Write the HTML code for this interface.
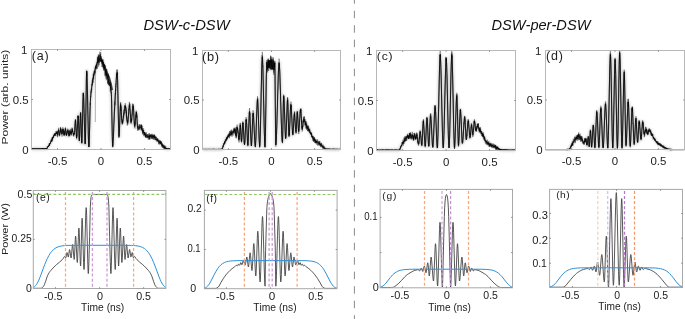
<!DOCTYPE html>
<html><head><meta charset="utf-8"><style>
html,body{margin:0;padding:0;background:#fff;}
svg{display:block;will-change:transform;}
text{font-family:"Liberation Sans",sans-serif;font-kerning:none;}
</style></head><body>
<svg width="685" height="319" viewBox="0 0 685 319">
<rect width="685" height="319" fill="#fff"/>
<line x1="354.4" y1="-3.8" x2="354.4" y2="319" stroke="#8a8a8a" stroke-width="1.0" stroke-dasharray="7.5 7" />
<text transform="translate(143.45,30.06) scale(1.0159,1)" font-size="14.548" style="font-style:italic;" fill="#111" >DSW-c-DSW</text>
<text transform="translate(491.45,30.08) scale(1.0034,1)" font-size="14.573" style="font-style:italic;" fill="#111" >DSW-per-DSW</text>
<text transform="translate(8.37,144.49) rotate(-90) scale(1.2882,1)" font-size="9.338" fill="#222">Power (arb. units)</text>
<text transform="translate(8.1,255) rotate(-90) scale(1.2637,1)" font-size="8.694" fill="#222">Power (W)</text>
<clipPath id="cla"><rect x="31.5" y="50.0" width="139.0" height="103.0"/></clipPath>
<clipPath id="clb"><rect x="202.5" y="51.0" width="138.0" height="102.0"/></clipPath>
<clipPath id="clc"><rect x="376.5" y="51.0" width="139.0" height="103.0"/></clipPath>
<clipPath id="cld"><rect x="545.5" y="51.0" width="139.0" height="102.0"/></clipPath>
<text transform="translate(47.69,164.58) scale(1.0400,1)" font-size="11.000" style="" fill="#222" >-0.5</text>
<text transform="translate(97.82,164.58) scale(1.0400,1)" font-size="11.000" style="" fill="#222" >0</text>
<text transform="translate(136.5,164.58) scale(1.0400,1)" font-size="11.000" style="" fill="#222" >0.5</text>
<text transform="translate(21.1,53.58) scale(1.0400,1)" font-size="11.000" style="" fill="#222" >1</text>
<text transform="translate(12.68,103.89) scale(1.0400,1)" font-size="11.000" style="" fill="#222" >0.5</text>
<text transform="translate(22.28,153.79) scale(1.0400,1)" font-size="11.000" style="" fill="#222" >0</text>
<text transform="translate(218.5,164.58) scale(1.0400,1)" font-size="11.000" style="" fill="#222" >-0.5</text>
<text transform="translate(268.32,164.58) scale(1.0400,1)" font-size="11.000" style="" fill="#222" >0</text>
<text transform="translate(306.69,164.58) scale(1.0400,1)" font-size="11.000" style="" fill="#222" >0.5</text>
<text transform="translate(192.1,54.58) scale(1.0400,1)" font-size="11.000" style="" fill="#222" >1</text>
<text transform="translate(183.68,104.39) scale(1.0400,1)" font-size="11.000" style="" fill="#222" >0.5</text>
<text transform="translate(193.28,153.79) scale(1.0400,1)" font-size="11.000" style="" fill="#222" >0</text>
<text transform="translate(392.79,165.58) scale(1.0400,1)" font-size="11.000" style="" fill="#222" >-0.5</text>
<text transform="translate(442.92,165.58) scale(1.0400,1)" font-size="11.000" style="" fill="#222" >0</text>
<text transform="translate(481.6,165.58) scale(1.0400,1)" font-size="11.000" style="" fill="#222" >0.5</text>
<text transform="translate(366.1,54.58) scale(1.0400,1)" font-size="11.000" style="" fill="#222" >1</text>
<text transform="translate(357.68,104.89) scale(1.0400,1)" font-size="11.000" style="" fill="#222" >0.5</text>
<text transform="translate(367.28,154.79) scale(1.0400,1)" font-size="11.000" style="" fill="#222" >0</text>
<text transform="translate(561.69,164.58) scale(1.0400,1)" font-size="11.000" style="" fill="#222" >-0.5</text>
<text transform="translate(611.82,164.58) scale(1.0400,1)" font-size="11.000" style="" fill="#222" >0</text>
<text transform="translate(650.5,164.58) scale(1.0400,1)" font-size="11.000" style="" fill="#222" >0.5</text>
<text transform="translate(535.1,54.58) scale(1.0400,1)" font-size="11.000" style="" fill="#222" >1</text>
<text transform="translate(526.68,104.39) scale(1.0400,1)" font-size="11.000" style="" fill="#222" >0.5</text>
<text transform="translate(536.28,153.79) scale(1.0400,1)" font-size="11.000" style="" fill="#222" >0</text>
<defs><filter id="bl" x="-5%" y="-5%" width="110%" height="110%"><feGaussianBlur stdDeviation="0.9"/></filter></defs>
<g clip-path="url(#cla)">
<path d="M31.5,148.9 L45.8,148.9 L46.3,148.72 L47.7,147.28 L48.8,145.68 L50,143.59 L53.6,136.41 L54.3,135.27 L55.6,133.53 L56.4,132.72 L57,132.5 L57.4,134.51 L57.5,134.75 L57.6,134.63 L58.3,130.79 L58.5,130.22 L58.6,130.27 L58.8,131.09 L59.3,134.51 L59.5,135.16 L59.6,135.1 L59.8,134.28 L60.4,129.85 L60.6,129.07 L60.7,129.03 L60.9,129.54 L61.5,133.03 L61.8,134.13 L61.9,134.16 L62.1,133.64 L62.7,130.06 L63,129.05 L63.1,129.11 L63.2,129.47 L63.8,134.11 L64,134.92 L64.1,134.91 L64.3,134.38 L65.1,129.85 L65.3,129.23 L65.4,129.15 L65.6,129.75 L66.2,134.42 L66.4,135.29 L66.5,135.34 L66.7,134.96 L67.5,130.98 L67.7,130.28 L67.9,130.06 L68.1,130.64 L68.7,134.87 L69,136.04 L69.1,135.97 L69.3,135.03 L69.9,130.81 L70,130.62 L70.2,130.92 L70.8,133.66 L71.1,134.39 L71.3,133.94 L71.9,130.13 L72.1,129.53 L72.2,129.56 L72.4,130.05 L73.3,134.23 L73.5,134.46 L73.9,134.33 L74.3,134 L74.5,132.85 L75.2,122.47 L75.4,120.66 L75.5,120.4 L75.6,120.8 L75.8,123.56 L76.4,136.19 L76.6,137.7 L76.8,136.75 L77,134.26 L77.9,117.73 L78.1,115.95 L78.2,115.7 L78.3,116.28 L78.5,120.28 L79.1,138.61 L79.3,140.8 L79.4,140.33 L79.6,136.99 L80.3,116.41 L80.5,113.07 L80.6,112.6 L80.7,113.2 L80.9,117.38 L81.5,138.42 L81.7,142.6 L81.8,143.2 L82,140.75 L82.2,134.36 L83,98.04 L83.2,93.44 L83.3,92.8 L83.5,94.38 L83.8,101.57 L84.8,138.15 L85,142.42 L85.2,144 L85.4,140.44 L85.6,131.16 L86.4,78.41 L86.6,71.73 L86.7,70.8 L86.9,72.57 L87.2,80.82 L88.4,136.98 L88.7,145.23 L88.9,147 L89.1,145.01 L89.3,139.77 L90.3,101.72 L90.9,94.16 L91.6,87.79 L92.3,82.99 L93.2,78.16 L94.3,72.96 L95.5,68.48 L97.1,63.2 L97.9,61.05 L99.3,58.94 L99.8,58.48 L100.3,58.3 L100.8,58.52 L101.4,59.23 L102.4,61 L102.8,62 L104.1,66.81 L104.9,69.42 L106.8,75.2 L108.9,81.14 L110.2,85.8 L110.9,89.56 L111.3,92.8 L111.5,97.16 L112.3,136.62 L112.5,143.76 L112.7,146.5 L112.9,145.58 L113.2,141.29 L114.3,113.89 L115.9,84.79 L116.6,75.5 L116.9,73.29 L117.1,72.59 L117.2,72.5 L117.4,74.69 L117.6,80.58 L118.6,128.42 L118.8,134.31 L119,136.5 L119.2,135.12 L119.4,131.48 L120.3,107.36 L120.5,104.76 L120.6,104.4 L120.8,105.21 L121,107.34 L121.9,121.47 L122.1,122.99 L122.2,123.2 L122.4,122.99 L122.6,122.41 L123,120.35 L124.6,108.23 L125,106.45 L125.3,106 L125.4,106.09 L125.6,106.8 L125.9,108.9 L127.1,121.11 L127.4,122.83 L127.6,123.2 L127.7,123.06 L128.1,120.12 L129.1,107.26 L129.3,105.76 L129.5,105.2 L129.7,105.94 L129.9,107.89 L130.8,120.81 L131,122.21 L131.1,122.4 L131.2,122.28 L131.6,119.84 L132.6,108.56 L132.9,106.46 L133.1,106 L133.3,106.87 L133.5,109.17 L134.4,124.43 L134.6,126.07 L134.7,126.3 L134.9,125.69 L135.1,124.1 L136,113.5 L136.2,112.36 L136.3,112.2 L136.5,113 L136.7,115.08 L137.5,126.89 L137.7,128.39 L137.8,128.6 L138.4,128.35 L139.8,127.12 L140.2,127 L140.5,127.09 L140.9,127.45 L141.3,128.03 L142.9,131.16 L143.7,132.36 L145.6,134.84 L147.5,136.8 L147.9,136.99 L148.5,136.94 L150.5,136.17 L151.3,136 L152,136.08 L152.8,136.41 L155.1,137.97 L156,138.72 L161.6,144.51 L164,146.86 L165.2,147.87 L166.3,148.56 L166.9,148.79 L170.3,148.9" fill="none" stroke="#000" stroke-opacity="0.16" stroke-width="3.2" stroke-linejoin="round" filter="url(#bl)"/>
<path d="M31.5,149.0 31.7,149.3 31.8,149.0 32.0,148.3 32.2,149.3 32.3,149.1 32.5,148.7 32.7,149.2 32.8,149.1 33.0,149.0 33.2,148.9 33.3,149.1 33.5,148.6 33.7,148.8 33.8,148.7 34.0,149.2 34.2,148.9 34.3,148.8 34.5,148.6 34.7,148.8 34.8,148.9 35.0,148.8 35.2,149.5 35.3,149.3 35.5,148.0 35.7,148.1 35.8,148.8 36.0,148.7 36.2,149.0 36.3,149.0 36.5,149.8 36.7,148.4 36.8,148.7 37.0,149.8 37.2,149.2 37.3,149.2 37.5,148.7 37.7,148.2 37.8,149.0 38.0,148.9 38.2,148.4 38.3,148.6 38.5,148.9 38.7,148.5 38.8,148.9 39.0,148.9 39.2,148.9 39.3,148.7 39.5,149.2 39.7,149.3 39.8,149.0 40.0,148.5 40.2,149.2 40.3,148.7 40.5,149.3 40.7,148.4 40.8,149.3 41.0,148.9 41.2,148.4 41.3,148.8 41.5,148.9 41.7,149.0 41.8,148.5 42.0,148.4 42.2,149.0 42.3,148.7 42.5,149.0 42.7,149.2 42.8,148.2 43.0,149.0 43.2,149.4 43.3,148.8 43.5,148.6 43.7,149.2 43.8,149.0 44.0,149.3 44.2,148.8 44.3,148.3 44.5,148.9 44.7,148.7 44.8,149.2 45.0,149.0 45.2,148.2 45.3,148.4 45.5,149.3 45.7,149.2 45.8,148.6 46.0,148.9 46.2,149.0 46.3,148.9 46.5,149.0 46.7,148.5 46.8,148.2 47.0,147.9 47.2,148.5 47.3,146.5 47.5,147.4 47.7,147.3 47.8,146.2 48.0,147.1 48.2,146.2 48.3,147.0 48.5,146.1 48.7,146.4 48.8,146.5 49.0,145.6 49.2,144.4 49.3,143.6 49.5,145.9 49.7,144.1 49.8,143.3 50.0,143.7 50.2,143.1 50.3,143.7 50.5,142.6 50.7,142.2 50.8,141.2 51.0,142.0 51.2,140.2 51.3,141.5 51.5,142.0 51.7,138.6 51.8,137.8 52.0,140.1 52.2,141.3 52.3,137.8 52.5,137.2 52.7,138.8 52.8,136.9 53.0,137.0 53.2,136.8 53.3,137.5 53.5,136.1 53.7,136.6 53.8,135.8 54.0,134.7 54.2,135.1 54.3,134.1 54.5,135.0 54.7,133.4 54.8,133.2 55.0,136.1 55.2,134.0 55.3,133.8 55.5,134.3 55.7,132.9 55.8,133.0 56.0,133.6 56.2,133.3 56.3,131.3 56.5,133.7 56.7,131.8 56.8,131.2 57.0,131.3 57.2,132.6 57.3,136.2 57.5,133.3 57.7,134.6 57.8,131.1 58.0,132.6 58.2,132.7 58.3,130.3 58.5,129.4 58.7,130.8 58.8,132.2 59.0,133.3 59.2,136.1 59.3,134.9 59.5,134.5 59.7,134.8 59.8,134.0 60.0,133.0 60.2,131.5 60.3,130.5 60.5,127.1 60.7,130.2 60.8,128.5 61.0,128.4 61.2,131.8 61.3,133.7 61.5,133.7 61.7,134.0 61.8,133.0 62.0,136.5 62.2,134.4 62.3,130.9 62.5,130.3 62.7,130.4 62.8,127.3 63.0,129.3 63.2,128.7 63.3,131.9 63.5,132.9 63.7,130.6 63.8,134.4 64.0,133.0 64.2,136.1 64.3,134.5 64.5,134.1 64.7,131.0 64.8,133.7 65.0,133.0 65.2,128.1 65.3,129.7 65.5,128.4 65.7,130.1 65.8,129.8 66.0,135.2 66.2,133.0 66.3,134.8 66.5,135.9 66.7,134.3 66.8,134.2 67.0,132.9 67.2,132.6 67.3,130.3 67.5,130.4 67.7,130.1 67.8,129.6 68.0,130.3 68.2,130.6 68.3,133.1 68.5,133.0 68.7,134.5 68.8,134.8 69.0,135.4 69.2,134.3 69.3,135.4 69.5,132.1 69.7,131.2 69.8,131.6 70.0,131.2 70.2,130.3 70.3,128.8 70.5,132.7 70.7,133.4 70.8,132.0 71.0,135.2 71.2,133.5 71.3,132.4 71.5,132.9 71.7,131.4 71.8,130.8 72.0,127.5 72.2,132.0 72.3,129.0 72.5,128.4 72.7,132.1 72.8,131.7 73.0,133.5 73.2,133.4 73.3,134.2 73.5,134.8 73.7,133.5 73.8,135.2 74.0,133.7 74.2,133.1 74.3,134.0 74.5,133.4 74.7,130.5 74.8,127.0 75.0,126.3 75.2,120.2 75.3,119.5 75.5,120.5 75.7,119.3 75.8,124.2 76.0,127.8 76.2,132.9 76.3,134.0 76.5,136.6 76.7,138.0 76.8,134.1 77.0,136.7 77.2,130.5 77.3,127.0 77.5,125.9 77.7,121.3 77.8,115.7 78.0,117.7 78.2,117.2 78.3,116.0 78.5,119.8 78.7,126.1 78.8,129.9 79.0,136.7 79.2,140.0 79.3,140.1 79.5,137.5 79.7,135.1 79.8,129.3 80.0,126.6 80.2,120.1 80.3,117.0 80.5,113.3 80.7,113.3 80.8,114.3 81.0,121.6 81.2,129.2 81.3,132.5 81.5,137.8 81.7,142.0 81.8,142.7 82.0,140.1 82.2,135.8 82.3,128.2 82.5,122.8 82.7,112.2 82.8,105.0 83.0,100.0 83.2,93.3 83.3,95.9 83.5,93.1 83.7,96.2 83.8,101.9 84.0,108.3 84.2,112.7 84.3,121.7 84.5,125.9 84.7,135.9 84.8,138.9 85.0,141.8 85.2,143.2 85.3,142.0 85.5,136.1 85.7,125.7 85.8,114.3 86.0,103.4 86.2,90.9 86.3,83.9 86.5,77.1 86.7,70.9 86.8,72.7 87.0,71.5 87.2,81.1 87.3,86.0 87.5,94.7 87.7,105.1 87.8,107.1 88.0,119.6 88.2,125.7 88.3,135.2 88.5,139.0 88.7,144.2 88.8,146.9 89.0,146.9 89.2,143.6 89.3,137.8 89.5,131.6 89.7,126.5 89.8,117.9 90.0,108.0 90.2,106.8 90.3,101.9 90.5,100.5 90.7,96.0 90.8,96.6 91.0,90.9 91.2,92.7 91.3,88.9 91.5,90.1 91.7,89.5 91.8,84.4 92.0,84.8 92.2,83.9 92.3,85.5 92.5,83.4 92.7,78.1 92.8,81.1 93.0,80.9 93.2,83.0 93.3,73.6 93.5,75.4 93.7,79.0 93.8,71.8 94.0,71.4 94.2,74.8 94.3,75.3 94.5,70.5 94.7,72.8 94.8,71.1 95.0,73.9 95.2,69.6 95.3,71.5 95.5,66.3 95.7,67.5 95.8,67.1 96.0,69.6 96.2,67.7 96.3,63.9 96.5,66.9 96.7,66.5 96.8,63.8 97.0,62.7 97.2,62.3 97.3,56.8 97.5,62.7 97.7,62.4 97.8,58.3 98.0,63.3 98.2,55.9 98.3,58.4 98.5,58.4 98.7,66.5 98.8,54.2 99.0,61.2 99.2,62.3 99.3,60.2 99.5,62.7 99.7,55.2 99.8,51.7 100.0,61.0 100.2,54.3 100.3,57.2 100.5,54.3 100.7,62.0 100.8,61.5 101.0,56.3 101.2,62.0 101.3,59.5 101.5,58.9 101.7,59.9 101.8,59.3 102.0,62.3 102.2,61.6 102.3,59.7 102.5,64.6 102.7,59.6 102.8,63.1 103.0,64.0 103.2,68.2 103.3,62.2 103.5,70.3 103.7,65.7 103.8,65.2 104.0,64.2 104.2,69.0 104.3,67.8 104.5,64.5 104.7,65.0 104.8,67.4 105.0,67.5 105.2,73.8 105.3,75.2 105.5,74.1 105.7,72.9 105.8,70.9 106.0,73.0 106.2,76.1 106.3,80.2 106.5,77.2 106.7,73.9 106.8,75.4 107.0,74.2 107.2,73.8 107.3,76.1 107.5,77.7 107.7,83.3 107.8,78.2 108.0,82.7 108.2,84.4 108.3,79.6 108.5,84.9 108.7,82.6 108.8,79.6 109.0,82.3 109.2,82.1 109.3,82.0 109.5,82.7 109.7,84.3 109.8,85.7 110.0,82.3 110.2,85.6 110.3,81.8 110.5,88.0 110.7,89.9 110.8,89.6 111.0,90.9 111.2,92.9 111.3,91.8 111.5,96.7 111.7,104.8 111.8,113.9 112.0,121.9 112.2,132.9 112.3,137.9 112.5,144.6 112.7,147.3 112.8,146.0 113.0,143.8 113.2,140.8 113.3,138.7 113.5,135.9 113.7,130.6 113.8,126.0 114.0,120.6 114.2,117.9 114.3,109.7 114.5,110.4 114.7,107.2 114.8,101.5 115.0,105.0 115.2,95.2 115.3,92.6 115.5,89.2 115.7,91.2 115.8,83.9 116.0,84.7 116.2,82.0 116.3,79.1 116.5,73.4 116.7,73.5 116.8,77.7 117.0,69.8 117.2,70.5 117.3,73.1 117.5,79.1 117.7,83.7 117.8,92.3 118.0,97.1 118.2,109.8 118.3,117.6 118.5,122.0 118.7,132.8 118.8,137.4 119.0,135.6 119.2,135.6 119.3,134.7 119.5,127.0 119.7,121.5 119.8,117.4 120.0,113.6 120.2,109.1 120.3,107.9 120.5,105.3 120.7,102.1 120.8,106.6 121.0,110.8 121.2,112.0 121.3,114.4 121.5,115.6 121.7,119.9 121.8,119.2 122.0,123.6 122.2,123.0 122.3,124.8 122.5,123.5 122.7,120.5 122.8,121.5 123.0,122.3 123.2,117.4 123.3,117.1 123.5,115.4 123.7,112.8 123.8,115.6 124.0,114.8 124.2,112.6 124.3,110.4 124.5,108.8 124.7,108.3 124.8,105.7 125.0,108.1 125.2,108.1 125.3,107.8 125.5,105.4 125.7,107.3 125.8,108.0 126.0,113.0 126.2,111.8 126.3,110.0 126.5,115.8 126.7,120.1 126.8,119.9 127.0,121.7 127.2,121.7 127.3,119.5 127.5,120.3 127.7,121.2 127.8,122.3 128.0,121.6 128.2,120.5 128.3,116.7 128.5,116.5 128.7,112.1 128.8,109.0 129.0,109.8 129.2,105.0 129.3,101.8 129.5,103.2 129.7,105.9 129.8,103.4 130.0,108.5 130.2,111.1 130.3,111.9 130.5,114.5 130.7,118.6 130.8,120.3 131.0,124.2 131.2,122.9 131.3,119.3 131.5,119.3 131.7,120.3 131.8,120.5 132.0,116.1 132.2,113.9 132.3,114.7 132.5,109.5 132.7,107.4 132.8,104.2 133.0,105.2 133.2,109.9 133.3,104.5 133.5,109.2 133.7,109.3 133.8,115.1 134.0,119.5 134.2,120.7 134.3,124.7 134.5,126.5 134.7,126.9 134.8,128.5 135.0,126.2 135.2,122.9 135.3,120.4 135.5,117.9 135.7,117.9 135.8,114.5 136.0,117.0 136.2,115.7 136.3,111.8 136.5,112.4 136.7,117.6 136.8,113.8 137.0,118.9 137.2,123.8 137.3,123.5 137.5,126.2 137.7,127.7 137.8,129.5 138.0,128.8 138.2,129.3 138.3,129.5 138.5,128.3 138.7,130.2 138.8,126.6 139.0,125.1 139.2,124.2 139.3,124.4 139.5,126.3 139.7,129.2 139.8,127.4 140.0,125.9 140.2,124.9 140.3,126.0 140.5,126.3 140.7,126.1 140.8,124.6 141.0,126.7 141.2,129.8 141.3,124.3 141.5,127.9 141.7,124.9 141.8,129.4 142.0,128.0 142.2,126.0 142.3,130.2 142.5,133.7 142.7,130.9 142.8,133.2 143.0,131.2 143.2,128.0 143.3,132.7 143.5,131.3 143.7,129.7 143.8,133.9 144.0,133.3 144.2,132.1 144.3,134.8 144.5,131.9 144.7,134.8 144.8,132.3 145.0,135.0 145.2,132.4 145.3,137.1 145.5,135.2 145.7,137.4 145.8,133.7 146.0,134.5 146.2,136.9 146.3,132.3 146.5,134.0 146.7,137.7 146.8,136.9 147.0,138.0 147.2,136.0 147.3,137.6 147.5,135.6 147.7,134.7 147.8,134.2 148.0,136.1 148.2,136.1 148.3,135.9 148.5,133.7 148.7,133.6 148.8,136.0 149.0,137.3 149.2,135.8 149.3,135.2 149.5,133.3 149.7,139.8 149.8,134.6 150.0,139.2 150.2,138.9 150.3,136.7 150.5,135.2 150.7,136.3 150.8,134.1 151.0,136.5 151.2,136.0 151.3,136.9 151.5,137.6 151.7,138.9 151.8,135.4 152.0,137.8 152.2,134.8 152.3,134.7 152.5,135.2 152.7,134.7 152.8,138.1 153.0,138.0 153.2,138.7 153.3,136.7 153.5,137.3 153.7,136.0 153.8,135.2 154.0,137.9 154.2,137.7 154.3,135.6 154.5,138.5 154.7,134.9 154.8,137.5 155.0,136.9 155.2,137.2 155.3,136.4 155.5,139.8 155.7,139.3 155.8,140.4 156.0,138.9 156.2,136.8 156.3,138.4 156.5,137.3 156.7,140.1 156.8,141.4 157.0,140.2 157.2,139.0 157.3,139.5 157.5,140.5 157.7,138.2 157.8,140.8 158.0,141.1 158.2,140.1 158.3,140.5 158.5,141.5 158.7,140.2 158.8,140.4 159.0,142.9 159.2,142.3 159.3,144.5 159.5,140.9 159.7,139.9 159.8,144.0 160.0,144.2 160.2,142.0 160.3,141.1 160.5,143.3 160.7,141.1 160.8,143.2 161.0,141.2 161.2,143.7 161.3,141.6 161.5,144.1 161.7,146.5 161.8,144.3 162.0,145.9 162.2,144.2 162.3,144.0 162.5,143.4 162.7,146.8 162.8,145.6 163.0,147.8 163.2,144.6 163.3,145.9 163.5,146.4 163.7,148.2 163.8,148.8 164.0,146.1 164.2,145.7 164.3,145.1 164.5,148.8 164.7,147.3 164.8,146.8 165.0,147.6 165.2,145.7 165.3,146.1 165.5,149.0 165.7,148.5 165.8,148.4 166.0,147.8 166.2,148.8 166.3,149.4 166.5,148.0 166.7,148.7 166.8,148.6 167.0,148.9 167.2,148.8 167.3,148.7 167.5,148.4 167.7,148.8 167.8,148.6 168.0,148.8 168.2,148.8 168.3,149.1 168.5,148.6 168.7,148.7 168.8,149.3 169.0,148.8 169.2,148.8 169.3,149.2 169.5,149.0 169.7,148.9 169.8,149.0 170.0,148.3 170.2,149.1" fill="none" stroke="#000" stroke-opacity="0.7" stroke-width="0.45"/>
<path d="M31.5,149.4 31.7,149.1 31.8,148.2 32.0,149.0 32.2,148.5 32.3,148.8 32.5,148.9 32.7,148.4 32.8,149.5 33.0,148.9 33.2,149.2 33.3,149.2 33.5,149.5 33.7,149.4 33.8,148.2 34.0,148.9 34.2,148.0 34.3,148.7 34.5,149.2 34.7,149.3 34.8,149.4 35.0,148.7 35.2,149.0 35.3,148.9 35.5,149.4 35.7,149.6 35.8,148.7 36.0,149.8 36.2,148.9 36.3,148.7 36.5,149.1 36.7,149.2 36.8,149.1 37.0,148.6 37.2,149.5 37.3,148.9 37.5,149.6 37.7,149.5 37.8,148.3 38.0,148.5 38.2,148.5 38.3,149.0 38.5,148.9 38.7,149.0 38.8,148.5 39.0,149.1 39.2,149.5 39.3,148.3 39.5,148.8 39.7,149.0 39.8,148.8 40.0,148.8 40.2,149.7 40.3,149.4 40.5,149.3 40.7,148.6 40.8,149.8 41.0,149.0 41.2,148.6 41.3,148.7 41.5,148.7 41.7,149.8 41.8,149.0 42.0,148.9 42.2,148.0 42.3,149.2 42.5,148.4 42.7,148.4 42.8,149.2 43.0,148.5 43.2,149.3 43.3,149.4 43.5,148.1 43.7,148.8 43.8,148.2 44.0,148.9 44.2,149.3 44.3,148.3 44.5,149.7 44.7,148.8 44.8,148.4 45.0,148.8 45.2,149.2 45.3,148.3 45.5,148.9 45.7,148.3 45.8,149.4 46.0,148.9 46.2,148.6 46.3,149.2 46.5,147.9 46.7,148.2 46.8,149.2 47.0,148.0 47.2,148.6 47.3,147.8 47.5,147.1 47.7,147.1 47.8,147.1 48.0,146.6 48.2,146.1 48.3,145.9 48.5,145.1 48.7,146.0 48.8,145.9 49.0,145.9 49.2,143.6 49.3,145.4 49.5,144.5 49.7,143.0 49.8,144.0 50.0,144.3 50.2,143.7 50.3,143.6 50.5,143.4 50.7,143.0 50.8,141.8 51.0,139.6 51.2,140.4 51.3,141.2 51.5,140.0 51.7,140.8 51.8,140.6 52.0,139.5 52.2,141.2 52.3,137.8 52.5,139.5 52.7,137.7 52.8,137.0 53.0,138.2 53.2,136.5 53.3,137.9 53.5,135.2 53.7,136.3 53.8,135.0 54.0,135.4 54.2,135.0 54.3,133.8 54.5,135.8 54.7,133.3 54.8,133.3 55.0,135.4 55.2,135.3 55.3,134.7 55.5,134.1 55.7,136.0 55.8,131.7 56.0,132.1 56.2,131.6 56.3,133.9 56.5,133.0 56.7,134.0 56.8,133.7 57.0,132.2 57.2,132.0 57.3,132.9 57.5,137.2 57.7,135.6 57.8,134.4 58.0,132.1 58.2,131.2 58.3,130.2 58.5,129.8 58.7,127.8 58.8,131.2 59.0,132.0 59.2,134.0 59.3,134.9 59.5,136.2 59.7,134.9 59.8,135.0 60.0,130.3 60.2,130.1 60.3,132.6 60.5,127.7 60.7,128.6 60.8,130.2 61.0,128.8 61.2,131.9 61.3,130.2 61.5,130.6 61.7,132.1 61.8,132.1 62.0,133.9 62.2,132.9 62.3,132.8 62.5,129.9 62.7,132.9 62.8,129.3 63.0,129.0 63.2,129.9 63.3,130.0 63.5,130.8 63.7,133.2 63.8,135.4 64.0,135.7 64.2,135.9 64.3,133.5 64.5,132.4 64.7,134.9 64.8,131.0 65.0,131.0 65.2,130.6 65.3,131.1 65.5,127.4 65.7,129.5 65.8,130.8 66.0,132.5 66.2,131.7 66.3,135.0 66.5,133.0 66.7,135.4 66.8,135.1 67.0,134.4 67.2,131.2 67.3,133.0 67.5,129.8 67.7,128.7 67.8,128.7 68.0,129.1 68.2,131.2 68.3,133.2 68.5,130.9 68.7,134.0 68.8,136.7 69.0,136.3 69.2,136.3 69.3,133.0 69.5,134.7 69.7,130.1 69.8,131.3 70.0,132.4 70.2,133.3 70.3,132.1 70.5,133.3 70.7,132.3 70.8,133.2 71.0,135.7 71.2,134.3 71.3,133.6 71.5,131.0 71.7,131.8 71.8,131.4 72.0,128.6 72.2,128.8 72.3,132.0 72.5,130.7 72.7,130.9 72.8,130.7 73.0,132.3 73.2,133.5 73.3,136.0 73.5,133.7 73.7,136.6 73.8,133.2 74.0,133.8 74.2,135.2 74.3,133.6 74.5,131.8 74.7,130.6 74.8,128.8 75.0,122.9 75.2,122.5 75.3,120.9 75.5,119.8 75.7,122.6 75.8,123.4 76.0,127.4 76.2,131.8 76.3,136.0 76.5,137.0 76.7,139.3 76.8,135.4 77.0,135.8 77.2,130.2 77.3,127.8 77.5,125.2 77.7,124.5 77.8,120.1 78.0,116.0 78.2,117.9 78.3,116.4 78.5,119.0 78.7,126.1 78.8,131.2 79.0,137.3 79.2,139.2 79.3,141.1 79.5,139.7 79.7,135.7 79.8,130.4 80.0,124.0 80.2,121.4 80.3,115.9 80.5,113.9 80.7,112.3 80.8,115.6 81.0,118.9 81.2,126.7 81.3,133.9 81.5,138.5 81.7,143.0 81.8,143.4 82.0,142.1 82.2,135.4 82.3,126.3 82.5,121.2 82.7,111.9 82.8,102.5 83.0,99.4 83.2,94.5 83.3,93.8 83.5,93.7 83.7,98.2 83.8,103.1 84.0,111.8 84.2,113.9 84.3,121.7 84.5,128.8 84.7,132.0 84.8,137.3 85.0,144.3 85.2,142.5 85.3,142.9 85.5,135.4 85.7,126.1 85.8,112.5 86.0,102.0 86.2,93.6 86.3,78.6 86.5,75.8 86.7,71.7 86.8,76.4 87.0,73.5 87.2,82.5 87.3,88.1 87.5,93.1 87.7,98.8 87.8,113.3 88.0,117.0 88.2,126.6 88.3,135.5 88.5,141.5 88.7,143.9 88.8,146.8 89.0,146.3 89.2,144.6 89.3,140.8 89.5,130.0 89.7,126.5 89.8,114.6 90.0,111.0 90.2,103.1 90.3,105.0 90.5,99.1 90.7,95.2 90.8,93.8 91.0,91.9 91.2,91.9 91.3,89.7 91.5,90.0 91.7,90.6 91.8,87.6 92.0,82.2 92.2,80.2 92.3,81.1 92.5,84.2 92.7,80.1 92.8,78.5 93.0,79.5 93.2,75.0 93.3,74.8 93.5,77.9 93.7,75.2 93.8,74.0 94.0,75.0 94.2,72.1 94.3,71.2 94.5,71.0 94.7,72.9 94.8,71.0 95.0,67.3 95.2,68.9 95.3,70.6 95.5,73.1 95.7,65.1 95.8,68.2 96.0,66.2 96.2,68.3 96.3,66.8 96.5,68.8 96.7,65.9 96.8,62.7 97.0,61.7 97.2,64.3 97.3,63.8 97.5,68.7 97.7,67.2 97.8,57.3 98.0,62.0 98.2,56.1 98.3,54.7 98.5,62.5 98.7,61.6 98.8,56.0 99.0,64.9 99.2,55.8 99.3,55.0 99.5,60.9 99.7,59.3 99.8,57.9 100.0,58.1 100.2,59.1 100.3,57.8 100.5,57.8 100.7,52.0 100.8,54.0 101.0,60.8 101.2,56.5 101.3,61.0 101.5,63.6 101.7,58.5 101.8,60.9 102.0,67.0 102.2,62.9 102.3,67.1 102.5,66.3 102.7,64.1 102.8,61.7 103.0,59.8 103.2,59.5 103.3,65.5 103.5,66.1 103.7,64.6 103.8,68.6 104.0,64.5 104.2,70.7 104.3,67.7 104.5,68.0 104.7,68.7 104.8,68.9 105.0,76.2 105.2,65.0 105.3,71.3 105.5,75.3 105.7,74.1 105.8,71.3 106.0,78.4 106.2,69.9 106.3,69.6 106.5,76.1 106.7,70.2 106.8,69.0 107.0,78.6 107.2,78.6 107.3,79.0 107.5,75.6 107.7,78.1 107.8,75.0 108.0,83.9 108.2,81.4 108.3,81.7 108.5,73.8 108.7,82.9 108.8,85.5 109.0,85.2 109.2,84.5 109.3,82.7 109.5,82.2 109.7,85.7 109.8,85.6 110.0,85.7 110.2,84.7 110.3,91.4 110.5,83.7 110.7,88.0 110.8,87.4 111.0,92.5 111.2,94.6 111.3,95.8 111.5,98.7 111.7,101.1 111.8,115.7 112.0,122.1 112.2,130.1 112.3,138.1 112.5,143.5 112.7,146.7 112.8,146.3 113.0,144.2 113.2,140.0 113.3,138.5 113.5,135.2 113.7,130.9 113.8,125.5 114.0,121.9 114.2,118.7 114.3,112.4 114.5,112.6 114.7,103.5 114.8,101.7 115.0,99.3 115.2,93.9 115.3,92.8 115.5,94.4 115.7,91.5 115.8,86.1 116.0,87.1 116.2,81.2 116.3,77.3 116.5,77.1 116.7,74.6 116.8,75.4 117.0,69.3 117.2,74.9 117.3,72.4 117.5,79.2 117.7,79.7 117.8,89.8 118.0,99.3 118.2,109.7 118.3,114.6 118.5,126.9 118.7,131.4 118.8,134.3 119.0,137.9 119.2,135.6 119.3,134.4 119.5,131.8 119.7,125.6 119.8,118.6 120.0,113.8 120.2,111.2 120.3,107.3 120.5,103.2 120.7,103.2 120.8,106.7 121.0,111.0 121.2,106.2 121.3,113.9 121.5,115.2 121.7,119.6 121.8,122.1 122.0,122.5 122.2,121.6 122.3,121.0 122.5,119.9 122.7,124.0 122.8,121.0 123.0,119.5 123.2,118.8 123.3,115.8 123.5,117.2 123.7,117.5 123.8,115.9 124.0,109.8 124.2,113.6 124.3,108.6 124.5,105.4 124.7,105.6 124.8,105.3 125.0,106.4 125.2,104.2 125.3,103.2 125.5,105.9 125.7,110.7 125.8,107.1 126.0,110.6 126.2,111.6 126.3,116.8 126.5,111.9 126.7,118.8 126.8,116.7 127.0,119.4 127.2,121.4 127.3,125.6 127.5,121.9 127.7,120.3 127.8,124.5 128.0,119.8 128.2,119.0 128.3,117.2 128.5,115.1 128.7,112.3 128.8,110.8 129.0,109.0 129.2,108.3 129.3,104.8 129.5,103.8 129.7,103.7 129.8,108.2 130.0,109.1 130.2,112.6 130.3,115.3 130.5,119.8 130.7,119.6 130.8,122.3 131.0,120.3 131.2,120.7 131.3,121.3 131.5,118.8 131.7,120.3 131.8,115.2 132.0,115.5 132.2,109.9 132.3,109.4 132.5,108.9 132.7,107.5 132.8,103.5 133.0,106.3 133.2,107.9 133.3,108.4 133.5,108.0 133.7,110.8 133.8,112.9 134.0,119.1 134.2,123.3 134.3,122.8 134.5,122.9 134.7,126.6 134.8,127.1 135.0,122.0 135.2,123.6 135.3,124.6 135.5,120.6 135.7,118.0 135.8,115.8 136.0,115.3 136.2,110.8 136.3,110.7 136.5,113.7 136.7,113.5 136.8,117.4 137.0,116.5 137.2,123.5 137.3,126.1 137.5,127.0 137.7,128.5 137.8,130.9 138.0,126.5 138.2,126.8 138.3,126.3 138.5,127.5 138.7,126.2 138.8,128.0 139.0,126.6 139.2,124.9 139.3,124.5 139.5,129.7 139.7,127.1 139.8,126.7 140.0,127.1 140.2,126.8 140.3,128.5 140.5,128.2 140.7,126.1 140.8,125.8 141.0,125.5 141.2,125.4 141.3,130.8 141.5,126.6 141.7,124.9 141.8,127.4 142.0,127.9 142.2,130.3 142.3,128.4 142.5,131.4 142.7,131.4 142.8,133.3 143.0,135.0 143.2,135.2 143.3,134.3 143.5,130.0 143.7,131.6 143.8,133.0 144.0,136.3 144.2,134.2 144.3,135.3 144.5,133.1 144.7,134.7 144.8,135.1 145.0,133.3 145.2,135.7 145.3,136.4 145.5,134.5 145.7,136.7 145.8,137.9 146.0,135.4 146.2,135.5 146.3,135.1 146.5,134.8 146.7,136.2 146.8,135.5 147.0,135.8 147.2,135.2 147.3,134.1 147.5,135.3 147.7,137.4 147.8,135.0 148.0,135.9 148.2,139.7 148.3,138.8 148.5,135.8 148.7,137.9 148.8,135.8 149.0,139.5 149.2,135.8 149.3,136.8 149.5,138.9 149.7,135.1 149.8,138.6 150.0,135.0 150.2,136.7 150.3,135.7 150.5,136.0 150.7,136.4 150.8,135.9 151.0,134.3 151.2,137.5 151.3,137.2 151.5,138.2 151.7,138.3 151.8,133.8 152.0,138.2 152.2,138.3 152.3,135.3 152.5,138.0 152.7,138.8 152.8,135.5 153.0,134.2 153.2,136.0 153.3,140.0 153.5,137.2 153.7,135.0 153.8,136.7 154.0,135.6 154.2,136.7 154.3,137.6 154.5,134.3 154.7,138.2 154.8,140.1 155.0,137.6 155.2,137.4 155.3,139.9 155.5,136.3 155.7,136.4 155.8,136.4 156.0,138.5 156.2,139.5 156.3,138.9 156.5,140.1 156.7,140.7 156.8,140.3 157.0,138.5 157.2,139.5 157.3,142.0 157.5,138.7 157.7,140.0 157.8,140.0 158.0,140.5 158.2,139.4 158.3,139.1 158.5,144.2 158.7,142.9 158.8,140.6 159.0,141.7 159.2,143.0 159.3,141.7 159.5,143.2 159.7,141.6 159.8,142.2 160.0,142.7 160.2,142.4 160.3,140.4 160.5,143.4 160.7,143.9 160.8,144.4 161.0,142.6 161.2,144.5 161.3,144.5 161.5,142.1 161.7,141.9 161.8,145.4 162.0,143.7 162.2,146.4 162.3,147.8 162.5,144.6 162.7,144.7 162.8,145.7 163.0,146.7 163.2,144.7 163.3,147.7 163.5,147.6 163.7,147.3 163.8,146.1 164.0,147.9 164.2,148.0 164.3,145.8 164.5,149.6 164.7,147.1 164.8,148.0 165.0,147.2 165.2,148.3 165.3,149.2 165.5,147.2 165.7,146.5 165.8,147.8 166.0,147.7 166.2,148.1 166.3,148.5 166.5,148.6 166.7,149.3 166.8,148.3 167.0,149.0 167.2,148.6 167.3,149.4 167.5,149.7 167.7,149.0 167.8,149.6 168.0,148.6 168.2,148.2 168.3,148.3 168.5,148.2 168.7,148.5 168.8,148.8 169.0,149.4 169.2,149.2 169.3,149.1 169.5,148.7 169.7,148.6 169.8,148.9 170.0,149.0 170.2,149.0" fill="none" stroke="#000" stroke-opacity="0.7" stroke-width="0.45"/>
<path d="M31.5,148.9 L45.8,148.9 L46.3,148.72 L47.7,147.28 L48.8,145.68 L50,143.59 L53.6,136.41 L54.3,135.27 L55.6,133.53 L56.4,132.72 L57,132.5 L57.4,134.51 L57.5,134.75 L57.6,134.63 L58.3,130.79 L58.5,130.22 L58.6,130.27 L58.8,131.09 L59.3,134.51 L59.5,135.16 L59.6,135.1 L59.8,134.28 L60.4,129.85 L60.6,129.07 L60.7,129.03 L60.9,129.54 L61.5,133.03 L61.8,134.13 L61.9,134.16 L62.1,133.64 L62.7,130.06 L63,129.05 L63.1,129.11 L63.2,129.47 L63.8,134.11 L64,134.92 L64.1,134.91 L64.3,134.38 L65.1,129.85 L65.3,129.23 L65.4,129.15 L65.6,129.75 L66.2,134.42 L66.4,135.29 L66.5,135.34 L66.7,134.96 L67.5,130.98 L67.7,130.28 L67.9,130.06 L68.1,130.64 L68.7,134.87 L69,136.04 L69.1,135.97 L69.3,135.03 L69.9,130.81 L70,130.62 L70.2,130.92 L70.8,133.66 L71.1,134.39 L71.3,133.94 L71.9,130.13 L72.1,129.53 L72.2,129.56 L72.4,130.05 L73.3,134.23 L73.5,134.46 L73.9,134.33 L74.3,134 L74.5,132.85 L75.2,122.47 L75.4,120.66 L75.5,120.4 L75.6,120.8 L75.8,123.56 L76.4,136.19 L76.6,137.7 L76.8,136.75 L77,134.26 L77.9,117.73 L78.1,115.95 L78.2,115.7 L78.3,116.28 L78.5,120.28 L79.1,138.61 L79.3,140.8 L79.4,140.33 L79.6,136.99 L80.3,116.41 L80.5,113.07 L80.6,112.6 L80.7,113.2 L80.9,117.38 L81.5,138.42 L81.7,142.6 L81.8,143.2 L82,140.75 L82.2,134.36 L83,98.04 L83.2,93.44 L83.3,92.8 L83.5,94.38 L83.8,101.57 L84.8,138.15 L85,142.42 L85.2,144 L85.4,140.44 L85.6,131.16 L86.4,78.41 L86.6,71.73 L86.7,70.8 L86.9,72.57 L87.2,80.82 L88.4,136.98 L88.7,145.23 L88.9,147 L89.1,145.01 L89.3,139.77 L90.3,101.72 L90.9,94.16 L91.6,87.79 L92.3,82.99 L93.2,78.16 L94.3,72.96 L95.5,68.48 L97.1,63.2 L97.9,61.05 L99.3,58.94 L99.8,58.48 L100.3,58.3 L100.8,58.52 L101.4,59.23 L102.4,61 L102.8,62 L104.1,66.81 L104.9,69.42 L106.8,75.2 L108.9,81.14 L110.2,85.8 L110.9,89.56 L111.3,92.8 L111.5,97.16 L112.3,136.62 L112.5,143.76 L112.7,146.5 L112.9,145.58 L113.2,141.29 L114.3,113.89 L115.9,84.79 L116.6,75.5 L116.9,73.29 L117.1,72.59 L117.2,72.5 L117.4,74.69 L117.6,80.58 L118.6,128.42 L118.8,134.31 L119,136.5 L119.2,135.12 L119.4,131.48 L120.3,107.36 L120.5,104.76 L120.6,104.4 L120.8,105.21 L121,107.34 L121.9,121.47 L122.1,122.99 L122.2,123.2 L122.4,122.99 L122.6,122.41 L123,120.35 L124.6,108.23 L125,106.45 L125.3,106 L125.4,106.09 L125.6,106.8 L125.9,108.9 L127.1,121.11 L127.4,122.83 L127.6,123.2 L127.7,123.06 L128.1,120.12 L129.1,107.26 L129.3,105.76 L129.5,105.2 L129.7,105.94 L129.9,107.89 L130.8,120.81 L131,122.21 L131.1,122.4 L131.2,122.28 L131.6,119.84 L132.6,108.56 L132.9,106.46 L133.1,106 L133.3,106.87 L133.5,109.17 L134.4,124.43 L134.6,126.07 L134.7,126.3 L134.9,125.69 L135.1,124.1 L136,113.5 L136.2,112.36 L136.3,112.2 L136.5,113 L136.7,115.08 L137.5,126.89 L137.7,128.39 L137.8,128.6 L138.4,128.35 L139.8,127.12 L140.2,127 L140.5,127.09 L140.9,127.45 L141.3,128.03 L142.9,131.16 L143.7,132.36 L145.6,134.84 L147.5,136.8 L147.9,136.99 L148.5,136.94 L150.5,136.17 L151.3,136 L152,136.08 L152.8,136.41 L155.1,137.97 L156,138.72 L161.6,144.51 L164,146.86 L165.2,147.87 L166.3,148.56 L166.9,148.79 L170.3,148.9" fill="none" stroke="#000" stroke-opacity="0.85" stroke-width="0.9" stroke-linejoin="round"/>
</g>
<line x1="95.3" y1="69" x2="95.3" y2="122" stroke="#777" stroke-width="0.6"/>
<path d="M99.2,59.5 C101,58.8 102.5,62 104,66 C105.5,70 107,73.5 108.3,76.5 C109.5,80 110.5,84 111.2,89" fill="none" stroke="#000" stroke-opacity="0.75" stroke-width="1.8" transform="translate(0.9,1.2)"/>
<g clip-path="url(#clb)">
<path d="M202.3,149.4 L221.6,149.4 L221.8,149.32 L222.1,148.95 L222.5,148.08 L223.9,144.03 L225.9,139.89 L228,136.5 L228.8,135.5 L229.9,134.35 L231,133.5 L232.7,132.87 L233.3,132.51 L234.5,130.23 L234.9,129.9 L235.2,130.82 L235.8,134.88 L236.1,135.8 L236.2,135.64 L236.4,134.5 L237,128.8 L237.2,127.66 L237.3,127.5 L237.5,127.91 L237.7,129 L238.7,137.9 L238.9,138.99 L239.1,139.4 L239.2,139.12 L239.4,137.17 L240,127.33 L240.2,125.38 L240.3,125.1 L240.4,125.43 L240.6,127.71 L241.2,139.19 L241.4,141.47 L241.5,141.8 L241.6,141.52 L241.8,139.54 L242.6,124.96 L242.8,122.98 L242.9,122.7 L243,122.95 L243.2,124.73 L244.1,141.26 L244.3,143.75 L244.5,144.7 L244.7,143.72 L244.9,141.12 L245.8,122.68 L246,120.08 L246.2,119.1 L246.4,120.1 L246.6,122.77 L247.5,141.63 L247.7,144.3 L247.9,145.3 L248,144.92 L248.2,142.18 L249.1,116.78 L249.3,112.95 L249.5,111.5 L249.7,112.56 L249.9,115.43 L250.9,140.01 L251.3,145.62 L251.4,145.9 L251.5,145.57 L251.7,143.19 L252.7,117.61 L252.9,114.26 L253.1,113 L253.3,113.78 L253.6,117.4 L254.8,142.1 L255.1,145.72 L255.3,146.5 L255.5,145.41 L255.8,140.35 L257,105.85 L257.3,100.79 L257.5,99.7 L257.7,100.79 L258,105.85 L259.2,140.35 L259.5,145.41 L259.7,146.5 L259.8,146.11 L260,143.2 L260.3,134.4 L261.7,69.1 L262,60.3 L262.2,57.39 L262.3,57 L262.4,57.36 L262.6,60.08 L262.9,68.33 L264.3,131.82 L264.7,143.72 L264.9,146.44 L265,146.8 L265.2,143.89 L265.4,136.1 L266.3,77.99 L266.7,62.76 L266.8,62 L266.9,62.41 L267.3,67.88 L267.5,69.33 L268.1,60.13 L268.2,60.62 L268.6,67.73 L268.7,67.8 L269.2,60.48 L269.3,60.74 L269.4,61.93 L269.7,67.28 L269.8,68.36 L269.9,68.46 L270.5,59.94 L270.6,60.26 L270.7,61.82 L271.1,69.64 L271.2,69.4 L271.3,68.15 L271.8,59.44 L271.9,59.68 L272,60.94 L272.3,67 L272.5,69.06 L272.7,67.55 L273.2,60.65 L273.3,60.77 L273.4,62.14 L273.8,70.02 L273.9,70.08 L274,69.63 L274.6,63.8 L274.8,63 L275,71.53 L275.6,136.47 L275.8,145 L275.9,144.78 L276.1,143.09 L276.5,135.5 L278.3,75.12 L278.7,66.32 L278.9,63.87 L279.1,63 L279.2,63.21 L279.4,64.85 L279.8,72.2 L281.6,130.66 L282,139.18 L282.2,141.56 L282.4,142.4 L282.5,141.62 L282.7,136.1 L283.4,102.1 L283.6,96.58 L283.7,95.8 L283.9,97 L284.1,100.24 L285.2,131.83 L285.5,137.3 L285.7,138.5 L285.9,137.3 L286.1,134.07 L287.1,106.35 L287.4,100.9 L287.6,99.7 L287.7,100.24 L287.9,104.06 L288.7,132.24 L288.9,136.06 L289,136.6 L289.2,135.61 L289.4,132.94 L290.4,110.08 L290.7,105.59 L290.9,104.6 L291.1,105.44 L291.3,107.73 L292.4,130 L292.7,133.86 L292.9,134.7 L293,134.43 L293.2,132.47 L294,117.05 L294.3,113.57 L294.4,113.3 L294.5,113.52 L294.7,115.09 L295.6,129.67 L295.8,131.87 L296,132.7 L296.1,132.34 L296.3,129.82 L297.1,112.76 L297.3,111.4 L297.4,111.7 L297.7,115.42 L298.4,129.3 L298.6,131.4 L298.7,131.7 L298.9,131.01 L299.1,129.15 L300.1,113.22 L300.4,110.09 L300.6,109.4 L300.7,109.62 L300.9,111.19 L301.8,125.77 L302,127.97 L302.2,128.8 L302.4,128.33 L302.6,127.1 L303.4,120.11 L303.6,119.22 L303.7,119.1 L303.8,119.12 L304.1,119.45 L304.4,120.1 L306,125 L307.1,127.03 L310.1,131.89 L312.5,137.31 L313.5,139.12 L314.1,139.81 L315,140.59 L317.5,142.25 L321.6,145.3 L322.3,146.02 L323.9,148.01 L324.6,148.7 L325.3,149.07 L326.3,149.14 L332.8,149.34 L340.5,149.4" fill="none" stroke="#000" stroke-opacity="0.16" stroke-width="3.2" stroke-linejoin="round" filter="url(#bl)"/>
<path d="M202.3,149.5 202.5,149.2 202.6,149.3 202.8,148.8 203.0,149.9 203.1,149.7 203.3,149.3 203.5,149.6 203.6,149.5 203.8,149.2 204.0,149.7 204.1,149.3 204.3,149.3 204.5,149.2 204.6,149.5 204.8,149.4 205.0,149.6 205.1,149.2 205.3,149.4 205.5,149.1 205.6,149.7 205.8,149.5 206.0,149.5 206.1,149.5 206.3,149.1 206.5,149.6 206.6,150.0 206.8,148.9 207.0,148.9 207.1,148.9 207.3,149.7 207.5,149.4 207.6,149.7 207.8,149.6 208.0,149.5 208.1,149.5 208.3,149.3 208.5,149.7 208.6,149.1 208.8,149.3 209.0,149.5 209.1,149.9 209.3,149.2 209.5,149.1 209.6,149.2 209.8,149.7 210.0,149.3 210.1,149.8 210.3,148.8 210.5,149.7 210.6,149.7 210.8,149.0 211.0,149.4 211.1,149.8 211.3,149.4 211.5,149.7 211.6,150.0 211.8,149.5 212.0,149.3 212.1,149.2 212.3,149.6 212.5,149.3 212.6,149.3 212.8,149.4 213.0,149.6 213.1,149.1 213.3,148.9 213.5,148.8 213.6,149.8 213.8,149.4 214.0,149.9 214.1,149.4 214.3,149.2 214.5,149.5 214.6,149.4 214.8,149.0 215.0,149.1 215.1,149.9 215.3,149.5 215.5,149.5 215.6,149.3 215.8,149.2 216.0,149.7 216.1,149.4 216.3,149.2 216.5,149.4 216.6,149.1 216.8,149.5 217.0,149.7 217.1,149.1 217.3,149.8 217.5,149.2 217.6,149.4 217.8,149.1 218.0,149.3 218.1,149.4 218.3,149.3 218.5,149.2 218.6,149.2 218.8,149.2 219.0,148.9 219.1,149.3 219.3,149.5 219.5,149.7 219.6,149.6 219.8,150.0 220.0,149.5 220.1,149.3 220.3,150.0 220.5,149.1 220.6,149.7 220.8,149.1 221.0,149.5 221.1,148.8 221.3,149.7 221.5,149.4 221.6,149.1 221.8,149.9 222.0,149.5 222.1,148.9 222.3,148.2 222.5,148.1 222.6,147.6 222.8,147.7 223.0,147.3 223.1,145.7 223.3,145.3 223.5,144.8 223.6,143.6 223.8,143.8 224.0,143.8 224.1,144.1 224.3,144.3 224.5,142.1 224.6,143.0 224.8,141.7 225.0,143.7 225.1,141.3 225.3,141.6 225.5,139.8 225.6,139.6 225.8,140.3 226.0,139.4 226.1,139.8 226.3,137.5 226.5,139.6 226.6,137.6 226.8,140.2 227.0,137.7 227.1,139.0 227.3,136.0 227.5,137.8 227.6,136.0 227.8,136.2 228.0,136.6 228.1,135.8 228.3,136.6 228.5,137.2 228.6,136.9 228.8,135.3 229.0,132.9 229.1,133.7 229.3,134.6 229.5,131.1 229.6,136.0 229.8,134.0 230.0,133.8 230.1,135.9 230.3,135.2 230.5,134.3 230.6,131.9 230.8,134.2 231.0,134.2 231.1,131.8 231.3,135.3 231.5,134.2 231.6,129.6 231.8,133.4 232.0,130.8 232.1,135.2 232.3,134.5 232.5,130.9 232.6,131.2 232.8,133.0 233.0,132.3 233.1,135.5 233.3,133.9 233.5,131.8 233.6,133.1 233.8,127.8 234.0,131.9 234.1,132.6 234.3,130.2 234.5,128.9 234.6,131.2 234.8,133.8 235.0,130.4 235.1,128.3 235.3,134.2 235.5,129.1 235.6,134.7 235.8,133.8 236.0,137.3 236.1,134.3 236.3,137.6 236.5,134.5 236.6,129.1 236.8,126.8 237.0,128.4 237.1,130.5 237.3,127.8 237.5,127.9 237.6,128.1 237.8,131.2 238.0,131.9 238.1,133.3 238.3,132.6 238.5,138.1 238.6,139.8 238.8,136.3 239.0,142.5 239.1,140.6 239.3,137.5 239.5,132.8 239.6,134.7 239.8,131.6 240.0,126.6 240.1,123.2 240.3,126.8 240.5,125.1 240.6,127.6 240.8,134.0 241.0,137.3 241.1,139.1 241.3,140.1 241.5,142.4 241.6,139.3 241.8,139.7 242.0,136.0 242.1,132.0 242.3,128.1 242.5,127.8 242.6,124.6 242.8,123.2 243.0,124.1 243.1,122.7 243.3,124.3 243.5,126.6 243.6,131.9 243.8,136.7 244.0,138.8 244.1,142.4 244.3,142.7 244.5,144.3 244.6,143.6 244.8,141.4 245.0,141.9 245.1,137.7 245.3,132.1 245.5,128.2 245.6,125.7 245.8,120.5 246.0,121.1 246.1,117.1 246.3,118.8 246.5,119.2 246.6,122.6 246.8,124.7 247.0,128.2 247.1,132.9 247.3,137.1 247.5,140.8 247.6,143.6 247.8,146.3 248.0,145.8 248.1,143.1 248.3,140.8 248.5,134.8 248.6,132.5 248.8,126.1 249.0,118.1 249.1,117.3 249.3,114.4 249.5,108.0 249.6,110.7 249.8,113.0 250.0,113.5 250.1,118.7 250.3,123.2 250.5,129.9 250.6,134.0 250.8,140.0 251.0,141.0 251.1,145.0 251.3,145.7 251.5,146.0 251.6,143.2 251.8,139.4 252.0,136.5 252.1,133.8 252.3,130.2 252.5,124.2 252.6,119.9 252.8,114.3 253.0,116.2 253.1,115.4 253.3,112.9 253.5,115.4 253.6,116.3 253.8,123.3 254.0,125.1 254.1,128.1 254.3,132.6 254.5,136.2 254.6,138.7 254.8,140.9 255.0,143.4 255.1,144.7 255.3,146.8 255.5,147.3 255.6,142.1 255.8,140.5 256.0,136.7 256.1,130.1 256.3,126.6 256.5,119.2 256.6,117.8 256.8,109.8 257.0,106.8 257.1,104.5 257.3,99.9 257.5,96.2 257.6,99.1 257.8,103.6 258.0,105.0 258.1,109.5 258.3,111.9 258.5,119.1 258.6,125.3 258.8,129.5 259.0,136.7 259.1,138.6 259.3,141.4 259.5,143.7 259.6,147.2 259.8,146.1 260.0,144.7 260.1,140.3 260.3,136.4 260.5,129.5 260.6,119.6 260.8,112.5 261.0,105.6 261.1,92.3 261.3,89.7 261.5,81.5 261.6,74.0 261.8,65.2 262.0,61.8 262.1,55.2 262.3,57.2 262.5,56.5 262.6,61.0 262.8,63.9 263.0,71.4 263.1,80.1 263.3,81.9 263.5,94.8 263.6,97.1 263.8,105.7 264.0,117.2 264.1,125.0 264.3,132.4 264.5,135.8 264.6,142.2 264.8,145.5 265.0,147.6 265.1,145.4 265.3,141.1 265.5,131.4 265.6,122.4 265.8,110.6 266.0,101.1 266.1,86.1 266.3,76.1 266.5,71.1 266.6,68.6 266.8,63.0 267.0,63.8 267.1,64.5 267.3,70.6 267.5,70.6 267.6,72.5 267.8,65.7 268.0,59.1 268.1,58.7 268.3,59.7 268.5,62.6 268.6,71.0 268.8,68.7 269.0,60.5 269.1,65.5 269.3,61.4 269.5,60.6 269.6,67.2 269.8,68.2 270.0,66.0 270.1,60.5 270.3,62.3 270.5,60.9 270.6,55.5 270.8,65.5 271.0,69.5 271.1,68.6 271.3,68.4 271.5,64.1 271.6,59.2 271.8,58.5 272.0,63.9 272.1,59.9 272.3,67.6 272.5,69.4 272.6,66.6 272.8,64.9 273.0,59.7 273.1,58.9 273.3,60.8 273.5,64.3 273.6,65.2 273.8,74.9 274.0,68.4 274.1,68.9 274.3,66.2 274.5,64.0 274.6,66.9 274.8,61.8 275.0,72.3 275.1,86.8 275.3,102.0 275.5,125.3 275.6,138.2 275.8,146.6 276.0,144.1 276.1,141.8 276.3,137.9 276.5,134.8 276.6,131.2 276.8,125.5 277.0,119.6 277.1,114.5 277.3,109.2 277.5,106.2 277.6,93.7 277.8,90.0 278.0,83.3 278.1,76.5 278.3,72.1 278.5,68.7 278.6,69.2 278.8,64.4 279.0,62.0 279.1,64.6 279.3,64.5 279.5,65.2 279.6,69.5 279.8,70.2 280.0,78.0 280.1,82.5 280.3,86.0 280.5,90.0 280.6,101.6 280.8,104.7 281.0,114.1 281.1,115.2 281.3,123.1 281.5,126.3 281.6,131.9 281.8,136.5 282.0,137.8 282.1,140.8 282.3,142.3 282.5,142.2 282.6,139.1 282.8,133.2 283.0,124.8 283.1,115.1 283.3,105.7 283.5,97.5 283.6,94.6 283.8,95.0 284.0,99.3 284.1,100.2 284.3,102.7 284.5,110.9 284.6,113.6 284.8,119.1 285.0,125.2 285.1,130.8 285.3,131.6 285.5,135.6 285.6,138.6 285.8,137.8 286.0,135.4 286.1,132.7 286.3,131.2 286.5,124.0 286.6,120.8 286.8,115.9 287.0,108.9 287.1,106.4 287.3,101.4 287.5,99.0 287.6,97.5 287.8,103.5 288.0,105.2 288.1,110.7 288.3,116.3 288.5,127.3 288.6,131.3 288.8,134.4 289.0,135.7 289.1,134.4 289.3,134.8 289.5,132.1 289.6,126.3 289.8,126.1 290.0,121.4 290.1,114.4 290.3,111.2 290.5,108.1 290.6,106.6 290.8,104.6 291.0,101.6 291.1,108.5 291.3,108.3 291.5,112.7 291.6,115.9 291.8,117.1 292.0,121.7 292.1,125.9 292.3,129.3 292.5,130.9 292.6,132.5 292.8,134.5 293.0,133.6 293.1,132.6 293.3,128.3 293.5,128.0 293.6,122.8 293.8,120.0 294.0,117.5 294.1,115.6 294.3,116.9 294.5,113.8 294.6,112.0 294.8,116.6 295.0,117.9 295.1,122.4 295.3,123.8 295.5,126.7 295.6,129.4 295.8,131.0 296.0,130.3 296.1,131.2 296.3,129.8 296.5,128.2 296.6,122.0 296.8,117.8 297.0,115.9 297.1,113.3 297.3,114.2 297.5,113.2 297.6,114.3 297.8,119.5 298.0,123.2 298.1,123.7 298.3,127.9 298.5,127.9 298.6,131.1 298.8,130.4 299.0,130.2 299.1,128.1 299.3,126.2 299.5,123.6 299.6,121.6 299.8,118.3 300.0,114.2 300.1,110.5 300.3,113.1 300.5,112.3 300.6,108.6 300.8,111.2 301.0,109.3 301.1,111.7 301.3,116.8 301.5,122.7 301.6,121.6 301.8,124.5 302.0,130.0 302.1,126.1 302.3,129.6 302.5,128.7 302.6,126.5 302.8,125.7 303.0,126.8 303.1,120.5 303.3,120.3 303.5,119.3 303.6,118.0 303.8,116.9 304.0,121.8 304.1,120.0 304.3,116.2 304.5,118.8 304.6,121.6 304.8,122.1 305.0,118.9 305.1,122.2 305.3,123.5 305.5,124.3 305.6,124.9 305.8,120.9 306.0,128.6 306.1,125.7 306.3,129.2 306.5,129.8 306.6,125.9 306.8,124.1 307.0,128.5 307.1,126.7 307.3,126.5 307.5,125.6 307.6,131.1 307.8,127.3 308.0,125.7 308.1,127.8 308.3,126.7 308.5,129.5 308.6,128.6 308.8,127.7 309.0,131.1 309.1,129.0 309.3,131.8 309.5,133.1 309.6,130.4 309.8,130.2 310.0,132.0 310.1,133.6 310.3,132.3 310.5,132.9 310.6,132.9 310.8,133.9 311.0,134.8 311.1,132.9 311.3,133.7 311.5,135.0 311.6,134.2 311.8,136.0 312.0,137.0 312.1,136.5 312.3,135.9 312.5,136.0 312.6,140.4 312.8,139.3 313.0,136.5 313.1,137.2 313.3,141.8 313.5,141.5 313.6,139.5 313.8,141.3 314.0,137.4 314.1,139.8 314.3,141.1 314.5,137.3 314.6,139.1 314.8,141.6 315.0,142.3 315.1,139.8 315.3,141.3 315.5,143.3 315.6,140.5 315.8,139.2 316.0,141.2 316.1,140.8 316.3,143.4 316.5,141.8 316.6,140.5 316.8,144.7 317.0,141.2 317.1,142.7 317.3,143.1 317.5,143.4 317.6,142.6 317.8,143.3 318.0,142.5 318.1,140.7 318.3,142.5 318.5,142.7 318.6,142.8 318.8,143.4 319.0,142.4 319.1,145.3 319.3,145.7 319.5,140.9 319.6,143.8 319.8,142.9 320.0,141.3 320.1,144.7 320.3,143.4 320.5,143.9 320.6,143.7 320.8,146.1 321.0,146.4 321.1,145.3 321.3,146.0 321.5,145.0 321.6,145.5 321.8,144.5 322.0,145.7 322.1,144.9 322.3,146.5 322.5,147.2 322.6,146.8 322.8,148.1 323.0,149.2 323.1,144.7 323.3,147.3 323.5,146.8 323.6,147.2 323.8,146.4 324.0,148.1 324.1,148.0 324.3,147.8 324.5,148.3 324.6,148.1 324.8,146.9 325.0,150.0 325.1,148.9 325.3,148.7 325.5,149.2 325.6,148.8 325.8,148.3 326.0,149.5 326.1,148.4 326.3,149.0 326.5,149.2 326.6,149.7 326.8,149.7 327.0,149.2 327.1,148.9 327.3,149.0 327.5,149.6 327.6,149.9 327.8,149.4 328.0,148.9 328.1,149.6 328.3,149.1 328.5,149.1 328.6,149.1 328.8,149.5 329.0,149.3 329.1,149.6 329.3,149.8 329.5,149.5 329.6,148.5 329.8,148.6 330.0,149.3 330.1,149.3 330.3,150.0 330.5,149.3 330.6,149.2 330.8,149.7 331.0,149.7 331.1,149.2 331.3,149.5 331.5,148.9 331.6,149.0 331.8,149.8 332.0,148.8 332.1,149.7 332.3,149.6 332.5,149.6 332.6,149.7 332.8,149.5 333.0,148.6 333.1,149.0 333.3,149.1 333.5,149.7 333.6,149.0 333.8,149.1 334.0,149.2 334.1,149.8 334.3,148.9 334.5,148.9 334.6,149.6 334.8,148.7 335.0,149.5 335.1,149.2 335.3,148.8 335.5,149.2 335.6,149.0 335.8,149.4 336.0,149.5 336.1,149.9 336.3,149.4 336.5,149.4 336.6,149.2 336.8,149.4 337.0,149.7 337.1,148.8 337.3,149.6 337.5,149.2 337.6,149.4 337.8,149.5 338.0,149.7 338.1,149.5 338.3,149.3 338.5,149.5 338.6,149.4 338.8,149.3 339.0,149.5 339.1,149.7 339.3,149.4 339.5,149.4 339.6,149.0 339.8,149.4 340.0,148.8 340.1,149.6 340.3,149.1 340.5,149.8" fill="none" stroke="#000" stroke-opacity="0.7" stroke-width="0.45"/>
<path d="M202.3,150.0 202.5,149.3 202.6,149.8 202.8,149.5 203.0,149.2 203.1,149.1 203.3,149.6 203.5,149.8 203.6,149.5 203.8,148.9 204.0,149.1 204.1,149.3 204.3,149.8 204.5,149.5 204.6,149.5 204.8,149.8 205.0,149.3 205.1,149.4 205.3,149.3 205.5,148.9 205.6,149.5 205.8,149.5 206.0,149.7 206.1,149.0 206.3,149.2 206.5,149.7 206.6,149.5 206.8,149.8 207.0,149.1 207.1,149.5 207.3,149.2 207.5,149.5 207.6,149.3 207.8,149.6 208.0,149.7 208.1,149.6 208.3,148.9 208.5,149.7 208.6,149.5 208.8,149.1 209.0,149.1 209.1,149.4 209.3,149.6 209.5,149.3 209.6,148.9 209.8,149.5 210.0,149.5 210.1,150.0 210.3,149.0 210.5,150.0 210.6,149.9 210.8,149.5 211.0,149.9 211.1,149.4 211.3,149.7 211.5,149.2 211.6,149.4 211.8,149.1 212.0,148.9 212.1,149.3 212.3,149.2 212.5,149.6 212.6,149.8 212.8,149.3 213.0,149.4 213.1,149.5 213.3,148.9 213.5,149.5 213.6,149.4 213.8,149.4 214.0,149.1 214.1,148.8 214.3,149.3 214.5,149.5 214.6,149.8 214.8,149.7 215.0,149.8 215.1,149.5 215.3,149.7 215.5,149.3 215.6,149.6 215.8,149.7 216.0,150.0 216.1,149.5 216.3,149.0 216.5,149.8 216.6,149.2 216.8,149.4 217.0,149.3 217.1,149.1 217.3,149.8 217.5,149.6 217.6,149.2 217.8,149.4 218.0,149.3 218.1,149.6 218.3,149.3 218.5,149.2 218.6,149.2 218.8,149.3 219.0,149.5 219.1,149.1 219.3,149.4 219.5,149.5 219.6,150.0 219.8,149.7 220.0,148.8 220.1,149.2 220.3,149.3 220.5,149.5 220.6,149.9 220.8,149.6 221.0,148.8 221.1,149.5 221.3,149.4 221.5,149.5 221.6,149.8 221.8,148.9 222.0,149.6 222.1,148.1 222.3,148.6 222.5,148.4 222.6,148.9 222.8,146.8 223.0,145.6 223.1,146.7 223.3,145.2 223.5,146.4 223.6,144.1 223.8,143.5 224.0,144.9 224.1,143.6 224.3,144.1 224.5,141.5 224.6,144.0 224.8,141.5 225.0,142.5 225.1,140.4 225.3,139.5 225.5,140.5 225.6,140.6 225.8,141.7 226.0,140.1 226.1,140.2 226.3,139.9 226.5,141.0 226.6,137.7 226.8,139.7 227.0,137.9 227.1,138.1 227.3,136.9 227.5,138.6 227.6,135.6 227.8,135.3 228.0,136.3 228.1,134.3 228.3,137.4 228.5,137.5 228.6,134.3 228.8,136.9 229.0,134.1 229.1,135.1 229.3,135.0 229.5,138.2 229.6,134.6 229.8,132.8 230.0,132.6 230.1,136.3 230.3,130.9 230.5,133.0 230.6,133.0 230.8,129.9 231.0,132.6 231.1,135.3 231.3,133.8 231.5,131.6 231.6,134.5 231.8,134.1 232.0,136.9 232.1,131.7 232.3,132.3 232.5,133.0 232.6,132.6 232.8,133.0 233.0,132.5 233.1,131.3 233.3,129.5 233.5,131.2 233.6,129.4 233.8,129.7 234.0,130.2 234.1,131.9 234.3,132.2 234.5,128.2 234.6,130.6 234.8,131.5 235.0,129.8 235.1,127.3 235.3,127.6 235.5,134.1 235.6,135.5 235.8,135.3 236.0,133.7 236.1,138.3 236.3,137.3 236.5,133.8 236.6,131.9 236.8,126.8 237.0,130.5 237.1,124.6 237.3,128.8 237.5,129.2 237.6,128.7 237.8,132.8 238.0,130.5 238.1,133.8 238.3,135.8 238.5,136.4 238.6,136.6 238.8,140.6 239.0,139.9 239.1,139.0 239.3,138.0 239.5,136.4 239.6,137.2 239.8,130.6 240.0,127.3 240.1,124.3 240.3,123.3 240.5,123.2 240.6,128.5 240.8,131.4 241.0,133.6 241.1,136.4 241.3,140.2 241.5,141.2 241.6,140.0 241.8,139.8 242.0,137.0 242.1,133.5 242.3,131.2 242.5,126.1 242.6,126.5 242.8,121.4 243.0,123.6 243.1,124.9 243.3,125.7 243.5,129.5 243.6,130.6 243.8,133.9 244.0,138.7 244.1,141.0 244.3,144.2 244.5,144.7 244.6,144.7 244.8,142.9 245.0,140.2 245.1,136.8 245.3,132.5 245.5,128.6 245.6,128.7 245.8,119.9 246.0,120.1 246.1,120.8 246.3,120.0 246.5,123.0 246.6,124.1 246.8,124.7 247.0,129.8 247.1,132.3 247.3,138.9 247.5,142.5 247.6,143.1 247.8,145.4 248.0,144.8 248.1,142.0 248.3,139.5 248.5,133.6 248.6,129.7 248.8,125.5 249.0,121.4 249.1,118.1 249.3,112.3 249.5,111.9 249.6,112.7 249.8,114.7 250.0,113.4 250.1,119.1 250.3,125.8 250.5,127.5 250.6,133.9 250.8,138.7 251.0,139.4 251.1,143.9 251.3,145.8 251.5,145.7 251.6,142.9 251.8,141.6 252.0,136.7 252.1,133.8 252.3,128.5 252.5,122.4 252.6,119.3 252.8,114.4 253.0,112.3 253.1,110.2 253.3,113.3 253.5,116.7 253.6,118.0 253.8,120.9 254.0,123.4 254.1,127.4 254.3,132.9 254.5,133.8 254.6,141.2 254.8,142.0 255.0,146.1 255.1,146.8 255.3,146.1 255.5,146.2 255.6,143.7 255.8,140.7 256.0,137.0 256.1,130.6 256.3,125.2 256.5,120.1 256.6,113.3 256.8,110.2 257.0,106.8 257.1,103.4 257.3,100.9 257.5,98.7 257.6,101.5 257.8,98.2 258.0,104.1 258.1,108.3 258.3,115.1 258.5,119.7 258.6,125.2 258.8,129.3 259.0,135.4 259.1,137.6 259.3,142.4 259.5,143.4 259.6,147.5 259.8,147.2 260.0,143.2 260.1,138.8 260.3,131.9 260.5,125.4 260.6,120.1 260.8,111.5 261.0,100.3 261.1,93.5 261.3,84.7 261.5,79.4 261.6,73.0 261.8,64.7 262.0,61.0 262.1,57.7 262.3,51.8 262.5,58.1 262.6,60.2 262.8,66.6 263.0,65.9 263.1,78.8 263.3,83.1 263.5,93.1 263.6,103.2 263.8,106.4 264.0,115.0 264.1,126.2 264.3,130.1 264.5,136.4 264.6,142.7 264.8,145.1 265.0,147.2 265.1,145.6 265.3,140.3 265.5,133.7 265.6,125.8 265.8,111.0 266.0,102.4 266.1,90.4 266.3,77.9 266.5,70.4 266.6,61.3 266.8,60.1 267.0,63.4 267.1,64.9 267.3,70.8 267.5,65.8 267.6,67.2 267.8,63.0 268.0,60.8 268.1,62.8 268.3,58.8 268.5,67.5 268.6,66.1 268.8,65.6 269.0,65.8 269.1,59.9 269.3,62.1 269.5,63.0 269.6,65.4 269.8,67.2 270.0,63.4 270.1,63.2 270.3,62.3 270.5,60.3 270.6,56.5 270.8,66.3 271.0,69.1 271.1,66.2 271.3,65.3 271.5,65.8 271.6,56.6 271.8,57.2 272.0,60.0 272.1,62.9 272.3,66.6 272.5,69.7 272.6,66.1 272.8,64.5 273.0,68.1 273.1,57.2 273.3,59.3 273.5,63.5 273.6,65.6 273.8,72.7 274.0,69.7 274.1,70.2 274.3,61.8 274.5,67.7 274.6,66.2 274.8,60.8 275.0,72.0 275.1,84.6 275.3,105.6 275.5,126.3 275.6,138.9 275.8,144.1 276.0,144.3 276.1,141.4 276.3,139.0 276.5,135.3 276.6,130.9 276.8,128.5 277.0,122.7 277.1,114.0 277.3,111.5 277.5,100.0 277.6,95.7 277.8,90.7 278.0,87.8 278.1,81.5 278.3,76.0 278.5,73.9 278.6,69.0 278.8,68.1 279.0,61.2 279.1,58.6 279.3,62.6 279.5,67.6 279.6,69.0 279.8,74.2 280.0,78.1 280.1,82.5 280.3,88.5 280.5,90.9 280.6,100.6 280.8,102.5 281.0,110.2 281.1,113.8 281.3,122.5 281.5,124.6 281.6,133.3 281.8,133.8 282.0,138.9 282.1,140.7 282.3,141.3 282.5,143.2 282.6,137.9 282.8,133.7 283.0,121.9 283.1,113.2 283.3,102.6 283.5,100.7 283.6,97.9 283.8,96.4 284.0,97.4 284.1,99.0 284.3,108.8 284.5,111.0 284.6,111.8 284.8,119.7 285.0,122.5 285.1,132.2 285.3,136.4 285.5,138.5 285.6,138.2 285.8,137.5 286.0,134.7 286.1,134.0 286.3,128.2 286.5,124.0 286.6,118.5 286.8,113.9 287.0,111.3 287.1,108.7 287.3,102.5 287.5,100.2 287.6,97.4 287.8,99.2 288.0,103.9 288.1,113.2 288.3,118.5 288.5,126.0 288.6,130.8 288.8,134.0 289.0,135.0 289.1,135.7 289.3,132.6 289.5,134.3 289.6,128.6 289.8,123.7 290.0,123.3 290.1,115.3 290.3,113.1 290.5,108.4 290.6,106.9 290.8,104.1 291.0,105.6 291.1,108.3 291.3,105.3 291.5,106.9 291.6,116.0 291.8,117.6 292.0,122.5 292.1,124.3 292.3,130.3 292.5,133.5 292.6,131.7 292.8,135.3 293.0,133.8 293.1,131.2 293.3,130.5 293.5,128.6 293.6,122.2 293.8,118.7 294.0,119.6 294.1,115.0 294.3,114.2 294.5,111.3 294.6,113.2 294.8,116.4 295.0,119.1 295.1,121.9 295.3,127.1 295.5,127.8 295.6,127.9 295.8,130.6 296.0,132.5 296.1,133.6 296.3,128.7 296.5,125.7 296.6,122.3 296.8,117.1 297.0,113.3 297.1,111.7 297.3,113.0 297.5,112.9 297.6,113.6 297.8,117.8 298.0,118.6 298.1,125.7 298.3,128.6 298.5,130.4 298.6,129.2 298.8,134.1 299.0,127.8 299.1,127.2 299.3,124.9 299.5,124.6 299.6,118.2 299.8,118.1 300.0,114.7 300.1,112.0 300.3,112.2 300.5,112.1 300.6,109.9 300.8,109.5 301.0,108.5 301.1,116.8 301.3,116.6 301.5,117.1 301.6,123.3 301.8,127.7 302.0,127.3 302.1,126.9 302.3,131.5 302.5,128.7 302.6,127.2 302.8,126.7 303.0,120.8 303.1,121.9 303.3,120.4 303.5,122.9 303.6,118.1 303.8,118.0 304.0,116.8 304.1,117.5 304.3,119.2 304.5,120.6 304.6,120.1 304.8,125.3 305.0,122.7 305.1,123.5 305.3,125.6 305.5,124.6 305.6,122.8 305.8,121.2 306.0,125.5 306.1,123.4 306.3,128.0 306.5,124.2 306.6,122.3 306.8,126.4 307.0,128.7 307.1,126.5 307.3,127.5 307.5,127.7 307.6,131.0 307.8,128.5 308.0,128.1 308.1,127.3 308.3,125.6 308.5,131.7 308.6,131.4 308.8,127.7 309.0,130.9 309.1,130.6 309.3,129.6 309.5,130.0 309.6,132.3 309.8,128.9 310.0,130.5 310.1,131.6 310.3,132.1 310.5,132.1 310.6,133.2 310.8,134.1 311.0,132.0 311.1,134.1 311.3,133.4 311.5,137.4 311.6,132.7 311.8,135.1 312.0,137.1 312.1,135.8 312.3,136.2 312.5,136.2 312.6,137.9 312.8,135.9 313.0,138.0 313.1,138.2 313.3,136.3 313.5,139.4 313.6,138.4 313.8,139.8 314.0,140.9 314.1,140.3 314.3,138.0 314.5,140.5 314.6,137.7 314.8,139.1 315.0,143.0 315.1,140.6 315.3,143.1 315.5,140.5 315.6,141.0 315.8,139.4 316.0,142.6 316.1,141.0 316.3,142.3 316.5,142.1 316.6,142.4 316.8,142.2 317.0,141.8 317.1,141.9 317.3,141.0 317.5,139.3 317.6,143.0 317.8,145.3 318.0,144.1 318.1,145.6 318.3,143.5 318.5,141.5 318.6,141.6 318.8,144.2 319.0,143.8 319.1,143.2 319.3,144.6 319.5,142.4 319.6,144.5 319.8,143.5 320.0,144.2 320.1,145.8 320.3,144.1 320.5,146.3 320.6,146.3 320.8,143.6 321.0,147.4 321.1,143.3 321.3,144.9 321.5,146.2 321.6,142.8 321.8,146.8 322.0,147.1 322.1,145.7 322.3,146.4 322.5,146.5 322.6,146.2 322.8,147.9 323.0,146.4 323.1,147.0 323.3,147.7 323.5,148.5 323.6,148.9 323.8,146.3 324.0,145.9 324.1,148.1 324.3,148.4 324.5,147.5 324.6,149.0 324.8,149.5 325.0,149.3 325.1,149.8 325.3,148.6 325.5,149.1 325.6,150.0 325.8,149.4 326.0,148.6 326.1,149.2 326.3,149.6 326.5,150.0 326.6,149.4 326.8,149.7 327.0,148.7 327.1,149.1 327.3,149.7 327.5,148.8 327.6,149.2 327.8,148.4 328.0,149.8 328.1,149.2 328.3,149.4 328.5,148.6 328.6,148.7 328.8,150.0 329.0,149.1 329.1,149.0 329.3,149.5 329.5,149.5 329.6,148.5 329.8,148.9 330.0,149.3 330.1,149.3 330.3,149.4 330.5,149.1 330.6,149.2 330.8,149.4 331.0,149.0 331.1,149.0 331.3,149.1 331.5,149.3 331.6,149.3 331.8,149.1 332.0,149.2 332.1,149.3 332.3,149.4 332.5,149.5 332.6,148.9 332.8,149.7 333.0,148.8 333.1,149.5 333.3,149.1 333.5,149.6 333.6,149.7 333.8,148.7 334.0,149.6 334.1,149.5 334.3,149.2 334.5,149.5 334.6,149.2 334.8,149.4 335.0,149.0 335.1,149.6 335.3,149.6 335.5,149.6 335.6,149.2 335.8,150.0 336.0,150.0 336.1,149.3 336.3,149.2 336.5,149.2 336.6,149.6 336.8,149.7 337.0,149.1 337.1,148.7 337.3,149.5 337.5,149.4 337.6,149.4 337.8,149.6 338.0,149.0 338.1,149.4 338.3,149.3 338.5,149.5 338.6,149.8 338.8,149.4 339.0,149.1 339.1,149.8 339.3,149.6 339.5,149.3 339.6,148.8 339.8,149.1 340.0,149.4 340.1,149.6 340.3,149.2 340.5,149.5" fill="none" stroke="#000" stroke-opacity="0.7" stroke-width="0.45"/>
<path d="M202.3,149.4 L221.6,149.4 L221.8,149.32 L222.1,148.95 L222.5,148.08 L223.9,144.03 L225.9,139.89 L228,136.5 L228.8,135.5 L229.9,134.35 L231,133.5 L232.7,132.87 L233.3,132.51 L234.5,130.23 L234.9,129.9 L235.2,130.82 L235.8,134.88 L236.1,135.8 L236.2,135.64 L236.4,134.5 L237,128.8 L237.2,127.66 L237.3,127.5 L237.5,127.91 L237.7,129 L238.7,137.9 L238.9,138.99 L239.1,139.4 L239.2,139.12 L239.4,137.17 L240,127.33 L240.2,125.38 L240.3,125.1 L240.4,125.43 L240.6,127.71 L241.2,139.19 L241.4,141.47 L241.5,141.8 L241.6,141.52 L241.8,139.54 L242.6,124.96 L242.8,122.98 L242.9,122.7 L243,122.95 L243.2,124.73 L244.1,141.26 L244.3,143.75 L244.5,144.7 L244.7,143.72 L244.9,141.12 L245.8,122.68 L246,120.08 L246.2,119.1 L246.4,120.1 L246.6,122.77 L247.5,141.63 L247.7,144.3 L247.9,145.3 L248,144.92 L248.2,142.18 L249.1,116.78 L249.3,112.95 L249.5,111.5 L249.7,112.56 L249.9,115.43 L250.9,140.01 L251.3,145.62 L251.4,145.9 L251.5,145.57 L251.7,143.19 L252.7,117.61 L252.9,114.26 L253.1,113 L253.3,113.78 L253.6,117.4 L254.8,142.1 L255.1,145.72 L255.3,146.5 L255.5,145.41 L255.8,140.35 L257,105.85 L257.3,100.79 L257.5,99.7 L257.7,100.79 L258,105.85 L259.2,140.35 L259.5,145.41 L259.7,146.5 L259.8,146.11 L260,143.2 L260.3,134.4 L261.7,69.1 L262,60.3 L262.2,57.39 L262.3,57 L262.4,57.36 L262.6,60.08 L262.9,68.33 L264.3,131.82 L264.7,143.72 L264.9,146.44 L265,146.8 L265.2,143.89 L265.4,136.1 L266.3,77.99 L266.7,62.76 L266.8,62 L266.9,62.41 L267.3,67.88 L267.5,69.33 L268.1,60.13 L268.2,60.62 L268.6,67.73 L268.7,67.8 L269.2,60.48 L269.3,60.74 L269.4,61.93 L269.7,67.28 L269.8,68.36 L269.9,68.46 L270.5,59.94 L270.6,60.26 L270.7,61.82 L271.1,69.64 L271.2,69.4 L271.3,68.15 L271.8,59.44 L271.9,59.68 L272,60.94 L272.3,67 L272.5,69.06 L272.7,67.55 L273.2,60.65 L273.3,60.77 L273.4,62.14 L273.8,70.02 L273.9,70.08 L274,69.63 L274.6,63.8 L274.8,63 L275,71.53 L275.6,136.47 L275.8,145 L275.9,144.78 L276.1,143.09 L276.5,135.5 L278.3,75.12 L278.7,66.32 L278.9,63.87 L279.1,63 L279.2,63.21 L279.4,64.85 L279.8,72.2 L281.6,130.66 L282,139.18 L282.2,141.56 L282.4,142.4 L282.5,141.62 L282.7,136.1 L283.4,102.1 L283.6,96.58 L283.7,95.8 L283.9,97 L284.1,100.24 L285.2,131.83 L285.5,137.3 L285.7,138.5 L285.9,137.3 L286.1,134.07 L287.1,106.35 L287.4,100.9 L287.6,99.7 L287.7,100.24 L287.9,104.06 L288.7,132.24 L288.9,136.06 L289,136.6 L289.2,135.61 L289.4,132.94 L290.4,110.08 L290.7,105.59 L290.9,104.6 L291.1,105.44 L291.3,107.73 L292.4,130 L292.7,133.86 L292.9,134.7 L293,134.43 L293.2,132.47 L294,117.05 L294.3,113.57 L294.4,113.3 L294.5,113.52 L294.7,115.09 L295.6,129.67 L295.8,131.87 L296,132.7 L296.1,132.34 L296.3,129.82 L297.1,112.76 L297.3,111.4 L297.4,111.7 L297.7,115.42 L298.4,129.3 L298.6,131.4 L298.7,131.7 L298.9,131.01 L299.1,129.15 L300.1,113.22 L300.4,110.09 L300.6,109.4 L300.7,109.62 L300.9,111.19 L301.8,125.77 L302,127.97 L302.2,128.8 L302.4,128.33 L302.6,127.1 L303.4,120.11 L303.6,119.22 L303.7,119.1 L303.8,119.12 L304.1,119.45 L304.4,120.1 L306,125 L307.1,127.03 L310.1,131.89 L312.5,137.31 L313.5,139.12 L314.1,139.81 L315,140.59 L317.5,142.25 L321.6,145.3 L322.3,146.02 L323.9,148.01 L324.6,148.7 L325.3,149.07 L326.3,149.14 L332.8,149.34 L340.5,149.4" fill="none" stroke="#000" stroke-opacity="0.85" stroke-width="0.9" stroke-linejoin="round"/>
</g>
<g clip-path="url(#clc)">
<path d="M376.5,150.1 L399,150.1 L399.2,150.04 L399.8,149.25 L401.2,145.99 L402.4,143.85 L405.5,138.63 L407.2,136.33 L407.8,135.84 L408,135.8 L408.1,135.92 L408.6,138.11 L408.8,138.54 L408.9,138.44 L409.2,137.28 L409.7,134.42 L410,133.61 L410.2,133.93 L410.8,136.97 L411.1,137.78 L411.4,137.32 L412.1,135.02 L412.3,134.83 L412.4,134.97 L413.1,138.58 L413.4,139.45 L413.6,139.03 L414.2,135.32 L414.4,134.7 L414.5,134.73 L414.7,135.27 L415.3,138.25 L415.5,138.81 L415.6,138.85 L415.9,138.01 L416.4,135.52 L416.6,135.01 L416.7,134.99 L416.9,135.37 L417.2,136.71 L418.2,143.01 L418.4,143.73 L418.6,144 L418.8,143.46 L419,142.03 L419.9,132.56 L420.1,131.54 L420.2,131.4 L420.4,132.01 L420.6,133.6 L421.5,144.2 L421.7,145.34 L421.8,145.5 L422,144.32 L422.2,141.24 L423,123.73 L423.2,121.51 L423.3,121.2 L423.5,121.97 L423.8,125.45 L424.8,143.17 L425,145.23 L425.2,146 L425.4,145.05 L425.6,142.5 L426.6,121.8 L426.8,119.25 L427,118.3 L427.2,119.26 L427.4,121.83 L428.4,142.77 L428.6,145.34 L428.8,146.3 L429,145.24 L429.2,142.41 L430.2,119.39 L430.4,116.56 L430.6,115.5 L430.8,116.24 L431.1,119.65 L432.3,142.95 L432.6,146.36 L432.8,147.1 L432.9,146.88 L433.1,145.2 L433.4,140.22 L434.6,111.25 L434.9,107.17 L435.1,106.3 L435.3,107.27 L435.6,111.77 L436.8,142.43 L437.1,146.93 L437.3,147.9 L437.4,147.57 L437.6,145.11 L438,134.2 L439.6,64.84 L439.9,57.29 L440.1,54.83 L440.2,54.5 L440.3,54.8 L440.5,57.12 L440.9,67.4 L442.6,138.28 L442.9,145.38 L443.1,147.7 L443.2,148 L443.3,147.71 L443.5,145.49 L443.9,135.63 L445.6,67.63 L445.9,60.81 L446.1,58.59 L446.2,58.3 L446.3,58.64 L446.5,61.17 L446.9,72.32 L448.1,126.16 L448.5,140.44 L448.9,147.66 L449,148 L449.2,146.64 L449.5,140.12 L449.8,129.46 L451.2,65.54 L451.5,57.49 L451.7,54.85 L451.8,54.5 L451.9,54.87 L452.1,57.69 L452.5,70.01 L453.9,135.76 L454.2,144.31 L454.4,147.13 L454.5,147.5 L454.6,147.21 L454.8,145.08 L455.1,138.73 L456.3,101.8 L456.6,96.61 L456.8,95.5 L457,97.41 L457.2,102.47 L458.1,138.33 L458.3,143.39 L458.5,145.3 L458.7,144.19 L459,139.17 L460,113.59 L460.2,110.61 L460.4,109.5 L460.6,110.45 L460.9,114.8 L462,139.87 L462.2,142.45 L462.4,143.4 L462.5,143.26 L462.7,142.18 L463,138.98 L464.2,120.38 L464.5,117.76 L464.7,117.2 L464.9,118.16 L465.1,120.68 L466,137.44 L466.2,139.25 L466.3,139.5 L466.5,138.93 L466.7,137.39 L467.7,124.17 L468.1,121.15 L468.2,121 L468.3,121.13 L468.6,122.9 L469.6,134.76 L469.9,137.09 L470.1,137.6 L470.2,137.42 L470.4,136.11 L471.2,126.49 L471.4,125.18 L471.5,125 L471.6,125.14 L471.8,126.15 L472.6,133.55 L472.8,134.56 L472.9,134.7 L473,134.53 L473.3,132.3 L474.1,122.42 L474.3,121.17 L474.4,121 L474.6,121.42 L474.8,122.53 L475.5,128.53 L475.9,130.69 L476,130.8 L476.1,130.72 L476.3,130.14 L477.1,126.21 L477.3,125.9 L477.8,126.17 L478.5,127.24 L480.1,130.63 L483.3,135.79 L485.6,140.94 L486.4,141.92 L487.7,143 L491.2,145.05 L499.8,149.27 L500.9,149.69 L501.6,149.8 L506.3,149.98 L515.3,150.1" fill="none" stroke="#000" stroke-opacity="0.16" stroke-width="3.2" stroke-linejoin="round" filter="url(#bl)"/>
<path d="M376.5,150.7 376.7,149.5 376.8,150.2 377.0,149.9 377.2,150.0 377.3,150.0 377.5,149.5 377.7,150.0 377.8,149.8 378.0,150.7 378.2,150.2 378.3,150.0 378.5,150.0 378.7,149.9 378.8,149.8 379.0,150.0 379.2,150.2 379.3,150.0 379.5,150.4 379.7,150.0 379.8,150.1 380.0,150.6 380.2,150.3 380.3,149.9 380.5,150.0 380.7,150.3 380.8,150.7 381.0,150.0 381.2,150.0 381.3,150.4 381.5,149.8 381.7,150.0 381.8,150.4 382.0,150.3 382.2,150.1 382.3,150.3 382.5,149.5 382.7,150.4 382.8,149.8 383.0,149.6 383.2,150.2 383.3,150.3 383.5,150.0 383.7,149.8 383.8,150.1 384.0,150.1 384.2,150.5 384.3,150.3 384.5,150.2 384.7,150.4 384.8,150.0 385.0,149.8 385.2,150.3 385.3,150.3 385.5,150.0 385.7,149.9 385.8,150.2 386.0,149.5 386.2,150.3 386.3,150.2 386.5,149.6 386.7,150.1 386.8,149.8 387.0,150.3 387.2,149.5 387.3,149.8 387.5,150.3 387.7,150.4 387.8,149.5 388.0,150.0 388.2,150.2 388.3,149.9 388.5,150.6 388.7,149.7 388.8,150.2 389.0,149.8 389.2,150.5 389.3,150.1 389.5,150.0 389.7,149.6 389.8,150.6 390.0,150.3 390.2,150.3 390.3,150.4 390.5,150.2 390.7,149.9 390.8,149.9 391.0,149.9 391.2,150.5 391.3,149.7 391.5,149.9 391.7,150.0 391.8,150.2 392.0,150.3 392.2,149.7 392.3,149.6 392.5,150.1 392.7,150.5 392.8,150.3 393.0,150.2 393.2,150.0 393.3,150.2 393.5,150.0 393.7,150.3 393.8,149.9 394.0,150.1 394.2,150.1 394.3,150.3 394.5,150.2 394.7,150.7 394.8,150.5 395.0,150.5 395.2,149.5 395.3,150.0 395.5,149.9 395.7,150.3 395.8,149.5 396.0,150.5 396.2,150.4 396.3,149.7 396.5,149.8 396.7,149.9 396.8,150.1 397.0,150.3 397.2,150.7 397.3,150.0 397.5,150.3 397.7,150.1 397.8,150.6 398.0,150.3 398.2,150.5 398.3,149.8 398.5,150.0 398.7,149.9 398.8,150.6 399.0,150.3 399.2,150.0 399.3,149.8 399.5,149.9 399.7,149.2 399.8,148.7 400.0,149.1 400.2,149.7 400.3,147.9 400.5,147.3 400.7,146.4 400.8,145.9 401.0,146.8 401.2,146.7 401.3,145.7 401.5,145.7 401.7,145.2 401.8,145.0 402.0,142.3 402.2,143.6 402.3,144.1 402.5,142.5 402.7,142.7 402.8,141.9 403.0,142.3 403.2,143.9 403.3,141.6 403.5,141.8 403.7,143.0 403.8,142.5 404.0,143.9 404.2,137.6 404.3,142.0 404.5,139.5 404.7,140.2 404.8,141.1 405.0,141.3 405.2,140.9 405.3,139.2 405.5,141.4 405.7,137.9 405.8,137.9 406.0,139.3 406.2,136.7 406.3,141.0 406.5,139.0 406.7,140.6 406.8,136.8 407.0,135.9 407.2,136.7 407.3,137.5 407.5,135.0 407.7,136.6 407.8,135.8 408.0,138.7 408.2,134.9 408.3,138.7 408.5,136.5 408.7,136.7 408.8,137.3 409.0,136.1 409.2,137.7 409.3,138.4 409.5,135.8 409.7,135.7 409.8,136.9 410.0,134.1 410.2,134.2 410.3,134.0 410.5,132.4 410.7,137.6 410.8,134.0 411.0,138.8 411.2,137.7 411.3,139.5 411.5,136.9 411.7,134.9 411.8,136.4 412.0,134.2 412.2,134.6 412.3,134.9 412.5,135.0 412.7,135.7 412.8,135.6 413.0,137.7 413.2,135.5 413.3,139.1 413.5,137.3 413.7,140.6 413.8,139.9 414.0,133.1 414.2,135.8 414.3,134.6 414.5,132.8 414.7,136.1 414.8,135.0 415.0,133.6 415.2,137.2 415.3,138.1 415.5,139.0 415.7,136.7 415.8,139.4 416.0,138.8 416.2,134.6 416.3,134.6 416.5,135.0 416.7,133.9 416.8,138.4 417.0,136.1 417.2,134.7 417.3,136.1 417.5,138.5 417.7,143.1 417.8,140.6 418.0,142.1 418.2,143.3 418.3,143.5 418.5,145.7 418.7,143.5 418.8,144.0 419.0,142.2 419.2,141.0 419.3,137.2 419.5,138.6 419.7,134.5 419.8,133.1 420.0,130.7 420.2,130.4 420.3,132.4 420.5,134.0 420.7,135.2 420.8,137.7 421.0,139.2 421.2,140.7 421.3,143.4 421.5,144.7 421.7,145.1 421.8,146.1 422.0,145.4 422.2,142.1 422.3,138.1 422.5,135.5 422.7,133.1 422.8,126.5 423.0,123.6 423.2,121.5 423.3,123.2 423.5,119.1 423.7,124.2 423.8,127.7 424.0,127.7 424.2,133.9 424.3,135.9 424.5,137.8 424.7,141.4 424.8,142.2 425.0,144.8 425.2,147.4 425.3,144.8 425.5,145.6 425.7,141.3 425.8,139.2 426.0,134.5 426.2,127.9 426.3,126.1 426.5,123.8 426.7,119.0 426.8,116.8 427.0,118.9 427.2,117.9 427.3,118.1 427.5,122.5 427.7,128.2 427.8,130.1 428.0,135.8 428.2,140.0 428.3,141.7 428.5,143.2 428.7,144.8 428.8,146.2 429.0,146.0 429.2,143.2 429.3,140.4 429.5,135.4 429.7,132.2 429.8,126.8 430.0,123.0 430.2,117.9 430.3,114.7 430.5,115.0 430.7,113.7 430.8,114.9 431.0,119.4 431.2,120.5 431.3,126.8 431.5,128.4 431.7,129.7 431.8,135.1 432.0,138.0 432.2,140.0 432.3,144.4 432.5,144.9 432.7,145.3 432.8,147.6 433.0,145.8 433.2,145.6 433.3,140.9 433.5,136.7 433.7,136.0 433.8,128.3 434.0,125.7 434.2,123.3 434.3,117.1 434.5,113.0 434.7,110.3 434.8,109.4 435.0,105.0 435.2,107.6 435.3,108.7 435.5,113.6 435.7,112.6 435.8,115.6 436.0,122.7 436.2,125.6 436.3,131.3 436.5,135.6 436.7,140.8 436.8,142.5 437.0,145.7 437.2,146.1 437.3,147.3 437.5,147.8 437.7,143.2 437.8,138.8 438.0,132.7 438.2,128.7 438.3,121.1 438.5,111.1 438.7,106.5 438.8,97.7 439.0,90.9 439.2,80.2 439.3,78.7 439.5,69.2 439.7,62.5 439.8,57.3 440.0,55.1 440.2,56.8 440.3,54.3 440.5,59.9 440.7,62.1 440.8,68.6 441.0,72.9 441.2,77.2 441.3,80.2 441.5,92.6 441.7,101.3 441.8,107.8 442.0,116.0 442.2,121.6 442.3,128.6 442.5,133.9 442.7,141.6 442.8,144.3 443.0,146.4 443.2,147.1 443.3,147.4 443.5,146.7 443.7,142.6 443.8,136.9 444.0,134.1 444.2,128.2 444.3,120.9 444.5,113.5 444.7,106.9 444.8,98.3 445.0,91.5 445.2,81.1 445.3,80.0 445.5,71.2 445.7,70.8 445.8,56.9 446.0,61.3 446.2,60.9 446.3,58.0 446.5,62.3 446.7,66.8 446.8,71.4 447.0,74.8 447.2,82.7 447.3,92.7 447.5,100.9 447.7,106.5 447.8,114.4 448.0,122.2 448.2,130.3 448.3,133.9 448.5,139.1 448.7,144.6 448.8,146.3 449.0,147.6 449.2,147.1 449.3,144.8 449.5,139.0 449.7,135.6 449.8,125.6 450.0,121.6 450.2,110.0 450.3,102.1 450.5,97.6 450.7,87.2 450.8,78.4 451.0,72.0 451.2,67.8 451.3,61.3 451.5,57.4 451.7,57.9 451.8,52.6 452.0,54.7 452.2,57.8 452.3,66.9 452.5,72.4 452.7,80.1 452.8,84.9 453.0,93.0 453.2,103.5 453.3,109.7 453.5,120.0 453.7,127.5 453.8,132.4 454.0,139.0 454.2,143.5 454.3,147.8 454.5,148.9 454.7,146.6 454.8,144.6 455.0,139.2 455.2,137.2 455.3,132.0 455.5,125.0 455.7,122.2 455.8,112.7 456.0,109.6 456.2,105.4 456.3,98.6 456.5,99.7 456.7,98.2 456.8,92.7 457.0,94.5 457.2,102.6 457.3,107.1 457.5,111.8 457.7,120.7 457.8,128.2 458.0,134.7 458.2,141.2 458.3,144.3 458.5,146.8 458.7,145.7 458.8,143.0 459.0,140.3 459.2,136.8 459.3,131.6 459.5,124.2 459.7,122.7 459.8,117.3 460.0,116.4 460.2,111.2 460.3,110.6 460.5,110.3 460.7,114.2 460.8,113.9 461.0,116.4 461.2,121.1 461.3,124.1 461.5,129.2 461.7,133.1 461.8,137.1 462.0,141.9 462.2,141.7 462.3,143.3 462.5,143.1 462.7,143.1 462.8,139.8 463.0,138.2 463.2,136.6 463.3,134.6 463.5,131.1 463.7,127.6 463.8,124.3 464.0,123.8 464.2,123.1 464.3,119.5 464.5,118.1 464.7,118.0 464.8,116.1 465.0,118.7 465.2,121.4 465.3,125.4 465.5,128.3 465.7,130.2 465.8,136.3 466.0,139.4 466.2,138.8 466.3,139.9 466.5,139.2 466.7,138.6 466.8,134.2 467.0,135.9 467.2,130.8 467.3,130.8 467.5,126.8 467.7,124.0 467.8,122.6 468.0,123.0 468.2,119.6 468.3,120.6 468.5,121.4 468.7,120.9 468.8,127.2 469.0,128.2 469.2,129.5 469.3,133.2 469.5,132.5 469.7,135.3 469.8,138.7 470.0,138.6 470.2,135.2 470.3,134.3 470.5,133.8 470.7,134.4 470.8,130.2 471.0,128.4 471.2,127.7 471.3,124.2 471.5,125.3 471.7,126.6 471.8,127.1 472.0,128.4 472.2,128.7 472.3,131.9 472.5,132.2 472.7,135.6 472.8,137.1 473.0,133.6 473.2,131.0 473.3,131.4 473.5,130.4 473.7,129.1 473.8,127.0 474.0,122.2 474.2,120.6 474.3,123.1 474.5,119.4 474.7,123.4 474.8,122.4 475.0,125.3 475.2,126.6 475.3,128.2 475.5,129.7 475.7,128.3 475.8,130.9 476.0,130.8 476.2,131.0 476.3,131.7 476.5,128.8 476.7,127.2 476.8,126.3 477.0,126.1 477.2,127.2 477.3,124.7 477.5,127.7 477.7,126.5 477.8,125.9 478.0,123.8 478.2,127.1 478.3,128.3 478.5,123.8 478.7,129.9 478.8,131.1 479.0,128.9 479.2,129.6 479.3,132.8 479.5,131.7 479.7,128.1 479.8,130.1 480.0,130.2 480.2,130.5 480.3,127.3 480.5,132.7 480.7,130.4 480.8,132.1 481.0,131.8 481.2,133.9 481.3,132.0 481.5,131.4 481.7,134.0 481.8,135.8 482.0,133.0 482.2,136.3 482.3,134.6 482.5,133.5 482.7,137.3 482.8,133.5 483.0,137.0 483.2,134.7 483.3,136.6 483.5,134.1 483.7,135.1 483.8,138.7 484.0,137.6 484.2,137.8 484.3,137.4 484.5,139.3 484.7,136.7 484.8,137.6 485.0,139.5 485.2,138.8 485.3,139.4 485.5,140.7 485.7,140.8 485.8,141.0 486.0,144.0 486.2,143.2 486.3,143.7 486.5,142.0 486.7,141.4 486.8,140.2 487.0,142.0 487.2,139.7 487.3,141.9 487.5,144.0 487.7,145.3 487.8,144.5 488.0,142.0 488.2,144.0 488.3,142.3 488.5,144.7 488.7,143.5 488.8,144.9 489.0,146.6 489.2,145.2 489.3,146.8 489.5,144.4 489.7,143.8 489.8,146.1 490.0,146.8 490.2,143.7 490.3,144.7 490.5,142.7 490.7,144.5 490.8,146.1 491.0,144.8 491.2,144.3 491.3,143.2 491.5,145.7 491.7,146.3 491.8,146.1 492.0,145.8 492.2,143.9 492.3,147.9 492.5,145.6 492.7,145.6 492.8,146.8 493.0,143.3 493.2,145.9 493.3,145.9 493.5,146.6 493.7,147.9 493.8,146.9 494.0,144.1 494.2,146.1 494.3,146.8 494.5,146.8 494.7,145.2 494.8,144.8 495.0,147.6 495.2,147.4 495.3,147.0 495.5,145.1 495.7,149.4 495.8,144.9 496.0,147.0 496.2,149.8 496.3,147.4 496.5,147.9 496.7,146.4 496.8,149.4 497.0,146.4 497.2,148.2 497.3,148.2 497.5,146.9 497.7,149.2 497.8,146.7 498.0,147.6 498.2,148.4 498.3,148.1 498.5,149.1 498.7,149.7 498.8,148.5 499.0,148.3 499.2,148.4 499.3,148.7 499.5,149.9 499.7,149.0 499.8,149.7 500.0,149.3 500.2,149.0 500.3,149.9 500.5,149.1 500.7,149.6 500.8,150.3 501.0,149.2 501.2,149.7 501.3,149.1 501.5,149.6 501.7,149.2 501.8,149.7 502.0,149.6 502.2,149.9 502.3,150.5 502.5,150.0 502.7,150.1 502.8,149.8 503.0,149.8 503.2,149.6 503.3,149.2 503.5,149.9 503.7,150.5 503.8,150.1 504.0,149.7 504.2,150.5 504.3,149.8 504.5,149.7 504.7,149.5 504.8,149.6 505.0,149.9 505.2,150.7 505.3,149.9 505.5,149.6 505.7,149.8 505.8,149.9 506.0,149.4 506.2,150.0 506.3,150.2 506.5,150.1 506.7,150.2 506.8,149.6 507.0,149.5 507.2,150.4 507.3,150.3 507.5,149.6 507.7,150.1 507.8,150.0 508.0,150.2 508.2,150.1 508.3,149.9 508.5,150.1 508.7,150.1 508.8,150.0 509.0,149.5 509.2,149.4 509.3,149.8 509.5,149.6 509.7,150.1 509.8,150.3 510.0,150.1 510.2,150.0 510.3,150.1 510.5,150.4 510.7,149.9 510.8,150.4 511.0,150.3 511.2,150.2 511.3,150.5 511.5,149.9 511.7,150.4 511.8,149.8 512.0,149.9 512.2,149.8 512.3,150.2 512.5,149.8 512.7,150.1 512.8,149.8 513.0,150.4 513.2,150.6 513.3,150.2 513.5,150.6 513.7,150.3 513.8,150.7 514.0,150.1 514.2,149.6 514.3,150.5 514.5,150.1 514.7,149.8 514.8,149.9 515.0,149.6 515.2,150.0" fill="none" stroke="#000" stroke-opacity="0.7" stroke-width="0.45"/>
<path d="M376.5,149.8 376.7,150.5 376.8,150.3 377.0,149.6 377.2,149.6 377.3,149.9 377.5,149.5 377.7,150.1 377.8,150.1 378.0,149.9 378.2,149.9 378.3,150.2 378.5,150.5 378.7,150.5 378.8,150.1 379.0,150.4 379.2,149.9 379.3,150.2 379.5,149.8 379.7,150.3 379.8,149.7 380.0,149.8 380.2,150.1 380.3,150.3 380.5,149.7 380.7,149.9 380.8,150.1 381.0,150.2 381.2,149.8 381.3,150.1 381.5,150.0 381.7,150.5 381.8,150.3 382.0,149.7 382.2,149.5 382.3,150.1 382.5,150.5 382.7,150.2 382.8,150.4 383.0,150.0 383.2,149.7 383.3,150.3 383.5,150.1 383.7,150.3 383.8,149.7 384.0,150.2 384.2,149.9 384.3,150.3 384.5,149.9 384.7,149.9 384.8,149.9 385.0,150.5 385.2,150.1 385.3,149.9 385.5,149.8 385.7,149.8 385.8,150.5 386.0,149.6 386.2,149.8 386.3,150.3 386.5,150.5 386.7,150.1 386.8,150.3 387.0,150.3 387.2,150.4 387.3,150.1 387.5,150.6 387.7,150.2 387.8,150.6 388.0,149.8 388.2,150.4 388.3,149.7 388.5,149.7 388.7,150.3 388.8,149.9 389.0,150.2 389.2,149.8 389.3,150.6 389.5,150.1 389.7,149.8 389.8,150.2 390.0,150.4 390.2,149.9 390.3,150.3 390.5,150.7 390.7,150.4 390.8,150.1 391.0,149.9 391.2,150.3 391.3,149.7 391.5,149.5 391.7,149.9 391.8,149.8 392.0,150.6 392.2,150.2 392.3,149.8 392.5,149.8 392.7,150.3 392.8,149.9 393.0,149.9 393.2,150.1 393.3,150.1 393.5,150.1 393.7,150.2 393.8,150.5 394.0,150.6 394.2,149.6 394.3,150.7 394.5,150.2 394.7,150.5 394.8,149.9 395.0,150.2 395.2,150.2 395.3,150.2 395.5,150.4 395.7,150.3 395.8,149.8 396.0,150.1 396.2,150.3 396.3,150.3 396.5,150.0 396.7,150.0 396.8,150.1 397.0,149.8 397.2,149.7 397.3,150.6 397.5,150.0 397.7,150.2 397.8,149.9 398.0,150.5 398.2,150.6 398.3,150.1 398.5,150.3 398.7,149.9 398.8,150.7 399.0,150.4 399.2,149.8 399.3,150.4 399.5,149.9 399.7,149.7 399.8,149.4 400.0,148.5 400.2,148.2 400.3,148.5 400.5,147.7 400.7,146.6 400.8,148.3 401.0,146.3 401.2,145.7 401.3,145.2 401.5,146.0 401.7,146.0 401.8,145.1 402.0,145.9 402.2,142.1 402.3,143.5 402.5,143.1 402.7,143.5 402.8,144.0 403.0,139.8 403.2,145.7 403.3,141.0 403.5,142.6 403.7,143.1 403.8,142.9 404.0,141.7 404.2,137.6 404.3,138.9 404.5,141.6 404.7,138.6 404.8,138.1 405.0,136.1 405.2,141.3 405.3,139.8 405.5,137.2 405.7,138.2 405.8,138.0 406.0,136.0 406.2,137.3 406.3,138.0 406.5,138.3 406.7,139.3 406.8,136.9 407.0,135.8 407.2,137.1 407.3,135.1 407.5,133.8 407.7,138.0 407.8,135.2 408.0,136.1 408.2,137.3 408.3,134.9 408.5,138.8 408.7,139.1 408.8,138.4 409.0,138.9 409.2,136.2 409.3,133.0 409.5,135.0 409.7,132.9 409.8,135.5 410.0,134.1 410.2,132.9 410.3,134.6 410.5,137.8 410.7,138.4 410.8,137.8 411.0,138.4 411.2,137.3 411.3,137.3 411.5,138.1 411.7,136.2 411.8,136.4 412.0,133.3 412.2,131.9 412.3,131.8 412.5,134.5 412.7,138.5 412.8,139.2 413.0,136.3 413.2,136.3 413.3,140.7 413.5,140.2 413.7,136.4 413.8,139.6 414.0,136.9 414.2,137.9 414.3,135.5 414.5,136.4 414.7,135.8 414.8,134.2 415.0,136.4 415.2,136.5 415.3,139.8 415.5,137.1 415.7,136.2 415.8,139.5 416.0,139.6 416.2,139.2 416.3,137.8 416.5,132.5 416.7,133.7 416.8,134.2 417.0,135.7 417.2,133.0 417.3,137.5 417.5,139.1 417.7,138.2 417.8,141.1 418.0,143.1 418.2,142.9 418.3,144.5 418.5,144.8 418.7,144.3 418.8,143.6 419.0,141.7 419.2,141.7 419.3,138.0 419.5,135.7 419.7,135.6 419.8,132.2 420.0,132.5 420.2,132.8 420.3,131.8 420.5,132.9 420.7,135.5 420.8,137.2 421.0,136.7 421.2,139.3 421.3,143.9 421.5,144.6 421.7,143.6 421.8,144.4 422.0,144.4 422.2,140.9 422.3,139.0 422.5,134.7 422.7,131.2 422.8,125.1 423.0,124.7 423.2,124.9 423.3,120.0 423.5,124.1 423.7,125.2 423.8,126.9 424.0,128.8 424.2,130.5 424.3,134.2 424.5,139.3 424.7,142.2 424.8,144.7 425.0,146.0 425.2,146.7 425.3,145.2 425.5,142.9 425.7,141.6 425.8,138.7 426.0,134.6 426.2,128.6 426.3,126.2 426.5,121.3 426.7,121.1 426.8,117.3 427.0,118.1 427.2,119.5 427.3,121.1 427.5,125.7 427.7,125.4 427.8,128.0 428.0,135.8 428.2,139.9 428.3,143.1 428.5,144.5 428.7,146.3 428.8,146.4 429.0,144.2 429.2,142.5 429.3,140.4 429.5,135.3 429.7,134.3 429.8,125.3 430.0,122.9 430.2,121.8 430.3,116.4 430.5,113.9 430.7,113.3 430.8,115.3 431.0,120.8 431.2,121.4 431.3,124.5 431.5,126.3 431.7,131.8 431.8,134.3 432.0,136.6 432.2,140.3 432.3,143.7 432.5,146.5 432.7,146.7 432.8,147.5 433.0,147.8 433.2,143.7 433.3,140.3 433.5,139.2 433.7,134.7 433.8,129.7 434.0,125.8 434.2,120.5 434.3,117.8 434.5,112.7 434.7,111.6 434.8,105.7 435.0,105.1 435.2,106.7 435.3,106.8 435.5,111.3 435.7,113.1 435.8,116.2 436.0,121.9 436.2,125.4 436.3,128.8 436.5,134.1 436.7,138.7 436.8,142.7 437.0,145.9 437.2,148.1 437.3,148.2 437.5,148.0 437.7,145.0 437.8,139.4 438.0,136.3 438.2,129.6 438.3,120.1 438.5,113.8 438.7,107.4 438.8,97.8 439.0,91.5 439.2,82.6 439.3,76.3 439.5,67.5 439.7,63.9 439.8,57.8 440.0,57.7 440.2,50.2 440.3,56.0 440.5,60.5 440.7,62.2 440.8,65.3 441.0,72.3 441.2,75.5 441.3,82.7 441.5,91.3 441.7,99.5 441.8,109.4 442.0,113.6 442.2,124.0 442.3,127.0 442.5,134.2 442.7,140.2 442.8,145.2 443.0,146.4 443.2,146.7 443.3,147.8 443.5,145.5 443.7,141.2 443.8,136.6 444.0,131.4 444.2,126.3 444.3,120.4 444.5,109.5 444.7,108.5 444.8,97.2 445.0,89.2 445.2,84.5 445.3,76.8 445.5,75.5 445.7,68.7 445.8,61.2 446.0,58.6 446.2,57.2 446.3,58.1 446.5,63.0 446.7,63.4 446.8,74.0 447.0,76.0 447.2,82.8 447.3,92.6 447.5,94.4 447.7,104.7 447.8,115.4 448.0,121.9 448.2,128.9 448.3,135.7 448.5,139.9 448.7,144.4 448.8,146.1 449.0,146.8 449.2,148.0 449.3,143.6 449.5,139.4 449.7,136.4 449.8,129.7 450.0,120.0 450.2,112.0 450.3,104.5 450.5,94.4 450.7,89.3 450.8,80.7 451.0,73.4 451.2,68.7 451.3,63.4 451.5,62.4 451.7,59.2 451.8,50.1 452.0,58.4 452.2,56.4 452.3,60.4 452.5,71.8 452.7,75.5 452.8,84.3 453.0,95.6 453.2,100.6 453.3,108.9 453.5,119.3 453.7,128.2 453.8,134.0 454.0,137.5 454.2,143.0 454.3,146.4 454.5,148.8 454.7,147.4 454.8,145.3 455.0,142.5 455.2,136.6 455.3,132.7 455.5,127.3 455.7,119.4 455.8,115.4 456.0,111.1 456.2,103.2 456.3,102.7 456.5,99.5 456.7,98.2 456.8,94.0 457.0,97.7 457.2,104.4 457.3,108.7 457.5,112.6 457.7,121.6 457.8,130.4 458.0,134.9 458.2,140.7 458.3,145.7 458.5,145.3 458.7,144.5 458.8,141.4 459.0,138.5 459.2,137.0 459.3,130.5 459.5,124.3 459.7,120.0 459.8,117.2 460.0,115.0 460.2,109.7 460.3,111.0 460.5,108.9 460.7,111.8 460.8,114.5 461.0,117.9 461.2,120.0 461.3,124.5 461.5,129.7 461.7,131.4 461.8,137.0 462.0,140.4 462.2,143.2 462.3,143.3 462.5,143.1 462.7,142.6 462.8,140.2 463.0,138.8 463.2,137.1 463.3,134.3 463.5,129.8 463.7,127.9 463.8,122.6 464.0,124.2 464.2,119.9 464.3,119.4 464.5,115.9 464.7,117.1 464.8,118.4 465.0,120.8 465.2,119.6 465.3,126.2 465.5,128.1 465.7,130.7 465.8,135.5 466.0,137.1 466.2,138.7 466.3,138.7 466.5,139.2 466.7,137.7 466.8,135.7 467.0,132.6 467.2,130.8 467.3,129.6 467.5,128.5 467.7,124.5 467.8,125.0 468.0,121.5 468.2,119.3 468.3,122.2 468.5,120.6 468.7,124.1 468.8,126.9 469.0,126.9 469.2,129.4 469.3,134.3 469.5,134.0 469.7,135.7 469.8,137.6 470.0,137.3 470.2,137.4 470.3,137.1 470.5,132.6 470.7,134.9 470.8,129.4 471.0,127.1 471.2,127.6 471.3,125.5 471.5,123.1 471.7,125.7 471.8,124.7 472.0,126.8 472.2,127.4 472.3,130.1 472.5,133.3 472.7,134.1 472.8,135.0 473.0,135.6 473.2,133.5 473.3,131.0 473.5,129.5 473.7,130.0 473.8,125.4 474.0,123.9 474.2,121.7 474.3,121.4 474.5,121.8 474.7,121.7 474.8,122.5 475.0,122.9 475.2,124.3 475.3,127.7 475.5,129.6 475.7,130.9 475.8,130.6 476.0,129.7 476.2,131.4 476.3,130.8 476.5,127.1 476.7,129.4 476.8,128.2 477.0,129.0 477.2,124.4 477.3,124.0 477.5,127.1 477.7,123.4 477.8,125.1 478.0,124.2 478.2,124.6 478.3,123.2 478.5,126.8 478.7,129.4 478.8,128.8 479.0,129.1 479.2,128.0 479.3,131.8 479.5,130.4 479.7,131.7 479.8,127.2 480.0,131.1 480.2,128.6 480.3,131.6 480.5,131.6 480.7,129.5 480.8,132.1 481.0,134.2 481.2,133.2 481.3,133.6 481.5,131.3 481.7,131.9 481.8,131.4 482.0,133.8 482.2,135.9 482.3,134.9 482.5,134.4 482.7,132.7 482.8,135.7 483.0,134.8 483.2,132.3 483.3,132.9 483.5,135.6 483.7,135.1 483.8,139.7 484.0,137.4 484.2,136.0 484.3,137.4 484.5,141.1 484.7,137.5 484.8,140.6 485.0,140.4 485.2,142.4 485.3,141.3 485.5,140.2 485.7,141.8 485.8,141.4 486.0,143.0 486.2,141.6 486.3,144.8 486.5,141.9 486.7,142.8 486.8,141.4 487.0,142.7 487.2,142.7 487.3,143.0 487.5,144.2 487.7,142.2 487.8,141.9 488.0,144.8 488.2,142.9 488.3,142.5 488.5,145.2 488.7,144.7 488.8,140.9 489.0,143.3 489.2,145.0 489.3,145.2 489.5,143.4 489.7,146.4 489.8,143.2 490.0,144.1 490.2,144.7 490.3,144.6 490.5,145.8 490.7,146.2 490.8,144.8 491.0,146.8 491.2,144.2 491.3,144.9 491.5,147.5 491.7,145.4 491.8,146.8 492.0,144.9 492.2,145.2 492.3,145.5 492.5,145.9 492.7,145.4 492.8,145.9 493.0,146.8 493.2,147.6 493.3,146.3 493.5,147.0 493.7,147.4 493.8,145.0 494.0,144.5 494.2,148.5 494.3,148.2 494.5,146.8 494.7,147.2 494.8,145.7 495.0,145.3 495.2,147.4 495.3,145.3 495.5,148.3 495.7,146.5 495.8,147.7 496.0,149.7 496.2,149.7 496.3,147.3 496.5,148.9 496.7,146.6 496.8,147.2 497.0,148.3 497.2,149.6 497.3,147.4 497.5,148.8 497.7,148.3 497.8,146.9 498.0,148.2 498.2,150.1 498.3,148.4 498.5,149.2 498.7,149.6 498.8,148.0 499.0,150.2 499.2,150.5 499.3,150.7 499.5,150.5 499.7,148.8 499.8,148.7 500.0,149.0 500.2,149.0 500.3,149.1 500.5,150.0 500.7,150.3 500.8,149.4 501.0,150.1 501.2,149.2 501.3,149.6 501.5,149.4 501.7,149.2 501.8,149.8 502.0,149.9 502.2,149.7 502.3,149.6 502.5,149.5 502.7,149.8 502.8,149.6 503.0,150.0 503.2,149.4 503.3,150.0 503.5,150.1 503.7,150.4 503.8,150.3 504.0,150.0 504.2,149.7 504.3,149.2 504.5,149.9 504.7,150.4 504.8,150.5 505.0,149.2 505.2,149.7 505.3,149.8 505.5,149.6 505.7,150.0 505.8,150.0 506.0,149.8 506.2,150.0 506.3,149.5 506.5,149.7 506.7,149.7 506.8,150.3 507.0,149.5 507.2,149.9 507.3,150.2 507.5,150.0 507.7,150.3 507.8,149.8 508.0,150.2 508.2,150.3 508.3,150.6 508.5,150.3 508.7,150.5 508.8,150.0 509.0,150.1 509.2,150.5 509.3,150.2 509.5,150.5 509.7,150.3 509.8,150.7 510.0,150.7 510.2,149.8 510.3,150.6 510.5,150.2 510.7,150.2 510.8,150.0 511.0,150.3 511.2,149.8 511.3,149.9 511.5,149.9 511.7,150.2 511.8,150.4 512.0,150.3 512.2,150.2 512.3,149.9 512.5,149.6 512.7,150.2 512.8,150.1 513.0,150.2 513.2,150.5 513.3,150.0 513.5,150.0 513.7,149.5 513.8,150.3 514.0,150.1 514.2,149.9 514.3,150.2 514.5,149.8 514.7,149.9 514.8,150.7 515.0,150.3 515.2,150.4" fill="none" stroke="#000" stroke-opacity="0.7" stroke-width="0.45"/>
<path d="M376.5,150.1 L399,150.1 L399.2,150.04 L399.8,149.25 L401.2,145.99 L402.4,143.85 L405.5,138.63 L407.2,136.33 L407.8,135.84 L408,135.8 L408.1,135.92 L408.6,138.11 L408.8,138.54 L408.9,138.44 L409.2,137.28 L409.7,134.42 L410,133.61 L410.2,133.93 L410.8,136.97 L411.1,137.78 L411.4,137.32 L412.1,135.02 L412.3,134.83 L412.4,134.97 L413.1,138.58 L413.4,139.45 L413.6,139.03 L414.2,135.32 L414.4,134.7 L414.5,134.73 L414.7,135.27 L415.3,138.25 L415.5,138.81 L415.6,138.85 L415.9,138.01 L416.4,135.52 L416.6,135.01 L416.7,134.99 L416.9,135.37 L417.2,136.71 L418.2,143.01 L418.4,143.73 L418.6,144 L418.8,143.46 L419,142.03 L419.9,132.56 L420.1,131.54 L420.2,131.4 L420.4,132.01 L420.6,133.6 L421.5,144.2 L421.7,145.34 L421.8,145.5 L422,144.32 L422.2,141.24 L423,123.73 L423.2,121.51 L423.3,121.2 L423.5,121.97 L423.8,125.45 L424.8,143.17 L425,145.23 L425.2,146 L425.4,145.05 L425.6,142.5 L426.6,121.8 L426.8,119.25 L427,118.3 L427.2,119.26 L427.4,121.83 L428.4,142.77 L428.6,145.34 L428.8,146.3 L429,145.24 L429.2,142.41 L430.2,119.39 L430.4,116.56 L430.6,115.5 L430.8,116.24 L431.1,119.65 L432.3,142.95 L432.6,146.36 L432.8,147.1 L432.9,146.88 L433.1,145.2 L433.4,140.22 L434.6,111.25 L434.9,107.17 L435.1,106.3 L435.3,107.27 L435.6,111.77 L436.8,142.43 L437.1,146.93 L437.3,147.9 L437.4,147.57 L437.6,145.11 L438,134.2 L439.6,64.84 L439.9,57.29 L440.1,54.83 L440.2,54.5 L440.3,54.8 L440.5,57.12 L440.9,67.4 L442.6,138.28 L442.9,145.38 L443.1,147.7 L443.2,148 L443.3,147.71 L443.5,145.49 L443.9,135.63 L445.6,67.63 L445.9,60.81 L446.1,58.59 L446.2,58.3 L446.3,58.64 L446.5,61.17 L446.9,72.32 L448.1,126.16 L448.5,140.44 L448.9,147.66 L449,148 L449.2,146.64 L449.5,140.12 L449.8,129.46 L451.2,65.54 L451.5,57.49 L451.7,54.85 L451.8,54.5 L451.9,54.87 L452.1,57.69 L452.5,70.01 L453.9,135.76 L454.2,144.31 L454.4,147.13 L454.5,147.5 L454.6,147.21 L454.8,145.08 L455.1,138.73 L456.3,101.8 L456.6,96.61 L456.8,95.5 L457,97.41 L457.2,102.47 L458.1,138.33 L458.3,143.39 L458.5,145.3 L458.7,144.19 L459,139.17 L460,113.59 L460.2,110.61 L460.4,109.5 L460.6,110.45 L460.9,114.8 L462,139.87 L462.2,142.45 L462.4,143.4 L462.5,143.26 L462.7,142.18 L463,138.98 L464.2,120.38 L464.5,117.76 L464.7,117.2 L464.9,118.16 L465.1,120.68 L466,137.44 L466.2,139.25 L466.3,139.5 L466.5,138.93 L466.7,137.39 L467.7,124.17 L468.1,121.15 L468.2,121 L468.3,121.13 L468.6,122.9 L469.6,134.76 L469.9,137.09 L470.1,137.6 L470.2,137.42 L470.4,136.11 L471.2,126.49 L471.4,125.18 L471.5,125 L471.6,125.14 L471.8,126.15 L472.6,133.55 L472.8,134.56 L472.9,134.7 L473,134.53 L473.3,132.3 L474.1,122.42 L474.3,121.17 L474.4,121 L474.6,121.42 L474.8,122.53 L475.5,128.53 L475.9,130.69 L476,130.8 L476.1,130.72 L476.3,130.14 L477.1,126.21 L477.3,125.9 L477.8,126.17 L478.5,127.24 L480.1,130.63 L483.3,135.79 L485.6,140.94 L486.4,141.92 L487.7,143 L491.2,145.05 L499.8,149.27 L500.9,149.69 L501.6,149.8 L506.3,149.98 L515.3,150.1" fill="none" stroke="#000" stroke-opacity="0.85" stroke-width="0.9" stroke-linejoin="round"/>
</g>
<g clip-path="url(#cld)">
<path d="M567,149.5 L569,149.5 L569.5,149.2 L570.1,148.25 L571.3,145.77 L575.5,138.73 L576.1,137.99 L577.2,137.04 L578,136.51 L578.6,136.31 L579,136.33 L579.3,136.45 L580.1,137.19 L581.8,139.42 L583.3,142.08 L583.6,142.42 L583.9,142.59 L584.1,142.57 L584.4,142.18 L585.4,139.53 L585.7,139.01 L585.9,138.9 L586.1,139.53 L586.7,144.37 L586.9,145 L587,144.88 L587.2,144 L588,137.5 L588.2,136.62 L588.3,136.5 L588.5,137.75 L589,145.15 L589.2,146.4 L589.3,146.13 L589.5,144.24 L590.2,132.56 L590.4,130.67 L590.5,130.4 L590.6,130.79 L590.8,133.43 L591.4,145.55 L591.6,147 L591.8,146.17 L592,143.95 L592.9,128.25 L593.1,126.03 L593.3,125.2 L593.5,126.16 L593.7,128.68 L594.6,145.44 L594.8,147.25 L594.9,147.5 L595.1,146.4 L595.4,141.38 L596.4,115.88 L596.6,112.9 L596.8,111.8 L597,112.7 L597.3,116.88 L598.5,143.93 L598.7,146.4 L598.9,147.3 L599.1,146.1 L599.4,140.67 L600.4,113.02 L600.6,109.8 L600.8,108.6 L600.9,108.82 L601.1,110.43 L601.4,115.23 L602.6,143.14 L602.9,147.06 L603.1,147.9 L603.2,147.68 L603.4,146.01 L603.7,141.02 L605,108.83 L605.3,104.77 L605.5,103.9 L605.6,104.14 L605.8,105.96 L606.1,111.34 L607.3,142.65 L607.6,147.06 L607.8,148 L607.9,147.6 L608.1,144.55 L608.4,135.36 L609.8,67.14 L610.1,57.95 L610.3,54.9 L610.4,54.5 L610.6,56.34 L610.9,64.98 L612.2,133.39 L612.5,143.98 L612.7,147.53 L612.8,148 L613,146.11 L613.3,137.26 L614.5,74.34 L614.8,63.53 L615,59.89 L615.1,59.4 L615.2,59.89 L615.4,63.53 L615.7,74.34 L616.9,137.26 L617.2,146.11 L617.4,148 L617.5,147.48 L617.7,143.57 L618,131.96 L619.2,64.43 L619.5,54.93 L619.7,52.9 L619.8,53.42 L620,57.32 L620.3,68.91 L621.5,136.3 L621.8,145.77 L622,147.8 L622.2,146.03 L622.5,137.79 L623.7,81.71 L624,73.47 L624.2,71.7 L624.4,74.22 L624.6,80.99 L625.6,136.01 L625.8,142.78 L626,145.3 L626.2,144.29 L626.5,139.61 L627.7,107.69 L628,103.01 L628.2,102 L628.4,103.24 L628.7,108.92 L629.8,141.69 L630,145.06 L630.2,146.3 L630.4,145.23 L630.7,140.32 L631.8,111.98 L632,109.07 L632.2,108 L632.4,109.02 L632.7,113.69 L633.8,140.61 L634,143.38 L634.2,144.4 L634.4,143.41 L634.6,140.77 L635.5,122.13 L635.7,119.49 L635.9,118.5 L636.1,119.41 L636.3,121.85 L637.2,139.05 L637.4,141.49 L637.6,142.4 L637.8,141.5 L638,139.13 L638.7,126.35 L639.1,121.73 L639.2,121.5 L639.3,121.66 L639.5,122.83 L640.6,137.23 L640.8,138.88 L641,139.5 L641.2,138.83 L641.4,137.05 L642.3,124.45 L642.5,122.67 L642.7,122 L642.9,122.55 L643.1,123.98 L644,133.53 L644.2,134.56 L644.3,134.7 L644.5,134.47 L644.7,133.86 L645.5,129.95 L645.9,128.76 L646.1,128.76 L646.3,129.16 L647.2,132.92 L647.4,133.49 L647.6,133.7 L647.8,133.51 L648,133.02 L648.8,130.21 L649,129.85 L649.3,129.86 L649.6,130.13 L650,130.76 L654,138.5 L655.9,141.27 L656.7,142.2 L657.5,142.95 L659.1,144.18 L662.3,146.26 L664,147.24 L666.8,148.66 L668.4,149.18 L670.4,149.43 L672,149.5" fill="none" stroke="#000" stroke-opacity="0.16" stroke-width="3.2" stroke-linejoin="round" filter="url(#bl)"/>
<path d="M567.0,149.2 567.2,149.4 567.3,150.2 567.5,149.8 567.7,148.8 567.8,149.5 568.0,149.2 568.2,149.6 568.3,148.8 568.5,149.6 568.7,149.6 568.8,150.1 569.0,149.6 569.2,149.7 569.3,148.7 569.5,150.1 569.7,148.0 569.8,149.3 570.0,148.2 570.2,147.6 570.3,147.4 570.5,147.0 570.7,147.3 570.8,146.6 571.0,147.4 571.2,144.6 571.3,145.7 571.5,144.7 571.7,145.8 571.8,143.2 572.0,144.3 572.2,144.6 572.3,141.5 572.5,145.4 572.7,143.7 572.8,144.8 573.0,144.5 573.2,140.8 573.3,140.9 573.5,141.6 573.7,143.0 573.8,143.0 574.0,139.9 574.2,139.8 574.3,139.2 574.5,139.3 574.7,139.6 574.8,139.5 575.0,143.2 575.2,138.3 575.3,138.4 575.5,139.6 575.7,136.7 575.8,137.6 576.0,138.1 576.2,139.4 576.3,135.2 576.5,140.3 576.7,136.8 576.8,137.7 577.0,138.9 577.2,138.4 577.3,139.0 577.5,137.2 577.7,136.7 577.8,137.2 578.0,134.6 578.2,138.8 578.3,134.8 578.5,133.8 578.7,140.3 578.8,136.0 579.0,134.0 579.2,140.0 579.3,135.8 579.5,138.7 579.7,135.1 579.8,136.4 580.0,133.8 580.2,133.6 580.3,135.6 580.5,137.5 580.7,139.5 580.8,142.0 581.0,136.4 581.2,140.5 581.3,137.7 581.5,138.7 581.7,136.4 581.8,136.7 582.0,138.3 582.2,137.9 582.3,140.4 582.5,139.4 582.7,143.3 582.8,141.6 583.0,141.9 583.2,143.9 583.3,143.0 583.5,142.3 583.7,142.3 583.8,142.4 584.0,144.5 584.2,143.9 584.3,142.9 584.5,143.4 584.7,140.6 584.8,142.0 585.0,138.0 585.2,142.6 585.3,139.9 585.5,139.7 585.7,140.2 585.8,138.9 586.0,138.6 586.2,141.2 586.3,141.5 586.5,142.0 586.7,144.5 586.8,143.5 587.0,146.2 587.2,144.0 587.3,143.1 587.5,143.6 587.7,142.2 587.8,138.8 588.0,138.2 588.2,138.0 588.3,138.5 588.5,137.6 588.7,140.2 588.8,143.9 589.0,145.4 589.2,146.9 589.3,146.4 589.5,143.3 589.7,140.9 589.8,136.5 590.0,135.4 590.2,134.7 590.3,129.6 590.5,132.1 590.7,132.8 590.8,134.0 591.0,137.6 591.2,141.4 591.3,143.8 591.5,146.4 591.7,146.9 591.8,146.4 592.0,144.6 592.2,140.6 592.3,139.2 592.5,134.2 592.7,131.8 592.8,129.7 593.0,127.0 593.2,125.4 593.3,125.6 593.5,125.3 593.7,127.3 593.8,130.7 594.0,135.5 594.2,137.6 594.3,143.0 594.5,144.2 594.7,144.7 594.8,147.1 595.0,148.3 595.2,145.6 595.3,142.4 595.5,138.1 595.7,136.4 595.8,131.5 596.0,126.5 596.2,121.7 596.3,119.6 596.5,115.6 596.7,110.1 596.8,113.2 597.0,113.0 597.2,114.5 597.3,118.8 597.5,121.0 597.7,122.0 597.8,131.3 598.0,134.6 598.2,137.2 598.3,140.6 598.5,144.1 598.7,145.1 598.8,147.4 599.0,146.8 599.2,144.9 599.3,141.3 599.5,137.4 599.7,134.9 599.8,130.3 600.0,124.2 600.2,118.6 600.3,112.9 600.5,112.5 600.7,112.1 600.8,105.7 601.0,111.6 601.2,107.7 601.3,113.4 601.5,117.9 601.7,119.0 601.8,123.0 602.0,129.8 602.2,134.8 602.3,137.2 602.5,142.6 602.7,143.6 602.8,147.7 603.0,147.8 603.2,147.9 603.3,147.2 603.5,144.9 603.7,143.5 603.8,140.3 604.0,134.7 604.2,129.3 604.3,123.2 604.5,119.2 604.7,116.1 604.8,112.0 605.0,108.8 605.2,106.2 605.3,105.5 605.5,101.3 605.7,102.6 605.8,108.5 606.0,110.8 606.2,111.9 606.3,119.2 606.5,120.6 606.7,126.1 606.8,128.7 607.0,136.7 607.2,139.8 607.3,144.3 607.5,146.5 607.7,147.6 607.8,148.1 608.0,147.3 608.2,142.8 608.3,137.7 608.5,131.4 608.7,125.0 608.8,117.0 609.0,110.3 609.2,97.5 609.3,91.6 609.5,78.9 609.7,74.1 609.8,66.3 610.0,65.0 610.2,58.3 610.3,53.6 610.5,56.6 610.7,58.7 610.8,61.9 611.0,68.5 611.2,74.9 611.3,90.4 611.5,95.8 611.7,107.1 611.8,112.8 612.0,122.2 612.2,131.8 612.3,138.7 612.5,144.7 612.7,146.5 612.8,148.3 613.0,147.3 613.2,141.1 613.3,137.1 613.5,127.1 613.7,120.4 613.8,111.2 614.0,104.4 614.2,90.0 614.3,82.9 614.5,77.0 614.7,64.9 614.8,62.8 615.0,57.8 615.2,57.9 615.3,63.8 615.5,68.4 615.7,77.7 615.8,84.0 616.0,92.4 616.2,98.7 616.3,108.0 616.5,118.2 616.7,123.8 616.8,136.6 617.0,140.3 617.2,144.6 617.3,147.5 617.5,148.1 617.7,145.6 617.8,138.8 618.0,132.6 618.2,123.3 618.3,112.1 618.5,103.9 618.7,93.4 618.8,79.8 619.0,76.7 619.2,62.0 619.3,60.1 619.5,52.2 619.7,50.9 619.8,52.0 620.0,59.2 620.2,59.9 620.3,70.1 620.5,83.0 620.7,87.6 620.8,99.3 621.0,110.8 621.2,118.5 621.3,129.2 621.5,135.5 621.7,143.1 621.8,146.4 622.0,147.2 622.2,147.6 622.3,143.0 622.5,137.5 622.7,129.9 622.8,122.6 623.0,114.8 623.2,106.6 623.3,100.1 623.5,87.1 623.7,82.2 623.8,80.2 624.0,73.9 624.2,72.8 624.3,76.7 624.5,78.0 624.7,85.1 624.8,92.6 625.0,105.9 625.2,114.5 625.3,121.4 625.5,132.2 625.7,137.4 625.8,144.5 626.0,145.8 626.2,144.5 626.3,142.3 626.5,137.7 626.7,136.7 626.8,131.2 627.0,126.1 627.2,122.8 627.3,115.8 627.5,111.3 627.7,107.1 627.8,102.6 628.0,106.9 628.2,101.6 628.3,101.9 628.5,106.4 628.7,104.4 628.8,112.5 629.0,117.6 629.2,121.5 629.3,129.2 629.5,131.3 629.7,138.5 629.8,143.2 630.0,143.4 630.2,145.2 630.3,145.6 630.5,143.9 630.7,140.3 630.8,137.5 631.0,133.0 631.2,126.0 631.3,123.0 631.5,116.5 631.7,111.3 631.8,107.8 632.0,110.7 632.2,107.5 632.3,111.8 632.5,107.3 632.7,112.1 632.8,116.9 633.0,120.3 633.2,125.8 633.3,129.8 633.5,133.2 633.7,135.8 633.8,140.1 634.0,144.8 634.2,144.9 634.3,145.0 634.5,141.6 634.7,139.3 634.8,135.1 635.0,132.9 635.2,128.7 635.3,125.7 635.5,124.7 635.7,118.3 635.8,119.6 636.0,116.2 636.2,121.7 636.3,121.5 636.5,125.0 636.7,128.7 636.8,134.2 637.0,135.4 637.2,137.9 637.3,139.5 637.5,142.3 637.7,141.4 637.8,140.6 638.0,139.0 638.2,137.0 638.3,132.2 638.5,130.8 638.7,129.3 638.8,121.9 639.0,124.3 639.2,124.7 639.3,120.7 639.5,123.6 639.7,122.3 639.8,126.9 640.0,128.4 640.2,131.7 640.3,132.6 640.5,135.0 640.7,137.2 640.8,138.2 641.0,138.7 641.2,138.7 641.3,136.3 641.5,135.5 641.7,134.0 641.8,128.3 642.0,128.5 642.2,124.8 642.3,122.2 642.5,120.4 642.7,120.4 642.8,120.8 643.0,123.5 643.2,122.5 643.3,127.7 643.5,127.0 643.7,131.0 643.8,133.3 644.0,131.8 644.2,135.6 644.3,137.2 644.5,133.8 644.7,134.6 644.8,133.0 645.0,132.5 645.2,131.2 645.3,130.0 645.5,130.8 645.7,130.4 645.8,128.8 646.0,130.8 646.2,130.3 646.3,130.2 646.5,128.8 646.7,133.1 646.8,133.1 647.0,129.5 647.2,131.3 647.3,132.7 647.5,134.8 647.7,135.2 647.8,133.1 648.0,133.3 648.2,133.3 648.3,130.1 648.5,132.0 648.7,130.2 648.8,130.4 649.0,129.8 649.2,128.2 649.3,128.5 649.5,130.1 649.7,130.4 649.8,130.1 650.0,132.2 650.2,130.6 650.3,129.8 650.5,131.3 650.7,131.9 650.8,132.2 651.0,134.2 651.2,133.6 651.3,134.6 651.5,134.4 651.7,133.7 651.8,135.6 652.0,134.3 652.2,135.3 652.3,134.1 652.5,135.8 652.7,135.6 652.8,136.8 653.0,138.8 653.2,139.3 653.3,138.5 653.5,137.6 653.7,138.9 653.8,138.5 654.0,137.8 654.2,138.7 654.3,138.8 654.5,138.6 654.7,141.0 654.8,139.2 655.0,139.5 655.2,141.0 655.3,139.8 655.5,139.6 655.7,140.1 655.8,141.7 656.0,141.8 656.2,141.9 656.3,141.4 656.5,141.1 656.7,143.0 656.8,141.0 657.0,142.3 657.2,141.4 657.3,142.4 657.5,142.8 657.7,144.2 657.8,141.4 658.0,144.6 658.2,142.7 658.3,143.9 658.5,144.5 658.7,143.2 658.8,143.9 659.0,144.6 659.2,144.1 659.3,143.7 659.5,144.6 659.7,144.7 659.8,143.4 660.0,145.9 660.2,145.1 660.3,143.4 660.5,144.5 660.7,146.6 660.8,146.6 661.0,145.7 661.2,144.2 661.3,145.5 661.5,146.6 661.7,146.2 661.8,145.7 662.0,145.5 662.2,146.8 662.3,146.1 662.5,146.6 662.7,146.9 662.8,147.8 663.0,146.8 663.2,147.0 663.3,145.6 663.5,147.8 663.7,147.7 663.8,147.2 664.0,145.9 664.2,147.0 664.3,147.5 664.5,148.8 664.7,148.0 664.8,148.2 665.0,148.3 665.2,148.7 665.3,147.2 665.5,147.5 665.7,147.4 665.8,148.0 666.0,148.1 666.2,148.4 666.3,147.9 666.5,148.6 666.7,148.1 666.8,149.8 667.0,148.5 667.2,149.9 667.3,149.7 667.5,148.4 667.7,149.5 667.8,149.4 668.0,148.4 668.2,149.4 668.3,149.1 668.5,149.4 668.7,148.8 668.8,149.2 669.0,149.5 669.2,149.2 669.3,149.1 669.5,149.3 669.7,148.9 669.8,149.5 670.0,148.5 670.2,150.1 670.3,149.5 670.5,149.6 670.7,149.8 670.8,148.9 671.0,150.3 671.2,149.0 671.3,149.7 671.5,149.6 671.7,150.0 671.8,149.5 672.0,148.9" fill="none" stroke="#000" stroke-opacity="0.7" stroke-width="0.45"/>
<path d="M567.0,149.6 567.2,148.7 567.3,149.4 567.5,149.3 567.7,150.1 567.8,149.4 568.0,149.3 568.2,149.2 568.3,149.2 568.5,149.3 568.7,149.8 568.8,149.0 569.0,149.4 569.2,148.9 569.3,149.3 569.5,149.3 569.7,148.4 569.8,148.4 570.0,148.5 570.2,148.6 570.3,148.4 570.5,147.3 570.7,146.4 570.8,145.5 571.0,146.9 571.2,147.1 571.3,146.0 571.5,146.7 571.7,144.8 571.8,144.5 572.0,145.9 572.2,142.6 572.3,145.0 572.5,144.4 572.7,143.7 572.8,146.1 573.0,141.3 573.2,141.8 573.3,138.8 573.5,140.1 573.7,140.8 573.8,140.7 574.0,140.8 574.2,141.4 574.3,139.4 574.5,136.7 574.7,140.3 574.8,140.6 575.0,137.3 575.2,137.7 575.3,142.3 575.5,140.7 575.7,140.6 575.8,139.6 576.0,138.4 576.2,136.9 576.3,138.9 576.5,137.2 576.7,136.6 576.8,137.3 577.0,137.0 577.2,138.8 577.3,135.0 577.5,140.7 577.7,134.7 577.8,135.8 578.0,138.4 578.2,134.8 578.3,135.4 578.5,136.4 578.7,132.3 578.8,135.3 579.0,134.4 579.2,135.9 579.3,137.5 579.5,137.9 579.7,139.7 579.8,139.7 580.0,139.1 580.2,137.2 580.3,139.5 580.5,135.8 580.7,137.7 580.8,140.9 581.0,139.9 581.2,135.9 581.3,137.7 581.5,140.7 581.7,140.4 581.8,141.5 582.0,136.5 582.2,137.7 582.3,139.9 582.5,138.9 582.7,141.0 582.8,141.4 583.0,142.3 583.2,141.7 583.3,143.1 583.5,143.7 583.7,142.8 583.8,140.5 584.0,144.9 584.2,142.9 584.3,143.1 584.5,142.3 584.7,138.7 584.8,142.2 585.0,139.4 585.2,137.9 585.3,142.1 585.5,138.8 585.7,139.6 585.8,140.6 586.0,142.2 586.2,138.1 586.3,140.6 586.5,143.5 586.7,143.6 586.8,143.3 587.0,145.0 587.2,144.4 587.3,143.8 587.5,141.9 587.7,139.7 587.8,139.0 588.0,137.5 588.2,136.1 588.3,136.9 588.5,138.2 588.7,139.0 588.8,143.8 589.0,145.8 589.2,147.0 589.3,144.4 589.5,144.4 589.7,141.6 589.8,137.6 590.0,136.4 590.2,131.1 590.3,132.8 590.5,130.9 590.7,130.8 590.8,135.9 591.0,138.1 591.2,141.7 591.3,143.5 591.5,147.0 591.7,147.9 591.8,146.7 592.0,142.8 592.2,142.8 592.3,140.1 592.5,136.2 592.7,131.5 592.8,127.1 593.0,125.7 593.2,124.7 593.3,125.6 593.5,127.0 593.7,127.1 593.8,128.8 594.0,133.7 594.2,136.2 594.3,142.4 594.5,142.9 594.7,146.6 594.8,147.9 595.0,146.5 595.2,146.4 595.3,142.6 595.5,138.2 595.7,133.5 595.8,130.2 596.0,127.0 596.2,118.0 596.3,118.2 596.5,113.8 596.7,110.9 596.8,111.6 597.0,112.6 597.2,114.5 597.3,118.8 597.5,119.5 597.7,127.8 597.8,130.3 598.0,132.5 598.2,135.1 598.3,140.9 598.5,143.5 598.7,146.6 598.8,147.7 599.0,148.3 599.2,145.1 599.3,142.9 599.5,137.7 599.7,133.0 599.8,130.6 600.0,123.2 600.2,118.4 600.3,113.8 600.5,111.8 600.7,110.2 600.8,108.4 601.0,107.3 601.2,111.9 601.3,112.5 601.5,116.7 601.7,121.5 601.8,125.6 602.0,126.8 602.2,135.9 602.3,138.6 602.5,143.2 602.7,146.0 602.8,145.7 603.0,147.3 603.2,148.0 603.3,147.4 603.5,144.2 603.7,141.4 603.8,139.3 604.0,132.8 604.2,129.8 604.3,126.6 604.5,120.0 604.7,117.4 604.8,111.9 605.0,105.8 605.2,105.1 605.3,104.0 605.5,103.2 605.7,104.5 605.8,107.1 606.0,109.7 606.2,113.1 606.3,116.2 606.5,121.2 606.7,125.8 606.8,130.3 607.0,137.3 607.2,137.7 607.3,143.4 607.5,144.6 607.7,147.1 607.8,148.4 608.0,146.1 608.2,144.1 608.3,136.6 608.5,130.7 608.7,122.6 608.8,115.2 609.0,105.7 609.2,96.6 609.3,88.6 609.5,82.5 609.7,72.6 609.8,65.6 610.0,59.2 610.2,54.2 610.3,50.3 610.5,51.6 610.7,57.2 610.8,57.5 611.0,70.2 611.2,75.5 611.3,83.3 611.5,93.8 611.7,105.9 611.8,114.9 612.0,123.8 612.2,133.9 612.3,141.0 612.5,142.7 612.7,147.6 612.8,147.4 613.0,144.9 613.2,141.3 613.3,137.0 613.5,127.8 613.7,118.8 613.8,112.8 614.0,101.7 614.2,91.0 614.3,86.4 614.5,75.4 614.7,65.8 614.8,59.9 615.0,58.8 615.2,60.0 615.3,64.3 615.5,68.6 615.7,73.2 615.8,78.0 616.0,91.5 616.2,99.1 616.3,106.5 616.5,115.9 616.7,127.0 616.8,134.9 617.0,141.7 617.2,144.5 617.3,149.0 617.5,146.3 617.7,144.4 617.8,140.6 618.0,133.3 618.2,121.8 618.3,114.8 618.5,105.9 618.7,94.7 618.8,80.9 619.0,77.9 619.2,61.7 619.3,59.4 619.5,52.0 619.7,51.7 619.8,52.8 620.0,58.5 620.2,59.7 620.3,70.9 620.5,82.2 620.7,89.1 620.8,100.3 621.0,110.3 621.2,118.1 621.3,127.9 621.5,136.3 621.7,142.8 621.8,147.8 622.0,148.8 622.2,146.2 622.3,142.6 622.5,136.6 622.7,128.4 622.8,125.2 623.0,115.7 623.2,102.5 623.3,97.7 623.5,94.2 623.7,83.9 623.8,78.4 624.0,73.8 624.2,69.7 624.3,69.9 624.5,75.0 624.7,84.2 624.8,92.0 625.0,103.7 625.2,115.6 625.3,123.3 625.5,132.5 625.7,138.2 625.8,142.3 626.0,146.9 626.2,145.2 626.3,143.7 626.5,139.2 626.7,133.7 626.8,133.1 627.0,123.7 627.2,121.4 627.3,115.9 627.5,112.7 627.7,109.9 627.8,106.7 628.0,99.1 628.2,103.9 628.3,98.7 628.5,105.9 628.7,107.2 628.8,110.4 629.0,116.6 629.2,120.9 629.3,128.5 629.5,135.0 629.7,139.4 629.8,142.4 630.0,145.9 630.2,146.6 630.3,147.4 630.5,144.4 630.7,140.4 630.8,136.8 631.0,131.8 631.2,127.6 631.3,123.1 631.5,119.9 631.7,116.0 631.8,111.4 632.0,109.8 632.2,106.6 632.3,107.4 632.5,106.6 632.7,111.6 632.8,115.7 633.0,124.0 633.2,123.2 633.3,129.9 633.5,133.7 633.7,136.2 633.8,141.4 634.0,143.4 634.2,143.1 634.3,142.2 634.5,142.2 634.7,138.0 634.8,137.1 635.0,132.2 635.2,129.5 635.3,124.7 635.5,124.5 635.7,120.9 635.8,121.1 636.0,118.9 636.2,118.4 636.3,120.1 636.5,124.6 636.7,129.1 636.8,131.4 637.0,138.0 637.2,138.5 637.3,141.3 637.5,142.2 637.7,141.1 637.8,142.3 638.0,139.9 638.2,137.4 638.3,132.1 638.5,130.0 638.7,126.9 638.8,126.1 639.0,120.2 639.2,122.6 639.3,123.9 639.5,122.2 639.7,123.3 639.8,128.6 640.0,129.4 640.2,133.1 640.3,134.9 640.5,137.4 640.7,137.7 640.8,136.9 641.0,140.2 641.2,138.3 641.3,138.5 641.5,135.3 641.7,135.7 641.8,130.7 642.0,129.7 642.2,127.8 642.3,124.1 642.5,123.3 642.7,122.1 642.8,120.9 643.0,125.6 643.2,123.3 643.3,124.1 643.5,127.7 643.7,130.6 643.8,132.2 644.0,133.1 644.2,133.9 644.3,132.2 644.5,135.3 644.7,136.3 644.8,132.4 645.0,130.1 645.2,132.7 645.3,130.6 645.5,127.2 645.7,128.3 645.8,126.8 646.0,127.1 646.2,131.6 646.3,130.7 646.5,129.7 646.7,130.7 646.8,133.6 647.0,130.7 647.2,133.8 647.3,132.6 647.5,134.8 647.7,134.0 647.8,132.5 648.0,134.5 648.2,133.3 648.3,134.4 648.5,130.7 648.7,130.9 648.8,129.2 649.0,131.7 649.2,128.8 649.3,129.9 649.5,131.9 649.7,131.0 649.8,130.9 650.0,131.2 650.2,131.6 650.3,132.4 650.5,131.4 650.7,129.5 650.8,134.3 651.0,131.4 651.2,135.5 651.3,133.7 651.5,136.1 651.7,135.5 651.8,134.9 652.0,135.8 652.2,133.2 652.3,135.6 652.5,135.2 652.7,136.1 652.8,134.0 653.0,134.3 653.2,137.9 653.3,137.4 653.5,137.1 653.7,137.9 653.8,137.5 654.0,138.0 654.2,139.6 654.3,138.8 654.5,140.1 654.7,138.8 654.8,137.8 655.0,139.3 655.2,140.1 655.3,139.3 655.5,140.3 655.7,140.4 655.8,142.1 656.0,142.3 656.2,142.7 656.3,141.0 656.5,142.3 656.7,143.4 656.8,142.5 657.0,142.4 657.2,141.9 657.3,143.6 657.5,143.1 657.7,144.0 657.8,143.1 658.0,145.2 658.2,143.5 658.3,142.5 658.5,143.9 658.7,144.3 658.8,145.1 659.0,143.7 659.2,143.7 659.3,144.1 659.5,144.1 659.7,142.9 659.8,145.3 660.0,145.8 660.2,144.2 660.3,144.1 660.5,145.0 660.7,144.5 660.8,146.0 661.0,144.9 661.2,146.0 661.3,144.6 661.5,144.6 661.7,144.6 661.8,144.8 662.0,146.4 662.2,146.8 662.3,146.4 662.5,146.5 662.7,145.0 662.8,147.4 663.0,145.8 663.2,147.7 663.3,148.3 663.5,147.0 663.7,147.5 663.8,147.6 664.0,146.3 664.2,146.5 664.3,146.9 664.5,147.6 664.7,148.1 664.8,147.7 665.0,148.5 665.2,147.5 665.3,147.0 665.5,148.0 665.7,148.1 665.8,147.3 666.0,148.9 666.2,147.8 666.3,148.0 666.5,148.6 666.7,148.0 666.8,149.0 667.0,149.0 667.2,149.1 667.3,148.9 667.5,148.7 667.7,148.6 667.8,149.2 668.0,149.8 668.2,149.5 668.3,149.4 668.5,149.7 668.7,149.9 668.8,148.7 669.0,149.3 669.2,149.9 669.3,149.0 669.5,149.1 669.7,149.6 669.8,149.3 670.0,149.9 670.2,149.3 670.3,149.7 670.5,150.3 670.7,150.0 670.8,148.9 671.0,149.0 671.2,149.1 671.3,149.5 671.5,148.9 671.7,149.7 671.8,150.2 672.0,150.2" fill="none" stroke="#000" stroke-opacity="0.7" stroke-width="0.45"/>
<path d="M567,149.5 L569,149.5 L569.5,149.2 L570.1,148.25 L571.3,145.77 L575.5,138.73 L576.1,137.99 L577.2,137.04 L578,136.51 L578.6,136.31 L579,136.33 L579.3,136.45 L580.1,137.19 L581.8,139.42 L583.3,142.08 L583.6,142.42 L583.9,142.59 L584.1,142.57 L584.4,142.18 L585.4,139.53 L585.7,139.01 L585.9,138.9 L586.1,139.53 L586.7,144.37 L586.9,145 L587,144.88 L587.2,144 L588,137.5 L588.2,136.62 L588.3,136.5 L588.5,137.75 L589,145.15 L589.2,146.4 L589.3,146.13 L589.5,144.24 L590.2,132.56 L590.4,130.67 L590.5,130.4 L590.6,130.79 L590.8,133.43 L591.4,145.55 L591.6,147 L591.8,146.17 L592,143.95 L592.9,128.25 L593.1,126.03 L593.3,125.2 L593.5,126.16 L593.7,128.68 L594.6,145.44 L594.8,147.25 L594.9,147.5 L595.1,146.4 L595.4,141.38 L596.4,115.88 L596.6,112.9 L596.8,111.8 L597,112.7 L597.3,116.88 L598.5,143.93 L598.7,146.4 L598.9,147.3 L599.1,146.1 L599.4,140.67 L600.4,113.02 L600.6,109.8 L600.8,108.6 L600.9,108.82 L601.1,110.43 L601.4,115.23 L602.6,143.14 L602.9,147.06 L603.1,147.9 L603.2,147.68 L603.4,146.01 L603.7,141.02 L605,108.83 L605.3,104.77 L605.5,103.9 L605.6,104.14 L605.8,105.96 L606.1,111.34 L607.3,142.65 L607.6,147.06 L607.8,148 L607.9,147.6 L608.1,144.55 L608.4,135.36 L609.8,67.14 L610.1,57.95 L610.3,54.9 L610.4,54.5 L610.6,56.34 L610.9,64.98 L612.2,133.39 L612.5,143.98 L612.7,147.53 L612.8,148 L613,146.11 L613.3,137.26 L614.5,74.34 L614.8,63.53 L615,59.89 L615.1,59.4 L615.2,59.89 L615.4,63.53 L615.7,74.34 L616.9,137.26 L617.2,146.11 L617.4,148 L617.5,147.48 L617.7,143.57 L618,131.96 L619.2,64.43 L619.5,54.93 L619.7,52.9 L619.8,53.42 L620,57.32 L620.3,68.91 L621.5,136.3 L621.8,145.77 L622,147.8 L622.2,146.03 L622.5,137.79 L623.7,81.71 L624,73.47 L624.2,71.7 L624.4,74.22 L624.6,80.99 L625.6,136.01 L625.8,142.78 L626,145.3 L626.2,144.29 L626.5,139.61 L627.7,107.69 L628,103.01 L628.2,102 L628.4,103.24 L628.7,108.92 L629.8,141.69 L630,145.06 L630.2,146.3 L630.4,145.23 L630.7,140.32 L631.8,111.98 L632,109.07 L632.2,108 L632.4,109.02 L632.7,113.69 L633.8,140.61 L634,143.38 L634.2,144.4 L634.4,143.41 L634.6,140.77 L635.5,122.13 L635.7,119.49 L635.9,118.5 L636.1,119.41 L636.3,121.85 L637.2,139.05 L637.4,141.49 L637.6,142.4 L637.8,141.5 L638,139.13 L638.7,126.35 L639.1,121.73 L639.2,121.5 L639.3,121.66 L639.5,122.83 L640.6,137.23 L640.8,138.88 L641,139.5 L641.2,138.83 L641.4,137.05 L642.3,124.45 L642.5,122.67 L642.7,122 L642.9,122.55 L643.1,123.98 L644,133.53 L644.2,134.56 L644.3,134.7 L644.5,134.47 L644.7,133.86 L645.5,129.95 L645.9,128.76 L646.1,128.76 L646.3,129.16 L647.2,132.92 L647.4,133.49 L647.6,133.7 L647.8,133.51 L648,133.02 L648.8,130.21 L649,129.85 L649.3,129.86 L649.6,130.13 L650,130.76 L654,138.5 L655.9,141.27 L656.7,142.2 L657.5,142.95 L659.1,144.18 L662.3,146.26 L664,147.24 L666.8,148.66 L668.4,149.18 L670.4,149.43 L672,149.5" fill="none" stroke="#000" stroke-opacity="0.85" stroke-width="0.9" stroke-linejoin="round"/>
</g>
<path d="M545.5,149.6 H567.5 M671.5,149.6 H684.5" stroke="#4a4a4a" stroke-width="1.3"/>
<rect x="31.5" y="49.5" width="139" height="100" fill="none" stroke="#b8b8b8" stroke-width="1.0"/>
<line x1="57.56" y1="149.5" x2="57.56" y2="148.1" stroke="#777" stroke-width="0.8"/>
<line x1="57.56" y1="49.5" x2="57.56" y2="50.9" stroke="#777" stroke-width="0.8"/>
<line x1="101" y1="149.5" x2="101" y2="148.1" stroke="#777" stroke-width="0.8"/>
<line x1="101" y1="49.5" x2="101" y2="50.9" stroke="#777" stroke-width="0.8"/>
<line x1="144.44" y1="149.5" x2="144.44" y2="148.1" stroke="#777" stroke-width="0.8"/>
<line x1="144.44" y1="49.5" x2="144.44" y2="50.9" stroke="#777" stroke-width="0.8"/>
<line x1="31.5" y1="99.5" x2="32.9" y2="99.5" stroke="#777" stroke-width="0.8"/>
<line x1="170.5" y1="99.5" x2="169.1" y2="99.5" stroke="#777" stroke-width="0.8"/>
<rect x="202.5" y="50.5" width="138" height="99" fill="none" stroke="#b8b8b8" stroke-width="1.0"/>
<line x1="228.38" y1="149.5" x2="228.38" y2="148.1" stroke="#777" stroke-width="0.8"/>
<line x1="228.38" y1="50.5" x2="228.38" y2="51.9" stroke="#777" stroke-width="0.8"/>
<line x1="271.5" y1="149.5" x2="271.5" y2="148.1" stroke="#777" stroke-width="0.8"/>
<line x1="271.5" y1="50.5" x2="271.5" y2="51.9" stroke="#777" stroke-width="0.8"/>
<line x1="314.62" y1="149.5" x2="314.62" y2="148.1" stroke="#777" stroke-width="0.8"/>
<line x1="314.62" y1="50.5" x2="314.62" y2="51.9" stroke="#777" stroke-width="0.8"/>
<line x1="202.5" y1="100" x2="203.9" y2="100" stroke="#777" stroke-width="0.8"/>
<line x1="340.5" y1="100" x2="339.1" y2="100" stroke="#777" stroke-width="0.8"/>
<rect x="376.5" y="50.5" width="139" height="100" fill="none" stroke="#b8b8b8" stroke-width="1.0"/>
<line x1="402.66" y1="150.5" x2="402.66" y2="149.1" stroke="#777" stroke-width="0.8"/>
<line x1="402.66" y1="50.5" x2="402.66" y2="51.9" stroke="#777" stroke-width="0.8"/>
<line x1="446.1" y1="150.5" x2="446.1" y2="149.1" stroke="#777" stroke-width="0.8"/>
<line x1="446.1" y1="50.5" x2="446.1" y2="51.9" stroke="#777" stroke-width="0.8"/>
<line x1="489.54" y1="150.5" x2="489.54" y2="149.1" stroke="#777" stroke-width="0.8"/>
<line x1="489.54" y1="50.5" x2="489.54" y2="51.9" stroke="#777" stroke-width="0.8"/>
<line x1="376.5" y1="100.5" x2="377.9" y2="100.5" stroke="#777" stroke-width="0.8"/>
<line x1="515.5" y1="100.5" x2="514.1" y2="100.5" stroke="#777" stroke-width="0.8"/>
<rect x="545.5" y="50.5" width="139" height="99" fill="none" stroke="#b8b8b8" stroke-width="1.0"/>
<line x1="571.56" y1="149.5" x2="571.56" y2="148.1" stroke="#777" stroke-width="0.8"/>
<line x1="571.56" y1="50.5" x2="571.56" y2="51.9" stroke="#777" stroke-width="0.8"/>
<line x1="615" y1="149.5" x2="615" y2="148.1" stroke="#777" stroke-width="0.8"/>
<line x1="615" y1="50.5" x2="615" y2="51.9" stroke="#777" stroke-width="0.8"/>
<line x1="658.44" y1="149.5" x2="658.44" y2="148.1" stroke="#777" stroke-width="0.8"/>
<line x1="658.44" y1="50.5" x2="658.44" y2="51.9" stroke="#777" stroke-width="0.8"/>
<line x1="545.5" y1="100" x2="546.9" y2="100" stroke="#777" stroke-width="0.8"/>
<line x1="684.5" y1="100" x2="683.1" y2="100" stroke="#777" stroke-width="0.8"/>
<path d="M33.3,288.3 L41,288.29 L41.45,288.16 L41.95,287.87 L42.5,287.43 L43.15,286.78 L43.8,285.97 L44.4,284.68 L45.65,281.3 L47,277.08 L47.8,275.17 L48.45,273.87 L49.1,272.76 L49.85,271.67 L50.7,270.59 L53.1,267.94 L55.2,265.84 L56.7,264.47 L59.6,262.08 L62.15,259.73 L63.1,258.67 L64,257.06 L64.35,256.61 L64.55,256.5 L64.75,256.56 L65.55,257.65 L65.7,257.77 L65.85,257.77 L66.1,256.97 L66.7,253.33 L66.95,252.53 L67,252.5 L67.1,252.58 L67.3,253.11 L68.05,256.56 L68.2,256.92 L68.3,257 L68.35,256.97 L68.6,255.99 L69.25,250.84 L69.4,249.98 L69.55,249.53 L69.65,249.53 L69.75,249.74 L69.95,250.67 L70.8,257.12 L71,257.89 L71.1,258 L71.15,257.96 L71.3,257.34 L71.5,255.63 L72.25,246.36 L72.45,244.88 L72.6,244.5 L72.75,244.87 L72.95,246.34 L73.8,257.16 L74,258.86 L74.1,259.33 L74.2,259.5 L74.35,258.75 L74.5,256.74 L75.25,239.76 L75.45,236.85 L75.6,236.1 L75.75,236.68 L75.95,239 L76.9,258.8 L77.1,261.49 L77.2,262.24 L77.3,262.5 L77.45,261.65 L77.65,258.27 L78.5,233.39 L78.7,229.48 L78.8,228.39 L78.9,228 L79.05,228.84 L79.25,232.17 L80.2,260.68 L80.4,264.55 L80.5,265.62 L80.6,266 L80.75,264.66 L80.9,261.03 L81.75,224.79 L81.95,219.54 L82.1,218.2 L82.2,218.61 L82.3,219.79 L82.5,224.06 L83.55,262.23 L83.8,267.91 L83.9,269.09 L84,269.5 L84.1,269.13 L84.2,268.06 L84.45,262.79 L85.65,217.27 L85.95,209.82 L86.1,207.97 L86.2,207.6 L86.3,208.03 L86.4,209.28 L86.65,215.39 L87.8,264.16 L88.05,271.02 L88.2,273.17 L88.3,273.6 L88.4,273.19 L88.55,271.19 L88.9,261.72 L89.6,236.37 L90.3,207.18 L90.6,201.94 L91,197.58 L91.15,196.69 L91.5,195.61 L91.85,194.88 L92.15,194.61 L99.6,194.5 L107.05,194.61 L107.35,194.88 L107.7,195.61 L108.05,196.69 L108.2,197.58 L108.6,201.94 L108.9,207.18 L109.6,236.37 L110.3,261.72 L110.65,271.19 L110.8,273.19 L110.9,273.6 L111,273.17 L111.1,271.92 L111.35,265.81 L112.5,217.04 L112.75,210.18 L112.9,208.03 L113,207.6 L113.1,207.97 L113.2,209.04 L113.45,214.31 L114.65,259.83 L114.95,267.28 L115.1,269.13 L115.2,269.5 L115.3,269.09 L115.4,267.91 L115.6,263.64 L116.65,225.47 L116.9,219.79 L117,218.61 L117.1,218.2 L117.25,219.54 L117.4,223.17 L118.25,259.41 L118.45,264.66 L118.6,266 L118.75,265.16 L118.95,261.83 L119.9,233.32 L120.1,229.45 L120.2,228.38 L120.3,228 L120.45,228.85 L120.65,232.23 L121.5,257.11 L121.7,261.02 L121.8,262.11 L121.9,262.5 L122.05,261.92 L122.25,259.6 L123.2,239.8 L123.4,237.11 L123.5,236.36 L123.6,236.1 L123.75,236.85 L123.9,238.86 L124.65,255.84 L124.85,258.75 L125,259.5 L125.15,259.13 L125.35,257.66 L126.2,246.84 L126.4,245.14 L126.5,244.67 L126.6,244.5 L126.75,244.88 L126.95,246.36 L127.7,255.63 L127.9,257.34 L128.05,257.96 L128.1,258 L128.2,257.89 L128.4,257.12 L129.25,250.67 L129.45,249.74 L129.55,249.53 L129.65,249.53 L129.9,250.51 L130.55,255.66 L130.7,256.52 L130.85,256.97 L130.9,257 L131,256.92 L131.15,256.56 L131.9,253.11 L132.1,252.58 L132.2,252.5 L132.25,252.53 L132.5,253.33 L133.1,256.97 L133.35,257.77 L133.5,257.77 L133.65,257.65 L134.45,256.56 L134.65,256.5 L134.85,256.61 L135.2,257.06 L136.1,258.67 L137.05,259.73 L139.6,262.08 L142.5,264.47 L144,265.84 L146.1,267.94 L148.5,270.59 L149.35,271.67 L150.1,272.76 L150.75,273.87 L151.4,275.17 L152.2,277.08 L153.55,281.3 L154.8,284.68 L155.4,285.97 L156.05,286.78 L156.7,287.43 L157.25,287.87 L157.75,288.16 L158.2,288.29 L165.9,288.3" fill="none" stroke="#3a3a3a" stroke-width="0.85" stroke-linejoin="round"/>
<path d="M33.3,287.47 L34.55,286.65 L35.55,285.66 L36.55,284.34 L37.8,282.2 L38.8,280.11 L39.8,277.75 L44.8,264.39 L46.05,261.32 L47.3,258.54 L48.8,255.64 L50.3,253.23 L51.8,251.28 L53.3,249.73 L55.05,248.37 L57.05,247.26 L59.3,246.45 L61.8,245.91 L64.55,245.59 L68.05,245.4 L80.3,245.3 L123.05,245.31 L131.55,245.41 L135.3,245.65 L138.05,246.02 L140.55,246.65 L142.55,247.45 L144.55,248.64 L145.55,249.42 L146.55,250.35 L148.3,252.39 L150.05,255.03 L151.8,258.33 L153.55,262.27 L155.05,266.08 L159.05,276.87 L160.05,279.31 L161.05,281.5 L162.3,283.8 L163.3,285.24 L164.55,286.56 L165.8,287.42" fill="none" stroke="#2b90d9" stroke-width="1"/>
<line x1="65.5" y1="192" x2="65.5" y2="288.5" stroke="#f3a886" stroke-width="1.25" stroke-dasharray="3 2.1" stroke-dashoffset="0"/>
<line x1="133.6" y1="192" x2="133.6" y2="288.5" stroke="#f3a886" stroke-width="1.25" stroke-dasharray="3 2.1" stroke-dashoffset="0"/>
<line x1="92.4" y1="192" x2="92.4" y2="288.5" stroke="#cc9ad8" stroke-width="1.25" stroke-dasharray="3 2.1" stroke-dashoffset="0"/>
<line x1="107" y1="192" x2="107" y2="288.5" stroke="#cc9ad8" stroke-width="1.25" stroke-dasharray="3 2.1" stroke-dashoffset="0"/>
<line x1="33.3" y1="194.4" x2="165.9" y2="194.4" stroke="#8cc864" stroke-width="1.1" stroke-dasharray="2.8 2.1" stroke-dashoffset="-0.6"/>
<path d="M204.4,288.4 L215.5,288.39 L216.05,288.29 L216.6,288.09 L218.05,287.27 L218.5,286.83 L219,286.11 L220.8,282.74 L223.35,278.53 L224.95,276.21 L226.5,274.2 L228.35,272.08 L230.15,270.29 L232.1,268.62 L234.7,266.8 L235.9,265.47 L236.15,265.33 L236.4,265.32 L237.1,265.93 L237.25,265.99 L237.4,265.97 L237.65,265.66 L238.3,264.36 L238.45,264.17 L238.6,264.1 L238.85,264.26 L239.5,265.2 L239.65,265.29 L239.75,265.28 L240,264.81 L240.55,262.95 L240.7,262.66 L240.8,262.6 L240.9,262.65 L241.05,262.89 L241.7,264.61 L241.85,264.79 L241.95,264.78 L242.1,264.57 L242.25,264.16 L243,261.18 L243.15,260.83 L243.3,260.7 L243.5,260.85 L243.75,261.37 L244.75,264.58 L244.95,264.92 L245.15,264.98 L245.35,264.58 L245.55,263.75 L246.5,258.01 L246.7,257.27 L246.85,257.02 L246.95,257.03 L247.05,257.28 L247.25,258.38 L248.1,265.96 L248.3,266.87 L248.4,267 L248.45,266.96 L248.65,266.17 L248.85,264.54 L249.75,254.36 L249.95,253.11 L250.1,252.8 L250.2,252.94 L250.3,253.35 L250.55,255.32 L251.6,268.57 L251.8,270.05 L251.9,270.46 L252,270.6 L252.1,270.36 L252.2,269.67 L252.45,266.37 L253.4,246.92 L253.6,244.43 L253.7,243.74 L253.8,243.5 L253.9,243.74 L254.05,244.9 L254.3,248.58 L255.4,272.62 L255.6,275.09 L255.7,275.76 L255.8,276 L255.9,275.68 L256.05,274.07 L256.3,269 L257.4,235.86 L257.6,232.45 L257.7,231.52 L257.8,231.2 L257.9,231.48 L258.05,232.87 L258.35,238.53 L259.6,275.84 L259.85,280.33 L260,281.72 L260.1,282 L260.25,281.26 L260.4,279.19 L260.7,271.77 L262,223.84 L262.25,218.48 L262.4,216.83 L262.5,216.5 L262.65,217.17 L262.8,219.07 L263.15,227.39 L264.2,266.93 L264.55,278.16 L264.85,284.39 L265,285.9 L265.1,286.2 L265.2,282.28 L265.45,258.28 L265.6,250.29 L266.65,214.14 L266.9,207.5 L267.1,204.97 L267.45,201.95 L267.8,199.73 L268.15,198.14 L268.75,196.32 L269.45,194.67 L269.95,193.89 L270.2,193.68 L270.45,193.6 L270.7,193.68 L270.95,193.89 L271.45,194.67 L272.15,196.32 L272.75,198.14 L273.1,199.73 L273.45,201.95 L273.8,204.97 L274,207.5 L274.25,214.14 L275.3,250.29 L275.45,258.28 L275.7,282.28 L275.8,286.2 L275.95,285.53 L276.1,283.63 L276.45,275.31 L277.5,235.77 L277.85,224.54 L278.15,218.31 L278.3,216.8 L278.4,216.5 L278.55,217.24 L278.7,219.31 L279,226.73 L280.3,274.66 L280.55,280.02 L280.7,281.67 L280.8,282 L280.9,281.72 L281.05,280.33 L281.35,274.67 L282.6,237.36 L282.85,232.87 L283,231.48 L283.1,231.2 L283.2,231.52 L283.35,233.13 L283.6,238.2 L284.7,271.34 L284.9,274.75 L285,275.68 L285.1,276 L285.2,275.76 L285.35,274.6 L285.6,270.92 L286.7,246.88 L286.9,244.41 L287,243.74 L287.1,243.5 L287.2,243.74 L287.3,244.43 L287.55,247.73 L288.5,267.18 L288.7,269.67 L288.8,270.36 L288.9,270.6 L289,270.46 L289.1,270.05 L289.35,268.08 L290.4,254.83 L290.6,253.35 L290.7,252.94 L290.8,252.8 L290.95,253.11 L291.15,254.36 L292.05,264.54 L292.25,266.17 L292.45,266.96 L292.5,267 L292.6,266.87 L292.8,265.96 L293.65,258.38 L293.85,257.28 L293.95,257.03 L294.05,257.02 L294.25,257.42 L294.45,258.25 L295.4,263.99 L295.6,264.73 L295.75,264.98 L295.95,264.92 L296.15,264.58 L297.15,261.37 L297.4,260.85 L297.6,260.7 L297.75,260.83 L297.9,261.18 L298.65,264.16 L298.8,264.57 L298.95,264.78 L299.05,264.79 L299.2,264.61 L299.85,262.89 L300,262.65 L300.1,262.6 L300.2,262.66 L300.35,262.95 L300.9,264.81 L301.15,265.28 L301.25,265.29 L301.4,265.2 L302.05,264.26 L302.3,264.1 L302.45,264.17 L302.6,264.36 L303.25,265.66 L303.5,265.97 L303.65,265.99 L303.8,265.93 L304.5,265.32 L304.75,265.33 L305,265.47 L306.2,266.8 L308.8,268.62 L310.75,270.29 L312.55,272.08 L314.4,274.2 L315.95,276.21 L317.55,278.53 L320.1,282.74 L321.9,286.11 L322.4,286.83 L322.85,287.27 L324.3,288.09 L324.85,288.29 L325.4,288.39 L336.5,288.4" fill="none" stroke="#3a3a3a" stroke-width="0.85" stroke-linejoin="round"/>
<path d="M204.4,288.06 L205.65,287.59 L206.65,286.97 L207.65,286.06 L208.9,284.52 L209.9,282.97 L210.9,281.2 L214.4,274.28 L215.9,271.49 L217.65,268.67 L219.15,266.68 L220.65,265.08 L222.4,263.67 L224.4,262.53 L226.4,261.78 L228.4,261.3 L230.65,260.98 L233.4,260.77 L237.15,260.65 L294.9,260.6 L305.15,260.68 L308.15,260.8 L310.65,261.02 L312.9,261.38 L314.9,261.91 L316.65,262.6 L318.15,263.44 L319.65,264.55 L320.9,265.73 L322.4,267.49 L323.65,269.27 L325.9,273.13 L330.4,281.93 L331.4,283.62 L332.4,285.06 L333.4,286.22 L334.4,287.08 L335.65,287.78 L336.9,288.15" fill="none" stroke="#2b90d9" stroke-width="1"/>
<line x1="244.4" y1="191.9" x2="244.4" y2="288.7" stroke="#f3a886" stroke-width="1.25" stroke-dasharray="3 2.1" stroke-dashoffset="0"/>
<line x1="297.1" y1="191.9" x2="297.1" y2="288.7" stroke="#f3a886" stroke-width="1.25" stroke-dasharray="3 2.1" stroke-dashoffset="0"/>
<line x1="269.1" y1="191.9" x2="269.1" y2="288.7" stroke="#cc9ad8" stroke-width="1.25" stroke-dasharray="3 2.1" stroke-dashoffset="0"/>
<line x1="272.2" y1="191.9" x2="272.2" y2="288.7" stroke="#cc9ad8" stroke-width="1.25" stroke-dasharray="3 2.1" stroke-dashoffset="0"/>
<line x1="204.4" y1="194.5" x2="337.1" y2="194.5" stroke="#8cc864" stroke-width="1.1" stroke-dasharray="2.8 2.1" stroke-dashoffset="-0.6"/>
<path d="M380.1,287.5 L391.65,287.5 L392.9,287.33 L393.6,287.17 L394,287.01 L394.8,286.51 L396.85,284.9 L398.85,283.18 L401.3,280.68 L405,276.59 L406.2,275.47 L407.25,274.64 L408.4,273.83 L412.15,271.64 L413.85,270.76 L414.75,270.38 L418.15,269.61 L418.35,269.61 L418.55,269.74 L419.3,270.81 L419.5,270.98 L419.65,270.99 L419.85,270.84 L420.05,270.52 L420.95,268.51 L421.15,268.26 L421.3,268.2 L421.45,268.29 L421.65,268.66 L422.5,271.16 L422.7,271.46 L422.85,271.48 L423,271.23 L423.2,270.54 L423.95,266.76 L424.15,266.15 L424.3,266 L424.5,266.26 L424.7,266.95 L425.65,272.05 L425.85,272.65 L425.95,272.78 L426.05,272.78 L426.25,272.27 L426.45,271.24 L427.4,264.06 L427.6,263.14 L427.7,262.89 L427.8,262.8 L427.95,263.17 L428.15,264.62 L429,274.63 L429.15,275.63 L429.3,276 L429.4,275.83 L429.5,275.35 L429.75,273.03 L430.7,259.4 L430.9,257.65 L431,257.17 L431.1,257 L431.25,257.27 L431.4,258.03 L431.7,260.75 L433,278.31 L433.25,280.27 L433.4,280.88 L433.5,281 L433.6,280.73 L433.75,279.4 L434,275.17 L435.1,247.58 L435.3,244.74 L435.4,243.97 L435.5,243.7 L435.6,243.98 L435.75,245.36 L436,249.75 L437.15,281.01 L437.4,284.92 L437.5,285.72 L437.6,286 L437.75,285.28 L437.9,283.26 L438.2,276.05 L439.5,229.44 L439.75,224.23 L439.9,222.62 L440,222.3 L440.15,223.03 L440.3,225.08 L440.6,232.41 L441.9,279.75 L442.15,285.04 L442.3,286.67 L442.4,287 L442.55,285.4 L442.7,281.17 L443.75,237.42 L444.35,216.35 L444.65,207.84 L445,202.24 L445.4,198.19 L445.6,197 L446,195.41 L446.25,194.75 L446.4,194.54 L446.5,194.5 L446.6,194.54 L446.75,194.75 L447,195.41 L447.4,197 L447.6,198.19 L448,202.24 L448.35,207.84 L448.65,216.35 L449.25,237.42 L450.3,281.17 L450.45,285.4 L450.6,287 L450.75,286.27 L450.9,284.22 L451.2,276.89 L452.5,229.55 L452.75,224.26 L452.9,222.63 L453,222.3 L453.15,223.02 L453.3,225.04 L453.6,232.25 L454.9,278.86 L455.15,284.07 L455.3,285.68 L455.4,286 L455.5,285.72 L455.65,284.34 L455.9,279.95 L457.05,248.69 L457.3,244.78 L457.4,243.98 L457.5,243.7 L457.6,243.97 L457.75,245.3 L458,249.53 L459.1,277.12 L459.3,279.96 L459.4,280.73 L459.5,281 L459.65,280.73 L459.8,279.97 L460.1,277.25 L461.4,259.69 L461.65,257.73 L461.8,257.12 L461.9,257 L462,257.17 L462.1,257.65 L462.35,259.97 L463.3,273.6 L463.5,275.35 L463.6,275.83 L463.7,276 L463.85,275.63 L464.05,274.18 L464.9,264.17 L465.05,263.17 L465.2,262.8 L465.3,262.89 L465.4,263.14 L465.6,264.06 L466.55,271.24 L466.75,272.27 L466.95,272.78 L467.05,272.78 L467.15,272.65 L467.35,272.05 L468.3,266.95 L468.5,266.26 L468.7,266 L468.85,266.15 L469.05,266.76 L469.8,270.54 L470,271.23 L470.15,271.48 L470.3,271.46 L470.5,271.16 L471.35,268.66 L471.55,268.29 L471.7,268.2 L471.85,268.26 L472.05,268.51 L472.95,270.52 L473.15,270.84 L473.35,270.99 L473.5,270.98 L473.7,270.81 L474.45,269.74 L474.65,269.61 L474.85,269.61 L478.25,270.38 L479.15,270.76 L480.85,271.64 L484.6,273.83 L485.75,274.64 L486.8,275.47 L488,276.59 L491.7,280.68 L494.15,283.18 L496.15,284.9 L498.2,286.51 L499,287.01 L499.4,287.17 L500.1,287.33 L501.35,287.5 L512.9,287.5" fill="none" stroke="#3a3a3a" stroke-width="0.85" stroke-linejoin="round"/>
<path d="M380.1,287.2 L381.1,286.93 L382.1,286.5 L383.1,285.88 L384.1,285.07 L385.1,284.08 L386.1,282.94 L390.35,277.46 L392.6,274.92 L393.85,273.76 L395.1,272.77 L396.35,271.96 L397.6,271.31 L399.1,270.7 L400.85,270.19 L402.6,269.84 L404.85,269.55 L410.1,269.27 L419.6,269.2 L480.1,269.23 L486.6,269.43 L489.1,269.65 L491.1,269.96 L493.1,270.44 L495.1,271.17 L496.85,272.08 L498.6,273.3 L500.1,274.62 L501.85,276.5 L506.6,282.57 L508.35,284.55 L509.35,285.46 L510.35,286.18 L511.35,286.71 L512.35,287.07" fill="none" stroke="#2b90d9" stroke-width="1"/>
<line x1="424.5" y1="190.9" x2="424.5" y2="287.8" stroke="#f3a886" stroke-width="1.25" stroke-dasharray="3 2.1" stroke-dashoffset="0"/>
<line x1="468.5" y1="190.9" x2="468.5" y2="287.8" stroke="#f3a886" stroke-width="1.25" stroke-dasharray="3 2.1" stroke-dashoffset="0"/>
<line x1="442" y1="190.9" x2="442" y2="287.8" stroke="#d2a8dc" stroke-width="1.25" stroke-dasharray="3 2.1" stroke-dashoffset="0"/>
<line x1="450.6" y1="190.9" x2="450.6" y2="287.8" stroke="#c490d2" stroke-width="1.25" stroke-dasharray="3 2.1" stroke-dashoffset="0"/>
<path d="M549.6,287.2 L562.85,287.2 L563.4,287.11 L564,286.87 L565.1,286.24 L565.6,285.79 L570.85,279.35 L572.85,277.04 L575.55,274.27 L576.55,273.37 L577.5,272.62 L579.4,271.36 L580.7,270.61 L581.7,270.12 L583.5,269.48 L586.85,268.54 L587.5,268.42 L587.95,268.43 L588.25,268.63 L589.05,269.45 L589.25,269.57 L589.45,269.59 L589.75,269.28 L590.6,267.41 L590.8,267.11 L590.95,267.01 L591.15,267.08 L591.35,267.4 L592.3,270 L592.5,270.26 L592.65,270.29 L592.85,270.05 L593.05,269.57 L593.95,266.56 L594.2,266.14 L594.3,266.1 L594.4,266.16 L594.55,266.45 L594.75,267.12 L595.6,271.17 L595.8,271.77 L596,272 L596.15,271.75 L596.35,270.77 L597.2,263.56 L597.4,262.43 L597.5,262.11 L597.6,262 L597.7,262.1 L597.8,262.37 L598,263.38 L599.1,273.22 L599.35,274.73 L599.5,275.2 L599.6,275.3 L599.7,275.17 L599.8,274.82 L600.05,273.05 L601.25,257.75 L601.55,255.24 L601.7,254.63 L601.8,254.5 L601.9,254.63 L602.05,255.27 L602.35,257.91 L603.7,278.01 L604,280.91 L604.15,281.71 L604.3,282 L604.4,281.67 L604.5,280.71 L604.7,277.23 L605.8,243.27 L606.05,238.07 L606.2,236.43 L606.3,236.1 L606.4,236.41 L606.5,237.29 L606.75,241.62 L607.95,279.05 L608.25,285.18 L608.4,286.69 L608.5,287 L608.6,286.55 L608.75,284.32 L609,277.09 L610.3,212.41 L610.6,202.4 L610.75,199.59 L610.9,198.6 L611,199.01 L611.15,201.03 L611.45,209.34 L612.8,272.72 L613.1,281.85 L613.25,284.4 L613.4,285.3 L613.55,284.58 L613.7,282.53 L614,275.04 L614.4,259.83 L615.6,206.2 L615.95,196.32 L616.15,193.32 L616.3,192.6 L616.45,193.32 L616.6,195.37 L616.9,202.86 L617.3,218.07 L618.5,271.7 L618.85,281.58 L619.05,284.58 L619.2,285.3 L619.3,284.89 L619.45,282.87 L619.75,274.56 L621.1,211.18 L621.4,202.05 L621.55,199.5 L621.7,198.6 L621.8,199.05 L621.95,201.28 L622.2,208.51 L623.5,273.19 L623.8,283.2 L623.95,286.01 L624.1,287 L624.2,286.69 L624.3,285.81 L624.55,281.48 L625.75,244.05 L626.05,237.92 L626.2,236.41 L626.3,236.1 L626.4,236.43 L626.5,237.39 L626.7,240.87 L627.8,274.83 L628.05,280.03 L628.2,281.67 L628.3,282 L628.4,281.87 L628.55,281.23 L628.85,278.59 L630.2,258.49 L630.5,255.59 L630.65,254.79 L630.8,254.5 L630.9,254.63 L631,254.98 L631.25,256.75 L632.45,272.05 L632.75,274.56 L632.9,275.17 L633,275.3 L633.1,275.2 L633.2,274.93 L633.4,273.92 L634.5,264.08 L634.75,262.57 L634.9,262.1 L635,262 L635.15,262.25 L635.35,263.23 L636.2,270.44 L636.4,271.57 L636.5,271.89 L636.6,272 L636.8,271.77 L637,271.17 L637.85,267.12 L638.05,266.45 L638.2,266.16 L638.3,266.1 L638.4,266.14 L638.65,266.56 L639.55,269.57 L639.75,270.05 L639.95,270.29 L640.1,270.26 L640.3,270 L641.25,267.4 L641.45,267.08 L641.65,267.01 L641.95,267.32 L642.8,269.19 L643,269.49 L643.15,269.59 L643.35,269.57 L643.55,269.45 L644.35,268.63 L644.65,268.43 L645.1,268.42 L645.75,268.54 L649.1,269.48 L650.9,270.12 L651.9,270.61 L653.2,271.36 L655.1,272.62 L656.05,273.37 L657.05,274.27 L659.75,277.04 L661.75,279.35 L667,285.79 L667.5,286.24 L668.6,286.87 L669.2,287.11 L669.75,287.2 L683,287.2" fill="none" stroke="#3a3a3a" stroke-width="0.85" stroke-linejoin="round"/>
<path d="M549.6,286.98 L550.85,286.68 L551.85,286.29 L553.1,285.56 L554.1,284.76 L555.1,283.78 L556.35,282.34 L560.6,276.74 L562.85,274.11 L564.1,272.88 L565.35,271.83 L566.6,270.95 L568.1,270.11 L569.6,269.46 L571.35,268.91 L573.35,268.48 L575.35,268.21 L577.6,268.02 L580.6,267.89 L589.35,267.8 L649.35,267.83 L655.85,268.05 L658.35,268.29 L660.35,268.61 L662.6,269.19 L664.6,269.96 L666.35,270.92 L668.1,272.18 L669.6,273.54 L671.35,275.45 L672.85,277.32 L676.35,281.96 L678.1,283.99 L679.1,284.93 L680.1,285.69 L681.1,286.27 L682.35,286.74" fill="none" stroke="#2b90d9" stroke-width="1"/>
<line x1="597.8" y1="190.9" x2="597.8" y2="287.4" stroke="#f8cdb8" stroke-width="1.25" stroke-dasharray="3 2.1" stroke-dashoffset="0"/>
<line x1="634.5" y1="190.9" x2="634.5" y2="287.4" stroke="#f19a70" stroke-width="1.25" stroke-dasharray="3 2.1" stroke-dashoffset="0"/>
<line x1="607.7" y1="190.9" x2="607.7" y2="287.4" stroke="#dcbce4" stroke-width="1.25" stroke-dasharray="3 2.1" stroke-dashoffset="0"/>
<line x1="624.5" y1="190.9" x2="624.5" y2="287.4" stroke="#b378c6" stroke-width="1.25" stroke-dasharray="3 2.1" stroke-dashoffset="0"/>
<rect x="33.3" y="190.5" width="132.6" height="98" fill="none" stroke="#a8a8a8" stroke-width="1.0"/>
<line x1="55.55" y1="288.5" x2="55.55" y2="287.1" stroke="#777" stroke-width="0.8"/>
<line x1="55.55" y1="190.5" x2="55.55" y2="191.9" stroke="#777" stroke-width="0.8"/>
<line x1="99.6" y1="288.5" x2="99.6" y2="287.1" stroke="#777" stroke-width="0.8"/>
<line x1="99.6" y1="190.5" x2="99.6" y2="191.9" stroke="#777" stroke-width="0.8"/>
<line x1="143.65" y1="288.5" x2="143.65" y2="287.1" stroke="#777" stroke-width="0.8"/>
<line x1="143.65" y1="190.5" x2="143.65" y2="191.9" stroke="#777" stroke-width="0.8"/>
<line x1="33.3" y1="194" x2="34.7" y2="194" stroke="#777" stroke-width="0.8"/>
<line x1="165.9" y1="194" x2="164.5" y2="194" stroke="#777" stroke-width="0.8"/>
<line x1="33.3" y1="239.4" x2="34.7" y2="239.4" stroke="#777" stroke-width="0.8"/>
<line x1="165.9" y1="239.4" x2="164.5" y2="239.4" stroke="#777" stroke-width="0.8"/>
<rect x="204.4" y="190.4" width="132.7" height="98.3" fill="none" stroke="#a8a8a8" stroke-width="1.0"/>
<line x1="226.4" y1="288.7" x2="226.4" y2="287.3" stroke="#777" stroke-width="0.8"/>
<line x1="226.4" y1="190.4" x2="226.4" y2="191.8" stroke="#777" stroke-width="0.8"/>
<line x1="270.45" y1="288.7" x2="270.45" y2="287.3" stroke="#777" stroke-width="0.8"/>
<line x1="270.45" y1="190.4" x2="270.45" y2="191.8" stroke="#777" stroke-width="0.8"/>
<line x1="314.5" y1="288.7" x2="314.5" y2="287.3" stroke="#777" stroke-width="0.8"/>
<line x1="314.5" y1="190.4" x2="314.5" y2="191.8" stroke="#777" stroke-width="0.8"/>
<line x1="204.4" y1="210.1" x2="205.8" y2="210.1" stroke="#777" stroke-width="0.8"/>
<line x1="337.1" y1="210.1" x2="335.7" y2="210.1" stroke="#777" stroke-width="0.8"/>
<line x1="204.4" y1="249.5" x2="205.8" y2="249.5" stroke="#777" stroke-width="0.8"/>
<line x1="337.1" y1="249.5" x2="335.7" y2="249.5" stroke="#777" stroke-width="0.8"/>
<rect x="380.1" y="189.4" width="132.4" height="98.4" fill="none" stroke="#a8a8a8" stroke-width="1.0"/>
<line x1="402.45" y1="287.8" x2="402.45" y2="286.4" stroke="#777" stroke-width="0.8"/>
<line x1="402.45" y1="189.4" x2="402.45" y2="190.8" stroke="#777" stroke-width="0.8"/>
<line x1="446.5" y1="287.8" x2="446.5" y2="286.4" stroke="#777" stroke-width="0.8"/>
<line x1="446.5" y1="189.4" x2="446.5" y2="190.8" stroke="#777" stroke-width="0.8"/>
<line x1="490.55" y1="287.8" x2="490.55" y2="286.4" stroke="#777" stroke-width="0.8"/>
<line x1="490.55" y1="189.4" x2="490.55" y2="190.8" stroke="#777" stroke-width="0.8"/>
<line x1="380.1" y1="217.4" x2="381.5" y2="217.4" stroke="#777" stroke-width="0.8"/>
<line x1="512.5" y1="217.4" x2="511.1" y2="217.4" stroke="#777" stroke-width="0.8"/>
<line x1="380.1" y1="252.6" x2="381.5" y2="252.6" stroke="#777" stroke-width="0.8"/>
<line x1="512.5" y1="252.6" x2="511.1" y2="252.6" stroke="#777" stroke-width="0.8"/>
<rect x="549.6" y="189.4" width="132.9" height="98" fill="none" stroke="#a8a8a8" stroke-width="1.0"/>
<line x1="572.45" y1="287.4" x2="572.45" y2="286" stroke="#777" stroke-width="0.8"/>
<line x1="572.45" y1="189.4" x2="572.45" y2="190.8" stroke="#777" stroke-width="0.8"/>
<line x1="616.5" y1="287.4" x2="616.5" y2="286" stroke="#777" stroke-width="0.8"/>
<line x1="616.5" y1="189.4" x2="616.5" y2="190.8" stroke="#777" stroke-width="0.8"/>
<line x1="660.55" y1="287.4" x2="660.55" y2="286" stroke="#777" stroke-width="0.8"/>
<line x1="660.55" y1="189.4" x2="660.55" y2="190.8" stroke="#777" stroke-width="0.8"/>
<line x1="549.6" y1="213.5" x2="551" y2="213.5" stroke="#777" stroke-width="0.8"/>
<line x1="682.5" y1="213.5" x2="681.1" y2="213.5" stroke="#777" stroke-width="0.8"/>
<line x1="549.6" y1="238.2" x2="551" y2="238.2" stroke="#777" stroke-width="0.8"/>
<line x1="682.5" y1="238.2" x2="681.1" y2="238.2" stroke="#777" stroke-width="0.8"/>
<line x1="549.6" y1="263.2" x2="551" y2="263.2" stroke="#777" stroke-width="0.8"/>
<line x1="682.5" y1="263.2" x2="681.1" y2="263.2" stroke="#777" stroke-width="0.8"/>
<text transform="translate(17.59,197.6) scale(1.0024,1)" font-size="10.593" style="" fill="#222" >0.5</text>
<text transform="translate(11.6,242.19) scale(0.9514,1)" font-size="10.876" style="" fill="#222" >0.25</text>
<text transform="translate(25.89,291.9) scale(0.9874,1)" font-size="10.593" style="" fill="#222" >0</text>
<text transform="translate(44.02,299.7) scale(0.9961,1)" font-size="10.734" style="" fill="#222" >-0.5</text>
<text transform="translate(96.98,299.6) scale(1.0269,1)" font-size="10.593" style="" fill="#222" >0</text>
<text transform="translate(136.18,299.6) scale(1.0096,1)" font-size="10.593" style="" fill="#222" >0.5</text>
<text transform="translate(81.07,310.81) scale(1.0156,1)" font-size="10.090" style="" fill="#222" >Time (ns)</text>
<text transform="translate(187.4,211.9) scale(0.9725,1)" font-size="10.593" style="" fill="#222" >0.2</text>
<text transform="translate(187.43,251.7) scale(0.8871,1)" font-size="10.734" style="" fill="#222" >0.1</text>
<text transform="translate(190.18,291.79) scale(0.9684,1)" font-size="11.017" style="" fill="#222" >0</text>
<text transform="translate(216.12,299.99) scale(0.9816,1)" font-size="11.017" style="" fill="#222" >-0.5</text>
<text transform="translate(268.84,299.99) scale(1.0634,1)" font-size="11.017" style="" fill="#222" >0</text>
<text transform="translate(308.28,299.99) scale(0.9777,1)" font-size="11.017" style="" fill="#222" >0.5</text>
<text transform="translate(253.17,311.34) scale(0.9888,1)" font-size="10.412" style="" fill="#222" >Time (ns)</text>
<text transform="translate(364.23,219.69) scale(0.8713,1)" font-size="11.017" style="" fill="#222" >0.1</text>
<text transform="translate(372.68,290.6) scale(1.0269,1)" font-size="10.593" style="" fill="#222" >0</text>
<text transform="translate(390.61,298.9) scale(1.0464,1)" font-size="10.452" style="" fill="#222" >-0.5</text>
<text transform="translate(443.87,298.9) scale(1.0608,1)" font-size="10.452" style="" fill="#222" >0</text>
<text transform="translate(483.29,298.9) scale(1.0086,1)" font-size="10.452" style="" fill="#222" >0.5</text>
<text transform="translate(428.17,310.84) scale(0.9703,1)" font-size="10.412" style="" fill="#222" >Time (ns)</text>
<text transform="translate(532.36,218.79) scale(1.0139,1)" font-size="11.017" style="" fill="#222" >0.3</text>
<text transform="translate(532.36,243.69) scale(1.0188,1)" font-size="11.017" style="" fill="#222" >0.2</text>
<text transform="translate(532.39,266.69) scale(0.9603,1)" font-size="10.876" style="" fill="#222" >0.1</text>
<text transform="translate(561.13,298.6) scale(1.0171,1)" font-size="10.452" style="" fill="#222" >-0.5</text>
<text transform="translate(614.19,298.6) scale(1.0007,1)" font-size="10.452" style="" fill="#222" >0</text>
<text transform="translate(653.39,298.6) scale(1.0086,1)" font-size="10.452" style="" fill="#222" >0.5</text>
<text transform="translate(598.17,310.34) scale(0.9726,1)" font-size="10.412" style="" fill="#222" >Time (ns)</text>
<text transform="translate(31.63,59.59) scale(1.0300,1)" font-size="12.129" style="" fill="#222" letter-spacing="0.864" >(a)</text>
<text transform="translate(36.06,201.41) scale(1.0300,1)" font-size="10.090" style="" fill="#222" letter-spacing="0.431" >(e)</text>
<text transform="translate(206.36,202.01) scale(1.0300,1)" font-size="10.090" style="" fill="#222" letter-spacing="0.427" >(f)</text>
<text transform="translate(382.36,198.93) scale(1.0300,1)" font-size="9.977" style="" fill="#222" letter-spacing="0.735" >(g)</text>
<text transform="translate(556.16,197.63) scale(1.0300,1)" font-size="9.982" style="" fill="#222" letter-spacing="0.441" >(h)</text>
<text transform="translate(201.9,60.62) scale(1.0300,1)" font-size="12.451" style="" fill="#222" letter-spacing="0.736" >(b)</text>
<text transform="translate(376.75,59.96) scale(1.0300,1)" font-size="11.807" style="" fill="#222" letter-spacing="0.839" >(c)</text>
<text transform="translate(545.93,59.59) scale(1.0300,1)" font-size="12.129" style="" fill="#222" letter-spacing="0.864" >(d)</text>
</svg></body></html>
